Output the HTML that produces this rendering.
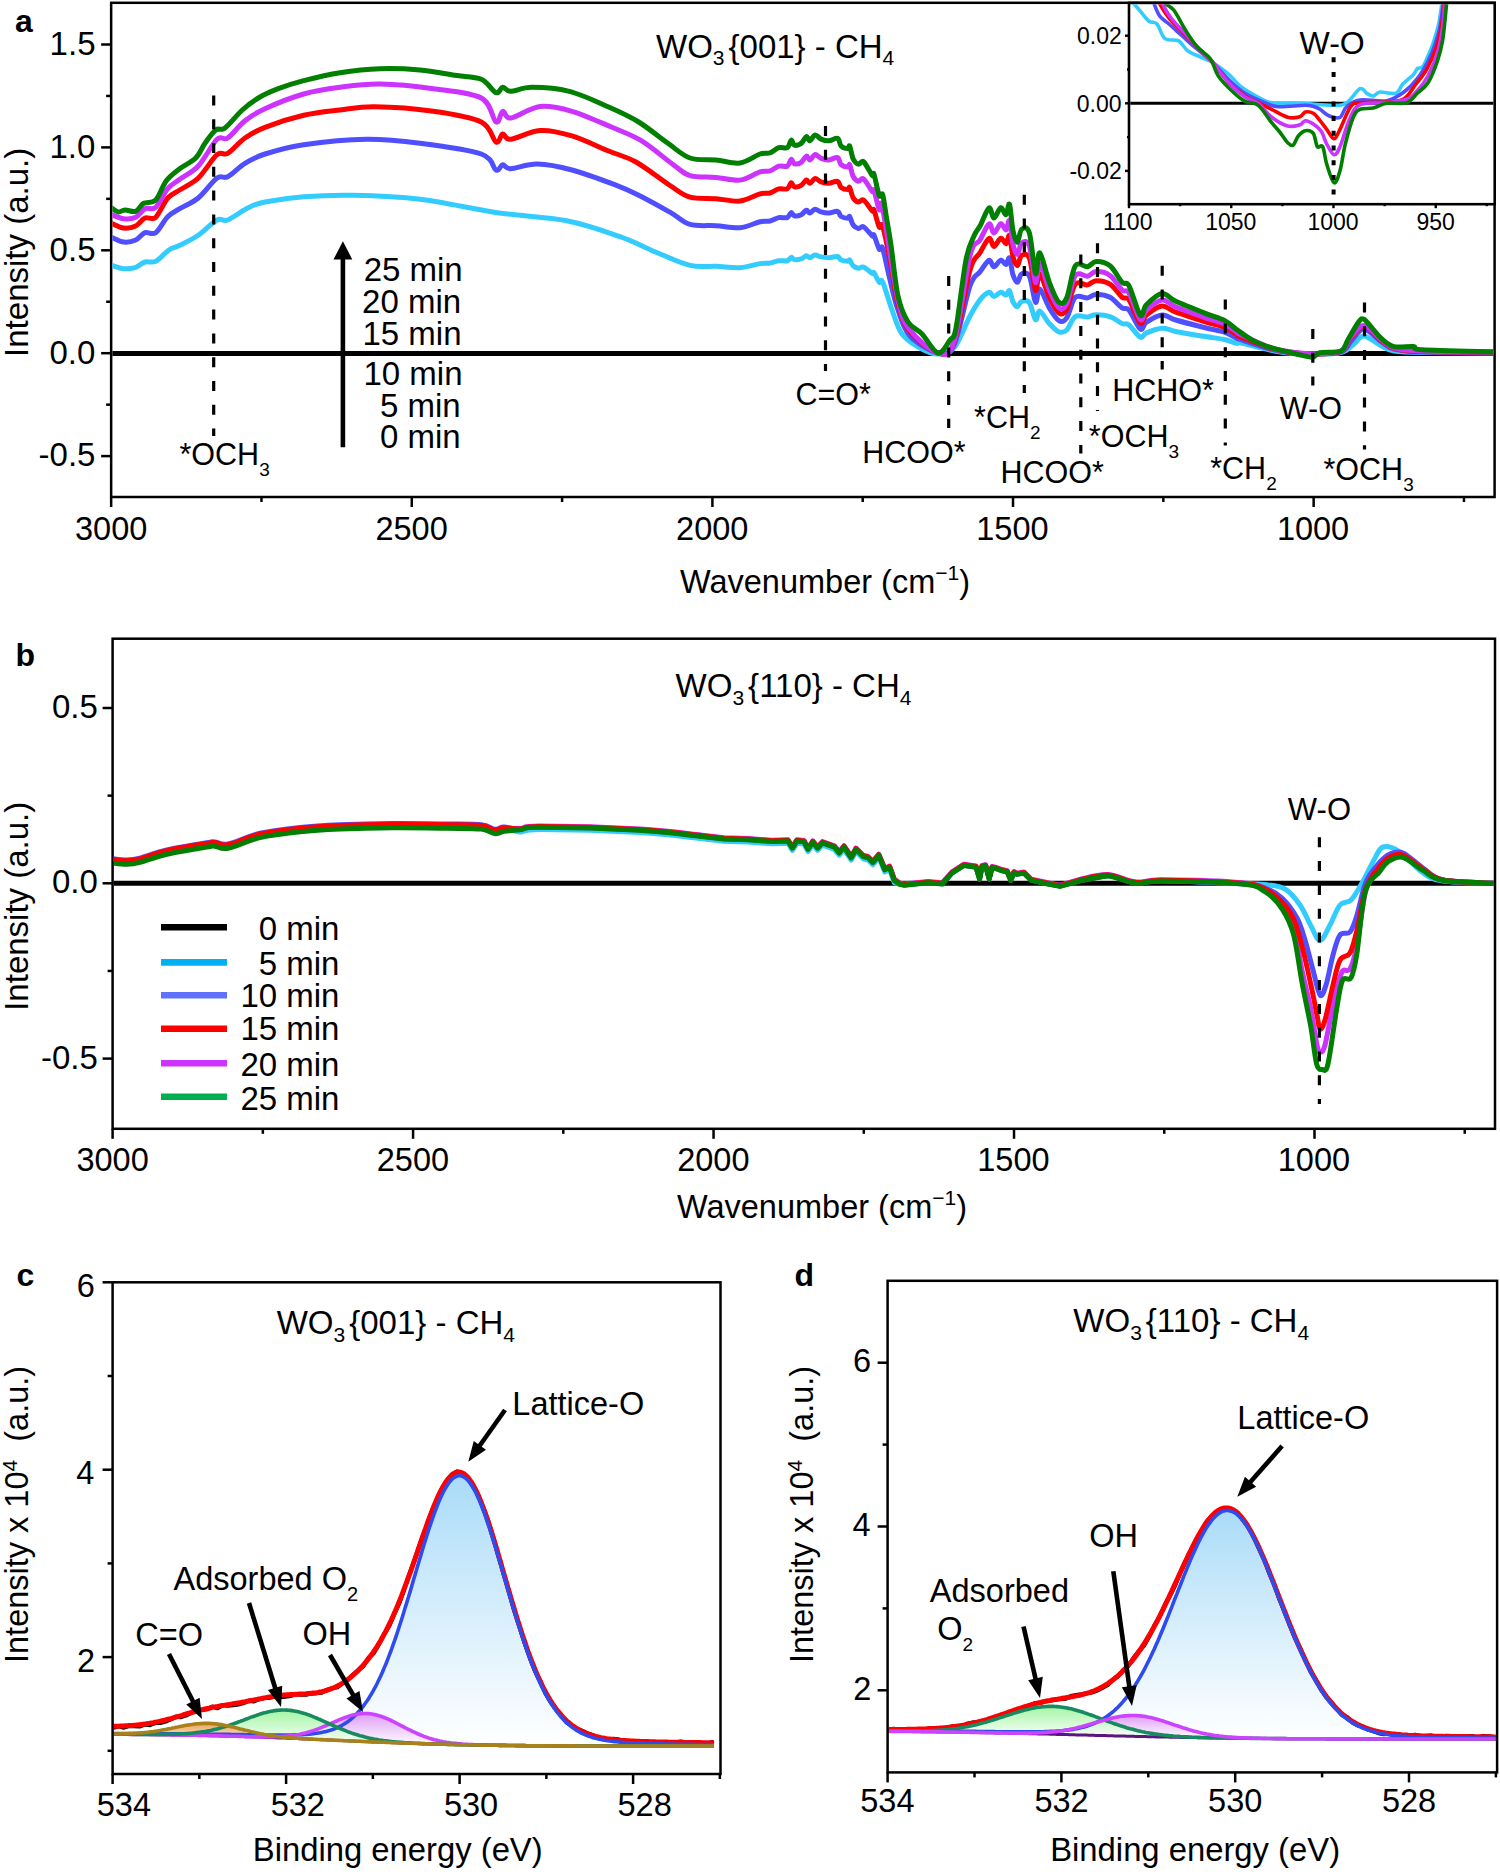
<!DOCTYPE html>
<html><head><meta charset="utf-8"><style>
html,body{margin:0;padding:0;background:#fff;}
svg{display:block;}
text{font-family:"Liberation Sans", sans-serif;fill:#000;}
</style></head><body>
<svg width="1500" height="1874" viewBox="0 0 1500 1874">
<rect x="0" y="0" width="1500" height="1874" fill="#fff"/>
<rect x="111.15" y="2.8" width="1383.45" height="494.20" fill="none" stroke="#000" stroke-width="2.5"/>
<line x1="101.15" y1="44.50" x2="111.15" y2="44.50" stroke="#000" stroke-width="2.5" />
<text x="49.61" y="54.80" font-size="33" text-anchor="start" >1.5</text>
<line x1="101.15" y1="147.40" x2="111.15" y2="147.40" stroke="#000" stroke-width="2.5" />
<text x="49.51" y="157.70" font-size="33" text-anchor="start" >1.0</text>
<line x1="101.15" y1="250.30" x2="111.15" y2="250.30" stroke="#000" stroke-width="2.5" />
<text x="49.61" y="260.60" font-size="33" text-anchor="start" >0.5</text>
<line x1="101.15" y1="353.20" x2="111.15" y2="353.20" stroke="#000" stroke-width="2.5" />
<text x="49.51" y="363.50" font-size="33" text-anchor="start" >0.0</text>
<line x1="101.15" y1="456.10" x2="111.15" y2="456.10" stroke="#000" stroke-width="2.5" />
<text x="38.62" y="466.40" font-size="33" text-anchor="start" >-0.5</text>
<line x1="106.15" y1="95.95" x2="111.15" y2="95.95" stroke="#000" stroke-width="2.5" />
<line x1="106.15" y1="198.85" x2="111.15" y2="198.85" stroke="#000" stroke-width="2.5" />
<line x1="106.15" y1="301.75" x2="111.15" y2="301.75" stroke="#000" stroke-width="2.5" />
<line x1="106.15" y1="404.65" x2="111.15" y2="404.65" stroke="#000" stroke-width="2.5" />
<line x1="111.15" y1="497.00" x2="111.15" y2="507.00" stroke="#000" stroke-width="2.5" />
<text x="75.02" y="540.00" font-size="32.5" text-anchor="start" >3000</text>
<line x1="411.77" y1="497.00" x2="411.77" y2="507.00" stroke="#000" stroke-width="2.5" />
<text x="375.44" y="540.00" font-size="32.5" text-anchor="start" >2500</text>
<line x1="712.40" y1="497.00" x2="712.40" y2="507.00" stroke="#000" stroke-width="2.5" />
<text x="676.07" y="540.00" font-size="32.5" text-anchor="start" >2000</text>
<line x1="1013.02" y1="497.00" x2="1013.02" y2="507.00" stroke="#000" stroke-width="2.5" />
<text x="976.27" y="540.00" font-size="32.5" text-anchor="start" >1500</text>
<line x1="1313.65" y1="497.00" x2="1313.65" y2="507.00" stroke="#000" stroke-width="2.5" />
<text x="1276.90" y="540.00" font-size="32.5" text-anchor="start" >1000</text>
<line x1="261.46" y1="497.00" x2="261.46" y2="502.00" stroke="#000" stroke-width="2.5" />
<line x1="562.09" y1="497.00" x2="562.09" y2="502.00" stroke="#000" stroke-width="2.5" />
<line x1="862.71" y1="497.00" x2="862.71" y2="502.00" stroke="#000" stroke-width="2.5" />
<line x1="1163.34" y1="497.00" x2="1163.34" y2="502.00" stroke="#000" stroke-width="2.5" />
<line x1="1463.96" y1="497.00" x2="1463.96" y2="502.00" stroke="#000" stroke-width="2.5" />
<text x="27.90" y="356.90" font-size="33" text-anchor="start" transform="rotate(-90 27.9 356.9)">Intensity (a.u.)</text>
<text x="680" y="592.5" font-size="32.5">Wavenumber (cm<tspan font-size="21" dy="-13">&#8722;1</tspan><tspan dy="13">)</tspan></text>
<text x="15.00" y="32.00" font-size="32" font-weight="bold" text-anchor="start" >a</text>
<defs><clipPath id="clipA"><rect x="112.4" y="4.05" width="1381" height="491.7"/></clipPath><clipPath id="clipIns"><rect x="1130.3" y="4.3" width="363" height="198.5"/></clipPath></defs>
<g clip-path="url(#clipA)">
<line x1="111.15" y1="353.50" x2="1494.60" y2="353.50" stroke="#000" stroke-width="5" />
<path d="M111.70,265.30 C113.70,265.87 119.70,268.37 123.70,268.70 C127.70,269.03 132.15,268.42 135.70,267.30 C139.25,266.18 141.67,263.00 145.00,262.00 C148.33,261.00 151.70,263.30 155.70,261.30 C159.70,259.30 165.00,252.67 169.00,250.00 C173.00,247.33 174.82,247.75 179.70,245.30 C184.58,242.85 192.08,239.52 198.30,235.30 C204.52,231.08 212.10,222.55 217.00,220.00 C221.90,217.45 222.58,222.00 227.70,220.00 C232.82,218.00 241.48,211.00 247.70,208.00 C253.92,205.00 255.67,203.88 265.00,202.00 C274.33,200.12 288.98,197.82 303.70,196.70 C318.42,195.58 333.92,194.87 353.30,195.30 C372.68,195.73 396.00,196.40 420.00,199.30 C444.00,202.20 472.85,209.13 497.30,212.70 C521.75,216.27 546.25,216.70 566.70,220.70 C587.15,224.70 604.90,231.37 620.00,236.70 C635.10,242.03 645.63,247.91 657.30,252.70 C668.97,257.49 680.22,263.15 690.00,265.42 C699.78,267.68 707.67,265.94 716.00,266.31 C724.33,266.69 732.67,268.12 740.00,267.67 C747.33,267.22 755.00,264.37 760.00,263.62 C765.00,262.86 766.88,263.59 770.00,263.12 C773.12,262.65 775.82,261.17 778.70,260.78 C781.58,260.39 785.22,261.35 787.30,260.78 C789.38,260.21 790.03,257.56 791.20,257.36 C792.37,257.17 792.63,259.36 794.30,259.61 C795.97,259.86 799.18,259.48 801.20,258.85 C803.22,258.21 804.95,255.98 806.40,255.78 C807.85,255.59 808.45,257.80 809.90,257.68 C811.35,257.55 813.23,255.15 815.10,255.02 C816.97,254.89 818.80,256.47 821.10,256.91 C823.40,257.35 826.15,257.74 828.90,257.68 C831.65,257.62 835.57,256.16 837.60,256.55 C839.63,256.94 839.37,259.24 841.10,260.01 C842.83,260.79 846.57,261.18 848.00,261.19 C849.43,261.19 848.83,259.28 849.70,260.06 C850.57,260.84 851.75,264.51 853.20,265.87 C854.65,267.22 856.67,268.00 858.40,268.20 C860.13,268.41 861.28,266.23 863.60,267.08 C865.92,267.93 870.57,272.35 872.30,273.29 C874.03,274.23 872.85,271.21 874.00,272.70 C875.15,274.20 877.75,280.71 879.20,282.25 C880.65,283.78 880.57,277.30 882.70,281.93 C884.83,286.56 888.78,301.32 892.00,310.00 C895.22,318.68 897.33,327.67 902.00,334.00 C906.67,340.33 914.00,344.67 920.00,348.00 C926.00,351.33 932.33,354.00 938.00,354.00 C943.67,354.00 948.67,354.33 954.00,348.00 C959.33,341.67 965.67,324.03 970.00,316.00 C974.33,307.97 976.83,303.79 980.00,299.83 C983.17,295.88 986.68,292.83 989.00,292.27 C991.32,291.72 991.93,296.54 993.90,296.52 C995.87,296.50 998.78,292.39 1000.80,292.15 C1002.82,291.91 1004.55,295.33 1006.00,295.09 C1007.45,294.85 1008.35,289.63 1009.50,290.72 C1010.65,291.81 1011.60,298.97 1012.90,301.64 C1014.20,304.31 1015.85,306.78 1017.30,306.72 C1018.75,306.66 1019.58,301.93 1021.60,301.26 C1023.62,300.60 1027.08,299.64 1029.40,302.73 C1031.72,305.83 1033.77,318.43 1035.50,319.83 C1037.23,321.22 1037.50,310.48 1039.80,311.09 C1042.10,311.70 1046.12,320.02 1049.30,323.48 C1052.48,326.94 1056.00,330.75 1058.90,331.84 C1061.80,332.93 1063.97,332.58 1066.70,330.03 C1069.43,327.48 1071.83,318.73 1075.30,316.55 C1078.77,314.37 1084.03,317.23 1087.50,316.93 C1090.97,316.63 1092.35,314.81 1096.10,314.74 C1099.85,314.68 1105.67,315.09 1110.00,316.55 C1114.33,318.01 1118.93,322.09 1122.10,323.48 C1125.27,324.87 1125.97,322.61 1129.00,324.91 C1132.03,327.21 1137.40,335.96 1140.30,337.30 C1143.20,338.63 1142.78,334.45 1146.40,332.93 C1150.02,331.41 1157.10,328.43 1162.00,328.18 C1166.90,327.94 1168.58,330.07 1175.80,331.46 C1183.02,332.85 1197.20,335.20 1205.30,336.54 C1213.40,337.88 1219.12,338.33 1224.40,339.48 C1229.68,340.63 1234.40,342.86 1237.00,343.43 C1239.60,344.00 1234.50,341.80 1240.00,342.90 C1245.50,344.00 1262.00,348.32 1270.00,350.00 C1278.00,351.68 1280.88,352.33 1288.00,353.00 C1295.12,353.67 1303.87,354.08 1312.70,354.00 C1321.53,353.92 1334.12,354.17 1341.00,352.50 C1347.88,350.83 1350.17,346.75 1354.00,344.00 C1357.83,341.25 1359.40,335.67 1364.00,336.00 C1368.60,336.33 1376.60,343.50 1381.60,346.00 C1386.60,348.50 1387.27,349.92 1394.00,351.00 C1400.73,352.08 1405.50,352.17 1422.00,352.50 C1438.50,352.83 1481.17,352.92 1493.00,353.00" fill="none" stroke="#33CCFF" stroke-width="5.0" stroke-linejoin="round" stroke-linecap="round" />
<path d="M111.70,237.30 C113.70,238.08 119.70,241.55 123.70,242.00 C127.70,242.45 132.15,241.55 135.70,240.00 C139.25,238.45 141.67,233.92 145.00,232.70 C148.33,231.48 151.92,235.37 155.70,232.70 C159.48,230.03 163.70,220.70 167.70,216.70 C171.70,212.70 174.60,211.82 179.70,208.70 C184.80,205.58 192.08,203.12 198.30,198.00 C204.52,192.88 212.10,181.55 217.00,178.00 C221.90,174.45 223.03,179.15 227.70,176.70 C232.37,174.25 238.78,167.08 245.00,163.30 C251.22,159.52 255.22,157.10 265.00,154.00 C274.78,150.90 286.75,147.15 303.70,144.70 C320.65,142.25 347.32,139.53 366.70,139.30 C386.08,139.07 400.90,140.85 420.00,143.30 C439.10,145.75 468.63,149.55 481.30,154.00 C493.97,158.45 492.43,168.22 496.00,170.00 C499.57,171.78 500.25,164.92 502.70,164.70 C505.15,164.48 504.93,168.80 510.70,168.70 C516.47,168.60 527.08,163.88 537.30,164.10 C547.52,164.32 559.10,166.57 572.00,170.00 C584.90,173.43 603.58,180.48 614.70,184.70 C625.82,188.92 629.37,190.63 638.70,195.30 C648.03,199.97 662.15,207.85 670.70,212.70 C679.25,217.55 682.45,222.23 690.00,224.40 C697.55,226.57 707.67,225.17 716.00,225.72 C724.33,226.27 732.67,228.36 740.00,227.70 C747.33,227.04 755.00,222.87 760.00,221.76 C765.00,220.65 766.88,221.73 770.00,221.04 C773.12,220.34 775.82,218.18 778.70,217.60 C781.58,217.03 785.22,218.44 787.30,217.60 C789.38,216.77 790.03,212.87 791.20,212.59 C792.37,212.30 792.63,215.53 794.30,215.89 C795.97,216.25 799.18,215.70 801.20,214.77 C803.22,213.83 804.95,210.56 806.40,210.28 C807.85,209.99 808.45,213.24 809.90,213.05 C811.35,212.86 813.23,209.34 815.10,209.16 C816.97,208.97 818.80,211.28 821.10,211.93 C823.40,212.58 826.15,213.14 828.90,213.05 C831.65,212.96 835.57,210.83 837.60,211.40 C839.63,211.97 839.37,215.35 841.10,216.48 C842.83,217.62 846.57,218.19 848.00,218.20 C849.43,218.21 848.83,215.40 849.70,216.55 C850.57,217.69 851.75,223.07 853.20,225.06 C854.65,227.05 856.67,228.20 858.40,228.49 C860.13,228.79 861.28,225.60 863.60,226.84 C865.92,228.09 870.57,234.58 872.30,235.95 C874.03,237.33 872.85,232.91 874.00,235.09 C875.15,237.28 877.75,246.83 879.20,249.09 C880.65,251.34 880.90,243.47 882.70,248.62 C884.50,253.78 887.45,269.77 890.00,280.00 C892.55,290.23 894.67,300.67 898.00,310.00 C901.33,319.33 903.33,328.83 910.00,336.00 C916.67,343.17 930.67,351.50 938.00,353.00 C945.33,354.50 948.67,356.17 954.00,345.00 C959.33,333.83 965.67,298.20 970.00,286.00 C974.33,273.80 976.83,276.11 980.00,271.83 C983.17,267.55 986.68,261.15 989.00,260.31 C991.32,259.47 991.93,266.80 993.90,266.77 C995.87,266.74 998.78,260.48 1000.80,260.12 C1002.82,259.75 1004.55,264.96 1006.00,264.60 C1007.45,264.23 1008.35,256.28 1009.50,257.94 C1010.65,259.60 1011.60,270.52 1012.90,274.58 C1014.20,278.64 1015.85,282.42 1017.30,282.32 C1018.75,282.23 1019.58,275.02 1021.60,274.00 C1023.62,272.99 1027.08,271.53 1029.40,276.24 C1031.72,280.96 1033.77,300.17 1035.50,302.29 C1037.23,304.41 1037.50,288.05 1039.80,288.98 C1042.10,289.91 1046.12,302.59 1049.30,307.86 C1052.48,313.13 1056.00,318.93 1058.90,320.60 C1061.80,322.26 1063.97,321.73 1066.70,317.84 C1069.43,313.96 1071.83,300.63 1075.30,297.30 C1078.77,293.97 1084.03,298.33 1087.50,297.88 C1090.97,297.42 1092.35,294.64 1096.10,294.55 C1099.85,294.45 1105.67,295.08 1110.00,297.30 C1114.33,299.52 1118.93,305.74 1122.10,307.86 C1125.27,309.98 1125.97,306.53 1129.00,310.04 C1132.03,313.55 1137.40,326.88 1140.30,328.92 C1143.20,330.95 1142.78,324.57 1146.40,322.26 C1150.02,319.95 1157.10,315.40 1162.00,315.03 C1166.90,314.65 1168.58,317.90 1175.80,320.02 C1183.02,322.14 1197.20,325.73 1205.30,327.76 C1213.40,329.80 1219.12,330.49 1224.40,332.24 C1229.68,333.99 1234.40,337.07 1237.00,338.26 C1239.60,339.45 1234.50,337.61 1240.00,339.40 C1245.50,341.19 1262.00,346.82 1270.00,349.00 C1278.00,351.18 1280.88,351.67 1288.00,352.50 C1295.12,353.33 1303.87,354.08 1312.70,354.00 C1321.53,353.92 1334.45,354.33 1341.00,352.00 C1347.55,349.67 1348.17,343.83 1352.00,340.00 C1355.83,336.17 1359.07,328.67 1364.00,329.00 C1368.93,329.33 1376.60,338.67 1381.60,342.00 C1386.60,345.33 1387.27,347.33 1394.00,349.00 C1400.73,350.67 1405.50,351.42 1422.00,352.00 C1438.50,352.58 1481.17,352.42 1493.00,352.50" fill="none" stroke="#4F4FFF" stroke-width="5.0" stroke-linejoin="round" stroke-linecap="round" />
<path d="M111.70,223.30 C113.70,224.08 119.70,227.55 123.70,228.00 C127.70,228.45 132.15,227.67 135.70,226.00 C139.25,224.33 141.67,219.45 145.00,218.00 C148.33,216.55 151.92,220.63 155.70,217.30 C159.48,213.97 163.70,202.55 167.70,198.00 C171.70,193.45 174.60,193.33 179.70,190.00 C184.80,186.67 192.08,183.88 198.30,178.00 C204.52,172.12 212.10,158.82 217.00,154.70 C221.90,150.58 223.03,156.08 227.70,153.30 C232.37,150.52 238.78,142.33 245.00,138.00 C251.22,133.67 255.22,131.08 265.00,127.30 C274.78,123.52 291.20,118.18 303.70,115.30 C316.20,112.42 328.17,111.42 340.00,110.00 C351.83,108.58 359.15,106.58 374.70,106.80 C390.25,107.02 415.53,108.77 433.30,111.30 C451.07,113.83 470.85,116.88 481.30,122.00 C491.75,127.12 492.43,140.00 496.00,142.00 C499.57,144.00 500.25,134.45 502.70,134.00 C505.15,133.55 504.48,139.88 510.70,139.30 C516.92,138.72 529.78,131.07 540.00,130.50 C550.22,129.93 560.45,132.43 572.00,135.90 C583.55,139.37 598.63,146.95 609.30,151.30 C619.97,155.65 625.77,156.22 636.00,162.00 C646.23,167.78 661.70,180.16 670.70,186.00 C679.70,191.84 682.45,194.95 690.00,197.06 C697.55,199.17 707.67,197.99 716.00,198.66 C724.33,199.33 732.67,201.86 740.00,201.06 C747.33,200.26 755.00,195.21 760.00,193.86 C765.00,192.51 766.88,193.82 770.00,192.98 C773.12,192.14 775.82,189.51 778.70,188.82 C781.58,188.13 785.22,189.83 787.30,188.82 C789.38,187.81 790.03,183.09 791.20,182.74 C792.37,182.39 792.63,186.30 794.30,186.74 C795.97,187.18 799.18,186.51 801.20,185.38 C803.22,184.25 804.95,180.29 806.40,179.94 C807.85,179.59 808.45,183.53 809.90,183.30 C811.35,183.07 813.23,178.81 815.10,178.58 C816.97,178.35 818.80,181.15 821.10,181.94 C823.40,182.73 826.15,183.41 828.90,183.30 C831.65,183.19 835.57,180.61 837.60,181.30 C839.63,181.99 839.37,186.09 841.10,187.46 C842.83,188.83 846.57,189.53 848.00,189.54 C849.43,189.55 848.83,186.15 849.70,187.54 C850.57,188.93 851.75,195.45 853.20,197.86 C854.65,200.27 856.67,201.66 858.40,202.02 C860.13,202.38 861.28,198.51 863.60,200.02 C865.92,201.53 870.57,209.39 872.30,211.06 C874.03,212.73 872.85,207.37 874.00,210.02 C875.15,212.67 877.75,224.25 879.20,226.98 C880.65,229.71 880.90,220.92 882.70,226.42 C884.50,231.92 887.45,247.07 890.00,260.00 C892.55,272.93 894.67,292.00 898.00,304.00 C901.33,316.00 903.33,323.83 910.00,332.00 C916.67,340.17 930.67,351.17 938.00,353.00 C945.33,354.83 948.67,356.83 954.00,343.00 C959.33,329.17 965.67,285.04 970.00,270.00 C974.33,254.96 976.83,257.98 980.00,252.73 C983.17,247.49 986.68,239.55 989.00,238.51 C991.32,237.47 991.93,246.53 993.90,246.49 C995.87,246.45 998.78,238.72 1000.80,238.28 C1002.82,237.83 1004.55,244.25 1006.00,243.81 C1007.45,243.36 1008.35,233.54 1009.50,235.59 C1010.65,237.64 1011.60,251.11 1012.90,256.13 C1014.20,261.15 1015.85,265.81 1017.30,265.69 C1018.75,265.57 1019.58,256.67 1021.60,255.42 C1023.62,254.17 1027.08,252.36 1029.40,258.18 C1031.72,264.00 1033.77,287.72 1035.50,290.34 C1037.23,292.96 1037.50,272.76 1039.80,273.90 C1042.10,275.05 1046.12,290.71 1049.30,297.21 C1052.48,303.71 1056.00,310.88 1058.90,312.93 C1061.80,314.98 1063.97,314.33 1066.70,309.53 C1069.43,304.74 1071.83,288.28 1075.30,284.18 C1078.77,280.07 1084.03,285.45 1087.50,284.89 C1090.97,284.32 1092.35,280.90 1096.10,280.78 C1099.85,280.66 1105.67,281.44 1110.00,284.18 C1114.33,286.91 1118.93,294.59 1122.10,297.21 C1125.27,299.83 1125.97,295.56 1129.00,299.90 C1132.03,304.23 1137.40,320.69 1140.30,323.20 C1143.20,325.72 1142.78,317.84 1146.40,314.99 C1150.02,312.13 1157.10,306.52 1162.00,306.06 C1166.90,305.60 1168.58,309.60 1175.80,312.22 C1183.02,314.84 1197.20,319.26 1205.30,321.78 C1213.40,324.29 1219.12,325.15 1224.40,327.31 C1229.68,329.47 1234.40,333.15 1237.00,334.74 C1239.60,336.32 1234.50,334.59 1240.00,336.80 C1245.50,339.01 1262.00,345.47 1270.00,348.00 C1278.00,350.53 1280.88,351.00 1288.00,352.00 C1295.12,353.00 1303.87,354.08 1312.70,354.00 C1321.53,353.92 1334.78,354.00 1341.00,351.50 C1347.22,349.00 1346.17,343.20 1350.00,339.00 C1353.83,334.80 1358.73,325.97 1364.00,326.30 C1369.27,326.63 1376.60,337.30 1381.60,341.00 C1386.60,344.70 1387.27,346.75 1394.00,348.50 C1400.73,350.25 1405.50,350.92 1422.00,351.50 C1438.50,352.08 1481.17,351.92 1493.00,352.00" fill="none" stroke="#FF0000" stroke-width="5.0" stroke-linejoin="round" stroke-linecap="round" />
<path d="M111.70,214.70 C113.70,215.37 119.70,218.27 123.70,218.70 C127.70,219.13 132.15,218.97 135.70,217.30 C139.25,215.63 141.67,210.37 145.00,208.70 C148.33,207.03 151.92,210.63 155.70,207.30 C159.48,203.97 163.70,193.37 167.70,188.70 C171.70,184.03 174.60,183.08 179.70,179.30 C184.80,175.52 192.08,172.67 198.30,166.00 C204.52,159.33 212.10,143.97 217.00,139.30 C221.90,134.63 223.03,141.10 227.70,138.00 C232.37,134.90 238.78,125.58 245.00,120.70 C251.22,115.82 255.22,113.15 265.00,108.70 C274.78,104.25 291.20,97.57 303.70,94.00 C316.20,90.43 327.28,88.95 340.00,87.30 C352.72,85.65 364.45,83.87 380.00,84.10 C395.55,84.33 416.42,86.38 433.30,88.70 C450.18,91.02 470.85,92.45 481.30,98.00 C491.75,103.55 492.43,119.78 496.00,122.00 C499.57,124.22 500.25,111.97 502.70,111.30 C505.15,110.63 504.48,118.80 510.70,118.00 C516.92,117.20 529.78,107.62 540.00,106.50 C550.22,105.38 560.00,107.83 572.00,111.30 C584.00,114.77 600.45,122.40 612.00,127.30 C623.55,132.20 631.08,134.47 641.30,140.70 C651.52,146.93 665.18,158.89 673.30,164.70 C681.42,170.51 682.88,173.46 690.00,175.58 C697.12,177.69 707.67,176.64 716.00,177.40 C724.33,178.16 732.67,181.04 740.00,180.13 C747.33,179.22 755.00,173.47 760.00,171.94 C765.00,170.41 766.88,171.89 770.00,170.94 C773.12,169.98 775.82,166.99 778.70,166.20 C781.58,165.42 785.22,167.36 787.30,166.20 C789.38,165.05 790.03,159.68 791.20,159.29 C792.37,158.89 792.63,163.34 794.30,163.84 C795.97,164.34 799.18,163.58 801.20,162.29 C803.22,161.00 804.95,156.50 806.40,156.10 C807.85,155.71 808.45,160.18 809.90,159.93 C811.35,159.67 813.23,154.81 815.10,154.56 C816.97,154.30 818.80,157.48 821.10,158.38 C823.40,159.27 826.15,160.05 828.90,159.93 C831.65,159.80 835.57,156.86 837.60,157.65 C839.63,158.44 839.37,163.09 841.10,164.66 C842.83,166.22 846.57,167.01 848.00,167.02 C849.43,167.04 848.83,163.17 849.70,164.75 C850.57,166.33 851.75,173.74 853.20,176.49 C854.65,179.23 856.67,180.81 858.40,181.22 C860.13,181.63 861.28,177.23 863.60,178.94 C865.92,180.66 870.57,189.61 872.30,191.50 C874.03,193.40 872.85,187.30 874.00,190.32 C875.15,193.34 877.75,206.50 879.20,209.61 C880.65,212.72 879.57,193.91 882.70,208.97 C885.83,224.04 893.45,279.83 898.00,300.00 C902.55,320.17 903.33,321.17 910.00,330.00 C916.67,338.83 930.67,351.00 938.00,353.00 C945.33,355.00 948.67,358.17 954.00,342.00 C959.33,325.83 965.67,273.00 970.00,256.00 C974.33,239.00 976.83,245.34 980.00,240.00 C983.17,234.67 986.68,225.15 989.00,223.98 C991.32,222.81 991.93,233.02 993.90,232.97 C995.87,232.93 998.78,224.22 1000.80,223.72 C1002.82,223.21 1004.55,230.45 1006.00,229.95 C1007.45,229.44 1008.35,218.38 1009.50,220.69 C1010.65,223.00 1011.60,238.18 1012.90,243.83 C1014.20,249.48 1015.85,254.73 1017.30,254.60 C1018.75,254.47 1019.58,244.44 1021.60,243.03 C1023.62,241.62 1027.08,239.59 1029.40,246.14 C1031.72,252.70 1033.77,279.42 1035.50,282.37 C1037.23,285.32 1037.50,262.56 1039.80,263.86 C1042.10,265.15 1046.12,282.78 1049.30,290.11 C1052.48,297.44 1056.00,305.51 1058.90,307.82 C1061.80,310.13 1063.97,309.39 1066.70,303.99 C1069.43,298.59 1071.83,280.05 1075.30,275.43 C1078.77,270.80 1084.03,276.86 1087.50,276.23 C1090.97,275.59 1092.35,271.73 1096.10,271.60 C1099.85,271.46 1105.67,272.34 1110.00,275.43 C1114.33,278.51 1118.93,287.16 1122.10,290.11 C1125.27,293.06 1125.97,288.26 1129.00,293.14 C1132.03,298.02 1137.40,316.56 1140.30,319.39 C1143.20,322.22 1142.78,313.35 1146.40,310.13 C1150.02,306.92 1157.10,300.60 1162.00,300.08 C1166.90,299.56 1168.58,304.07 1175.80,307.02 C1183.02,309.97 1197.20,314.96 1205.30,317.79 C1213.40,320.62 1219.12,321.59 1224.40,324.02 C1229.68,326.45 1234.40,330.69 1237.00,332.38 C1239.60,334.08 1234.50,331.68 1240.00,334.20 C1245.50,336.72 1262.00,344.62 1270.00,347.50 C1278.00,350.38 1280.88,350.42 1288.00,351.50 C1295.12,352.58 1303.87,354.08 1312.70,354.00 C1321.53,353.92 1334.78,353.67 1341.00,351.00 C1347.22,348.33 1346.17,342.27 1350.00,338.00 C1353.83,333.73 1358.73,325.07 1364.00,325.40 C1369.27,325.73 1376.60,336.23 1381.60,340.00 C1386.60,343.77 1387.27,346.17 1394.00,348.00 C1400.73,349.83 1405.50,350.33 1422.00,351.00 C1438.50,351.67 1481.17,351.83 1493.00,352.00" fill="none" stroke="#CC33FF" stroke-width="5.0" stroke-linejoin="round" stroke-linecap="round" />
<path d="M111.70,208.00 C112.80,208.67 116.08,211.67 118.30,212.00 C120.52,212.33 122.10,210.12 125.00,210.00 C127.90,209.88 132.58,212.42 135.70,211.30 C138.82,210.18 140.37,205.18 143.70,203.30 C147.03,201.42 151.93,203.77 155.70,200.00 C159.47,196.23 162.30,185.92 166.30,180.70 C170.30,175.48 174.80,172.48 179.70,168.70 C184.60,164.92 191.48,162.23 195.70,158.00 C199.92,153.77 201.67,147.97 205.00,143.30 C208.33,138.63 212.37,132.55 215.70,130.00 C219.03,127.45 220.57,131.33 225.00,128.00 C229.43,124.67 236.75,115.00 242.30,110.00 C247.85,105.00 252.30,101.55 258.30,98.00 C264.30,94.45 270.73,91.58 278.30,88.70 C285.87,85.82 293.42,83.37 303.70,80.70 C313.98,78.03 327.28,74.70 340.00,72.70 C352.72,70.70 366.67,69.15 380.00,68.70 C393.33,68.25 407.55,68.90 420.00,70.00 C432.45,71.10 444.48,73.75 454.70,75.30 C464.92,76.85 474.42,76.40 481.30,79.30 C488.18,82.20 492.43,91.37 496.00,92.70 C499.57,94.03 500.25,87.53 502.70,87.30 C505.15,87.07 505.82,91.30 510.70,91.30 C515.58,91.30 522.23,87.30 532.00,87.30 C541.77,87.30 556.42,87.97 569.30,91.30 C582.18,94.63 597.73,102.18 609.30,107.30 C620.87,112.42 628.92,116.00 638.70,122.00 C648.48,128.00 659.45,137.30 668.00,143.30 C676.55,149.30 682.00,155.22 690.00,158.00 C698.00,160.78 707.67,159.17 716.00,160.00 C724.33,160.83 732.67,164.00 740.00,163.00 C747.33,162.00 755.00,155.68 760.00,154.00 C765.00,152.32 766.88,153.95 770.00,152.90 C773.12,151.85 775.82,148.57 778.70,147.70 C781.58,146.83 785.22,148.97 787.30,147.70 C789.38,146.43 790.03,140.53 791.20,140.10 C792.37,139.67 792.63,144.55 794.30,145.10 C795.97,145.65 799.18,144.82 801.20,143.40 C803.22,141.98 804.95,137.03 806.40,136.60 C807.85,136.17 808.45,141.08 809.90,140.80 C811.35,140.52 813.23,135.18 815.10,134.90 C816.97,134.62 818.80,138.12 821.10,139.10 C823.40,140.08 826.15,140.93 828.90,140.80 C831.65,140.67 835.57,137.43 837.60,138.30 C839.63,139.17 839.37,144.28 841.10,146.00 C842.83,147.72 846.57,148.58 848.00,148.60 C849.43,148.62 848.83,144.37 849.70,146.10 C850.57,147.83 851.75,155.98 853.20,159.00 C854.65,162.02 856.67,163.75 858.40,164.20 C860.13,164.65 861.28,159.82 863.60,161.70 C865.92,163.58 870.57,173.42 872.30,175.50 C874.03,177.58 872.85,170.88 874.00,174.20 C875.15,177.52 877.75,191.98 879.20,195.40 C880.65,198.82 881.55,191.38 882.70,194.70 C883.85,198.02 884.72,206.92 886.10,215.30 C887.48,223.68 889.02,231.55 891.00,245.00 C892.98,258.45 895.17,283.17 898.00,296.00 C900.83,308.83 904.00,315.67 908.00,322.00 C912.00,328.33 917.00,328.83 922.00,334.00 C927.00,339.17 933.33,352.00 938.00,353.00 C942.67,354.00 947.00,344.17 950.00,340.00 C953.00,335.83 953.33,341.33 956.00,328.00 C958.67,314.67 963.00,275.33 966.00,260.00 C969.00,244.67 971.67,241.67 974.00,236.00 C976.33,230.33 977.50,230.67 980.00,226.00 C982.50,221.33 986.68,209.32 989.00,208.00 C991.32,206.68 991.93,218.15 993.90,218.10 C995.87,218.05 998.78,208.27 1000.80,207.70 C1002.82,207.13 1004.55,215.27 1006.00,214.70 C1007.45,214.13 1008.35,201.70 1009.50,204.30 C1010.65,206.90 1011.60,223.95 1012.90,230.30 C1014.20,236.65 1015.85,242.55 1017.30,242.40 C1018.75,242.25 1019.58,230.98 1021.60,229.40 C1023.62,227.82 1027.08,225.53 1029.40,232.90 C1031.72,240.27 1033.77,270.28 1035.50,273.60 C1037.23,276.92 1037.50,251.35 1039.80,252.80 C1042.10,254.25 1046.12,274.07 1049.30,282.30 C1052.48,290.53 1056.00,299.60 1058.90,302.20 C1061.80,304.80 1063.97,303.97 1066.70,297.90 C1069.43,291.83 1071.83,271.00 1075.30,265.80 C1078.77,260.60 1084.03,267.42 1087.50,266.70 C1090.97,265.98 1092.35,261.65 1096.10,261.50 C1099.85,261.35 1105.67,262.33 1110.00,265.80 C1114.33,269.27 1118.93,278.98 1122.10,282.30 C1125.27,285.62 1125.97,280.22 1129.00,285.70 C1132.03,291.18 1137.40,312.02 1140.30,315.20 C1143.20,318.38 1142.78,308.42 1146.40,304.80 C1150.02,301.18 1157.10,294.08 1162.00,293.50 C1166.90,292.92 1168.58,297.98 1175.80,301.30 C1183.02,304.62 1197.20,310.22 1205.30,313.40 C1213.40,316.58 1219.12,317.67 1224.40,320.40 C1229.68,323.13 1232.28,326.47 1237.00,329.80 C1241.72,333.13 1247.15,337.45 1252.70,340.40 C1258.25,343.35 1264.42,345.58 1270.30,347.50 C1276.18,349.42 1282.70,350.58 1288.00,351.90 C1293.30,353.22 1297.98,354.52 1302.10,355.40 C1306.22,356.28 1309.75,357.63 1312.70,357.20 C1315.65,356.77 1315.08,353.83 1319.80,352.80 C1324.52,351.77 1336.28,353.22 1341.00,351.00 C1345.72,348.78 1345.15,344.35 1348.10,339.50 C1351.05,334.65 1356.05,325.28 1358.70,321.90 C1361.35,318.52 1361.65,318.03 1364.00,319.20 C1366.35,320.37 1369.87,325.65 1372.80,328.90 C1375.73,332.15 1378.07,335.75 1381.60,338.70 C1385.13,341.65 1388.70,345.28 1394.00,346.60 C1399.30,347.92 1408.68,346.07 1413.40,346.60 C1418.12,347.13 1409.03,348.92 1422.30,349.80 C1435.57,350.68 1481.22,351.55 1493.00,351.90" fill="none" stroke="#007F00" stroke-width="5.0" stroke-linejoin="round" stroke-linecap="round" />
</g>
<line x1="213.70" y1="95.40" x2="213.70" y2="436.00" stroke="#000" stroke-width="3.2" stroke-dasharray="10 13.8"/>
<line x1="825.50" y1="126.00" x2="825.50" y2="371.00" stroke="#000" stroke-width="3.2" stroke-dasharray="10 13.8"/>
<line x1="948.70" y1="276.00" x2="948.70" y2="428.00" stroke="#000" stroke-width="3.2" stroke-dasharray="10 13.8"/>
<line x1="1024.30" y1="194.70" x2="1024.30" y2="393.00" stroke="#000" stroke-width="3.2" stroke-dasharray="10 13.8"/>
<line x1="1080.80" y1="254.50" x2="1080.80" y2="453.50" stroke="#000" stroke-width="3.2" stroke-dasharray="10 13.8"/>
<line x1="1097.50" y1="243.30" x2="1097.50" y2="411.00" stroke="#000" stroke-width="3.2" stroke-dasharray="10 13.8"/>
<line x1="1162.20" y1="265.80" x2="1162.20" y2="369.50" stroke="#000" stroke-width="3.2" stroke-dasharray="10 13.8"/>
<line x1="1225.30" y1="299.60" x2="1225.30" y2="445.50" stroke="#000" stroke-width="3.2" stroke-dasharray="10 13.8"/>
<line x1="1312.80" y1="329.00" x2="1312.80" y2="385.50" stroke="#000" stroke-width="3.2" stroke-dasharray="10 13.8"/>
<line x1="1364.50" y1="302.40" x2="1364.50" y2="449.50" stroke="#000" stroke-width="3.2" stroke-dasharray="10 13.8"/>
<line x1="342.90" y1="447.30" x2="342.90" y2="257.00" stroke="#000" stroke-width="4.6" />
<polygon points="342.9,241.3 333.5,259.5 352.3,259.5" fill="#000"/>
<text x="363.64" y="281.00" font-size="33" text-anchor="start" >25 min</text>
<text x="362.04" y="312.90" font-size="33" text-anchor="start" >20 min</text>
<text x="362.49" y="344.70" font-size="33" text-anchor="start" >15 min</text>
<text x="363.49" y="385.00" font-size="33" text-anchor="start" >10 min</text>
<text x="379.98" y="417.00" font-size="33" text-anchor="start" >5 min</text>
<text x="380.01" y="447.60" font-size="33" text-anchor="start" >0 min</text>
<text x="179.51" y="465.20" font-size="30.5">*OCH<tspan font-size="19" dy="11">3</tspan></text>
<text x="795.45" y="405.40" font-size="30.5">C=O*</text>
<text x="862.30" y="463.30" font-size="30.5">HCOO*</text>
<text x="974.11" y="427.60" font-size="30.5">*CH<tspan font-size="19" dy="11">2</tspan></text>
<text x="1000.50" y="482.60" font-size="30.5">HCOO*</text>
<text x="1088.81" y="446.70" font-size="30.5">*OCH<tspan font-size="19" dy="11">3</tspan></text>
<text x="1112.20" y="401.30" font-size="30.5">HCHO*</text>
<text x="1210.21" y="478.70" font-size="30.5">*CH<tspan font-size="19" dy="11">2</tspan></text>
<text x="1279.87" y="418.70" font-size="30.5">W-O</text>
<text x="1323.51" y="480.00" font-size="30.5">*OCH<tspan font-size="19" dy="11">3</tspan></text>
<text x="656" y="57.8" font-size="33">WO<tspan font-size="21" dy="7.5">3</tspan><tspan font-size="33" dy="-7.5" dx="4">{001} - CH</tspan><tspan font-size="21" dy="7.5">4</tspan></text>
<rect x="1129.0" y="2.9" width="365.70" height="201.30" fill="#fff" stroke="#000" stroke-width="2.6"/>
<g clip-path="url(#clipIns)">
<line x1="1129.00" y1="103.30" x2="1494.70" y2="103.30" stroke="#000" stroke-width="3" />
<path d="M1126.00,-4.00 C1127.17,-2.88 1130.50,0.03 1133.00,2.70 C1135.50,5.37 1138.33,8.90 1141.00,12.00 C1143.67,15.10 1146.33,19.30 1149.00,21.30 C1151.67,23.30 1154.33,21.10 1157.00,24.00 C1159.67,26.90 1161.45,35.92 1165.00,38.70 C1168.55,41.48 1174.52,38.70 1178.30,40.70 C1182.08,42.70 1184.13,48.03 1187.70,50.70 C1191.27,53.37 1195.93,54.93 1199.70,56.70 C1203.47,58.47 1205.63,58.53 1210.30,61.30 C1214.97,64.07 1222.58,69.07 1227.70,73.30 C1232.82,77.53 1235.90,82.70 1241.00,86.70 C1246.10,90.70 1253.18,94.63 1258.30,97.30 C1263.42,99.97 1264.75,101.70 1271.70,102.70 C1278.65,103.70 1289.73,102.87 1300.00,103.30 C1310.27,103.73 1325.52,105.40 1333.30,105.30 C1341.08,105.20 1342.25,105.47 1346.70,102.70 C1351.15,99.93 1356.67,90.27 1360.00,88.70 C1363.33,87.13 1364.48,92.08 1366.70,93.30 C1368.92,94.52 1371.08,96.22 1373.30,96.00 C1375.52,95.78 1376.22,92.45 1380.00,92.00 C1383.78,91.55 1392.22,94.63 1396.00,93.30 C1399.78,91.97 1399.82,87.10 1402.70,84.00 C1405.58,80.90 1410.87,77.25 1413.30,74.70 C1415.73,72.15 1415.73,70.03 1417.30,68.70 C1418.87,67.37 1420.92,68.82 1422.70,66.70 C1424.48,64.58 1426.23,60.00 1428.00,56.00 C1429.77,52.00 1431.52,48.03 1433.30,42.70 C1435.08,37.37 1437.25,30.67 1438.70,24.00 C1440.15,17.33 1441.28,7.37 1442.00,2.70 C1442.72,-1.97 1442.83,-2.88 1443.00,-4.00" fill="none" stroke="#33CCFF" stroke-width="3.6" stroke-linejoin="round" stroke-linecap="round" />
<path d="M1152.00,-4.00 C1152.28,-2.88 1152.42,-0.63 1153.70,2.70 C1154.98,6.03 1157.15,12.45 1159.70,16.00 C1162.25,19.55 1165.23,20.67 1169.00,24.00 C1172.77,27.33 1177.85,32.00 1182.30,36.00 C1186.75,40.00 1190.80,43.78 1195.70,48.00 C1200.60,52.22 1206.15,55.97 1211.70,61.30 C1217.25,66.63 1223.45,74.67 1229.00,80.00 C1234.55,85.33 1239.00,89.52 1245.00,93.30 C1251.00,97.08 1259.45,100.47 1265.00,102.70 C1270.55,104.93 1271.63,106.27 1278.30,106.70 C1284.97,107.13 1299.00,105.30 1305.00,105.30 C1311.00,105.30 1311.80,106.03 1314.30,106.70 C1316.80,107.37 1317.50,107.75 1320.00,109.30 C1322.50,110.85 1325.97,114.67 1329.30,116.00 C1332.63,117.33 1337.10,118.85 1340.00,117.30 C1342.90,115.75 1343.37,109.58 1346.70,106.70 C1350.03,103.82 1353.33,101.00 1360.00,100.00 C1366.67,99.00 1379.37,102.03 1386.70,100.70 C1394.03,99.37 1398.90,95.67 1404.00,92.00 C1409.10,88.33 1413.30,83.82 1417.30,78.70 C1421.30,73.58 1425.10,66.87 1428.00,61.30 C1430.90,55.73 1432.70,51.07 1434.70,45.30 C1436.70,39.53 1438.57,33.80 1440.00,26.70 C1441.43,19.60 1442.63,7.82 1443.30,2.70 C1443.97,-2.42 1443.88,-2.88 1444.00,-4.00" fill="none" stroke="#4F4FFF" stroke-width="3.6" stroke-linejoin="round" stroke-linecap="round" />
<path d="M1157.00,-4.00 C1157.33,-2.88 1157.00,-0.97 1159.00,2.70 C1161.00,6.37 1164.88,12.90 1169.00,18.00 C1173.12,23.10 1179.03,28.52 1183.70,33.30 C1188.37,38.08 1192.33,42.03 1197.00,46.70 C1201.67,51.37 1206.37,55.30 1211.70,61.30 C1217.03,67.30 1223.45,76.92 1229.00,82.70 C1234.55,88.48 1240.12,92.67 1245.00,96.00 C1249.88,99.33 1253.85,100.48 1258.30,102.70 C1262.75,104.92 1266.80,106.87 1271.70,109.30 C1276.60,111.73 1282.98,116.07 1287.70,117.30 C1292.42,118.53 1297.07,117.58 1300.00,116.70 C1302.93,115.82 1303.08,112.57 1305.30,112.00 C1307.52,111.43 1310.85,111.85 1313.30,113.30 C1315.75,114.75 1317.77,118.03 1320.00,120.70 C1322.23,123.37 1324.37,126.30 1326.70,129.30 C1329.03,132.30 1331.78,138.70 1334.00,138.70 C1336.22,138.70 1337.22,134.63 1340.00,129.30 C1342.78,123.97 1347.37,111.13 1350.70,106.70 C1354.03,102.27 1354.00,103.48 1360.00,102.70 C1366.00,101.92 1379.37,102.67 1386.70,102.00 C1394.03,101.33 1399.12,101.70 1404.00,98.70 C1408.88,95.70 1412.22,88.90 1416.00,84.00 C1419.78,79.10 1423.37,75.30 1426.70,69.30 C1430.03,63.30 1433.57,55.10 1436.00,48.00 C1438.43,40.90 1439.97,34.25 1441.30,26.70 C1442.63,19.15 1443.38,7.82 1444.00,2.70 C1444.62,-2.42 1444.83,-2.88 1445.00,-4.00" fill="none" stroke="#FF0000" stroke-width="3.6" stroke-linejoin="round" stroke-linecap="round" />
<path d="M1160.00,-4.00 C1160.33,-2.88 1160.17,-0.97 1162.00,2.70 C1163.83,6.37 1167.17,12.90 1171.00,18.00 C1174.83,23.10 1180.67,28.52 1185.00,33.30 C1189.33,38.08 1192.55,42.03 1197.00,46.70 C1201.45,51.37 1206.37,55.25 1211.70,61.30 C1217.03,67.35 1223.45,77.05 1229.00,83.00 C1234.55,88.95 1240.12,93.58 1245.00,97.00 C1249.88,100.42 1253.85,100.12 1258.30,103.50 C1262.75,106.88 1266.80,113.55 1271.70,117.30 C1276.60,121.05 1282.98,124.77 1287.70,126.00 C1292.42,127.23 1297.07,125.58 1300.00,124.70 C1302.93,123.82 1303.08,120.82 1305.30,120.70 C1307.52,120.58 1310.63,122.23 1313.30,124.00 C1315.97,125.77 1319.07,127.97 1321.30,131.30 C1323.53,134.63 1324.58,140.10 1326.70,144.00 C1328.82,147.90 1331.78,154.25 1334.00,154.70 C1336.22,155.15 1337.45,152.48 1340.00,146.70 C1342.55,140.92 1345.97,127.00 1349.30,120.00 C1352.63,113.00 1353.77,107.58 1360.00,104.70 C1366.23,101.82 1378.92,103.60 1386.70,102.70 C1394.48,101.80 1401.60,101.30 1406.70,99.30 C1411.80,97.30 1413.75,94.58 1417.30,90.70 C1420.85,86.82 1424.67,82.23 1428.00,76.00 C1431.33,69.77 1434.85,61.52 1437.30,53.30 C1439.75,45.08 1441.47,35.13 1442.70,26.70 C1443.93,18.27 1444.23,7.82 1444.70,2.70 C1445.17,-2.42 1445.37,-2.88 1445.50,-4.00" fill="none" stroke="#CC33FF" stroke-width="3.6" stroke-linejoin="round" stroke-linecap="round" />
<path d="M1161.00,-4.00 C1161.88,-2.67 1164.08,1.55 1166.30,4.00 C1168.52,6.45 1171.18,6.48 1174.30,10.70 C1177.42,14.92 1181.22,23.30 1185.00,29.30 C1188.78,35.30 1192.78,41.80 1197.00,46.70 C1201.22,51.60 1206.75,53.82 1210.30,58.70 C1213.85,63.58 1214.73,70.67 1218.30,76.00 C1221.87,81.33 1227.25,86.48 1231.70,90.70 C1236.15,94.92 1240.57,98.87 1245.00,101.30 C1249.43,103.73 1253.85,101.73 1258.30,105.30 C1262.75,108.87 1268.13,118.25 1271.70,122.70 C1275.27,127.15 1277.03,128.67 1279.70,132.00 C1282.37,135.33 1285.48,140.48 1287.70,142.70 C1289.92,144.92 1291.23,146.42 1293.00,145.30 C1294.77,144.18 1296.25,138.43 1298.30,136.00 C1300.35,133.57 1302.80,131.15 1305.30,130.70 C1307.80,130.25 1311.30,130.63 1313.30,133.30 C1315.30,135.97 1315.73,144.47 1317.30,146.70 C1318.87,148.93 1321.13,143.82 1322.70,146.70 C1324.27,149.58 1324.82,158.00 1326.70,164.00 C1328.58,170.00 1331.78,181.58 1334.00,182.70 C1336.22,183.82 1338.12,177.15 1340.00,170.70 C1341.88,164.25 1343.08,152.90 1345.30,144.00 C1347.52,135.10 1350.85,123.08 1353.30,117.30 C1355.75,111.52 1356.67,110.85 1360.00,109.30 C1363.33,107.75 1368.85,109.00 1373.30,108.00 C1377.75,107.00 1381.13,104.18 1386.70,103.30 C1392.27,102.42 1401.60,104.37 1406.70,102.70 C1411.80,101.03 1413.75,96.63 1417.30,93.30 C1420.85,89.97 1424.67,88.03 1428.00,82.70 C1431.33,77.37 1434.85,68.42 1437.30,61.30 C1439.75,54.18 1441.13,49.77 1442.70,40.00 C1444.27,30.23 1445.90,10.03 1446.70,2.70 C1447.50,-4.63 1447.37,-2.88 1447.50,-4.00" fill="none" stroke="#007F00" stroke-width="3.6" stroke-linejoin="round" stroke-linecap="round" />
</g>
<line x1="1125.00" y1="35.70" x2="1129.00" y2="35.70" stroke="#000" stroke-width="2.4" />
<text x="1077.09" y="43.90" font-size="23" text-anchor="start" >0.02</text>
<line x1="1125.00" y1="103.30" x2="1129.00" y2="103.30" stroke="#000" stroke-width="2.4" />
<text x="1076.83" y="111.50" font-size="23" text-anchor="start" >0.00</text>
<line x1="1125.00" y1="170.90" x2="1129.00" y2="170.90" stroke="#000" stroke-width="2.4" />
<text x="1069.43" y="179.10" font-size="23" text-anchor="start" >-0.02</text>
<line x1="1127.00" y1="69.50" x2="1129.00" y2="69.50" stroke="#000" stroke-width="2.4" />
<line x1="1127.00" y1="137.10" x2="1129.00" y2="137.10" stroke="#000" stroke-width="2.4" />
<line x1="1129.00" y1="204.20" x2="1129.00" y2="208.20" stroke="#000" stroke-width="2.4" />
<text x="1102.99" y="230.30" font-size="23" text-anchor="start" >1100</text>
<line x1="1231.25" y1="204.20" x2="1231.25" y2="208.20" stroke="#000" stroke-width="2.4" />
<text x="1205.24" y="230.30" font-size="23" text-anchor="start" >1050</text>
<line x1="1333.50" y1="204.20" x2="1333.50" y2="208.20" stroke="#000" stroke-width="2.4" />
<text x="1307.49" y="230.30" font-size="23" text-anchor="start" >1000</text>
<line x1="1435.75" y1="204.20" x2="1435.75" y2="208.20" stroke="#000" stroke-width="2.4" />
<text x="1416.47" y="230.30" font-size="23" text-anchor="start" >950</text>
<line x1="1180.12" y1="204.20" x2="1180.12" y2="206.20" stroke="#000" stroke-width="2.4" />
<line x1="1282.38" y1="204.20" x2="1282.38" y2="206.20" stroke="#000" stroke-width="2.4" />
<line x1="1384.62" y1="204.20" x2="1384.62" y2="206.20" stroke="#000" stroke-width="2.4" />
<line x1="1486.88" y1="204.20" x2="1486.88" y2="206.20" stroke="#000" stroke-width="2.4" />
<line x1="1333.60" y1="57.30" x2="1333.60" y2="204.00" stroke="#000" stroke-width="4" stroke-dasharray="5 9.7"/>
<text x="1299.56" y="54.00" font-size="32">W-O</text>
<rect x="112.6" y="638.7" width="1382.40" height="490.10" fill="none" stroke="#000" stroke-width="2.5"/>
<line x1="102.60" y1="708.00" x2="112.60" y2="708.00" stroke="#000" stroke-width="2.5" />
<text x="52.01" y="718.10" font-size="33" text-anchor="start" >0.5</text>
<line x1="102.60" y1="883.30" x2="112.60" y2="883.30" stroke="#000" stroke-width="2.5" />
<text x="51.91" y="893.40" font-size="33" text-anchor="start" >0.0</text>
<line x1="102.60" y1="1058.60" x2="112.60" y2="1058.60" stroke="#000" stroke-width="2.5" />
<text x="41.02" y="1068.70" font-size="33" text-anchor="start" >-0.5</text>
<line x1="107.60" y1="795.65" x2="112.60" y2="795.65" stroke="#000" stroke-width="2.5" />
<line x1="107.60" y1="970.95" x2="112.60" y2="970.95" stroke="#000" stroke-width="2.5" />
<line x1="112.60" y1="1128.80" x2="112.60" y2="1138.80" stroke="#000" stroke-width="2.5" />
<text x="76.47" y="1171.00" font-size="32.5" text-anchor="start" >3000</text>
<line x1="413.07" y1="1128.80" x2="413.07" y2="1138.80" stroke="#000" stroke-width="2.5" />
<text x="376.74" y="1171.00" font-size="32.5" text-anchor="start" >2500</text>
<line x1="713.55" y1="1128.80" x2="713.55" y2="1138.80" stroke="#000" stroke-width="2.5" />
<text x="677.22" y="1171.00" font-size="32.5" text-anchor="start" >2000</text>
<line x1="1014.02" y1="1128.80" x2="1014.02" y2="1138.80" stroke="#000" stroke-width="2.5" />
<text x="977.27" y="1171.00" font-size="32.5" text-anchor="start" >1500</text>
<line x1="1314.50" y1="1128.80" x2="1314.50" y2="1138.80" stroke="#000" stroke-width="2.5" />
<text x="1277.75" y="1171.00" font-size="32.5" text-anchor="start" >1000</text>
<line x1="262.84" y1="1128.80" x2="262.84" y2="1133.80" stroke="#000" stroke-width="2.5" />
<line x1="563.31" y1="1128.80" x2="563.31" y2="1133.80" stroke="#000" stroke-width="2.5" />
<line x1="863.79" y1="1128.80" x2="863.79" y2="1133.80" stroke="#000" stroke-width="2.5" />
<line x1="1164.26" y1="1128.80" x2="1164.26" y2="1133.80" stroke="#000" stroke-width="2.5" />
<line x1="1464.74" y1="1128.80" x2="1464.74" y2="1133.80" stroke="#000" stroke-width="2.5" />
<text x="27.90" y="1010.80" font-size="33" text-anchor="start" transform="rotate(-90 27.9 1010.8)">Intensity (a.u.)</text>
<text x="677" y="1218.2" font-size="32.5">Wavenumber (cm<tspan font-size="21" dy="-13">&#8722;1</tspan><tspan dy="13">)</tspan></text>
<text x="15.60" y="666.40" font-size="32" font-weight="bold" text-anchor="start" >b</text>
<text x="675.6" y="697" font-size="33">WO<tspan font-size="21" dy="7.5">3</tspan><tspan font-size="33" dy="-7.5" dx="4">{110} - CH</tspan><tspan font-size="21" dy="7.5">4</tspan></text>
<clipPath id="clipB"><rect x="113.9" y="640" width="1379.8" height="487.5"/></clipPath>
<g clip-path="url(#clipB)">
<line x1="112.60" y1="883.30" x2="1495.00" y2="883.30" stroke="#000" stroke-width="5" />
<path d="M112.00,859.70 C114.45,859.92 122.03,861.10 126.70,861.00 C131.37,860.90 133.33,860.78 140.00,859.10 C146.67,857.42 155.58,853.47 166.70,850.90 C177.82,848.33 198.70,845.03 206.70,843.70 C214.70,842.37 211.15,842.68 214.70,842.90 C218.25,843.12 220.45,846.43 228.00,845.00 C235.55,843.57 248.00,837.05 260.00,834.30 C272.00,831.55 286.67,829.92 300.00,828.50 C313.33,827.08 324.45,826.47 340.00,825.80 C355.55,825.13 375.52,824.63 393.30,824.50 C411.08,824.37 432.03,824.78 446.70,825.00 C461.37,825.22 473.30,824.92 481.30,825.80 C489.30,826.68 490.92,829.93 494.70,830.30 C498.48,830.67 499.78,827.72 504.00,828.00 C508.22,828.28 514.00,831.75 520.00,832.00 C526.00,832.25 520.00,829.42 540.00,829.50 C560.00,829.58 613.33,831.00 640.00,832.50 C666.67,834.00 690.00,837.50 700.00,838.50" fill="none" stroke="#33CCFF" stroke-width="5.0" stroke-linejoin="round" stroke-linecap="round" />
<path d="M700.00,838.50 L724.00,841.30 L748.00,842.00 L772.00,843.70 L788.00,843.20 L792.40,850.40 L797.00,843.20 L804.00,844.00 L808.00,851.60 L812.80,844.40 L817.60,850.40 L822.40,845.10 L834.40,849.40 L839.20,855.20 L844.00,849.20 L851.20,860.00 L856.00,851.60 L863.20,858.80 L868.00,860.00 L872.80,864.80 L878.80,857.60 L884.80,872.00 L889.60,869.60 L894.40,882.80 L900.00,884.10 L904.00,884.90 L928.00,882.50 L942.40,883.70 L952.00,872.90 L964.00,865.20 L976.00,866.90 L979.60,878.90 L982.00,866.50 L985.60,865.70 L989.20,878.90 L992.00,867.50 L995.20,868.10 L1002.00,870.50 L1007.20,871.70 L1010.80,880.10 L1014.00,872.50 L1016.80,874.10 L1024.00,872.90 L1031.20,880.10 L1048.00,883.70 L1060.00,886.10 L1080.00,880.50 L1107.30,875.60" fill="none" stroke="#33CCFF" stroke-width="5.0" stroke-linejoin="round" stroke-linecap="round" />
<path d="M1080.00,880.50 C1084.55,879.68 1097.97,875.18 1107.30,875.60 C1116.63,876.02 1126.93,882.13 1136.00,883.00 C1145.07,883.87 1144.03,880.67 1161.70,880.80 C1179.37,880.93 1224.78,883.18 1242.00,883.80 C1259.22,884.42 1257.83,883.63 1265.00,884.50 C1272.17,885.37 1279.17,885.58 1285.00,889.00 C1290.83,892.42 1295.67,898.83 1300.00,905.00 C1304.33,911.17 1307.67,920.08 1311.00,926.00 C1314.33,931.92 1316.83,940.67 1320.00,940.50 C1323.17,940.33 1326.67,930.92 1330.00,925.00 C1333.33,919.08 1336.50,909.17 1340.00,905.00 C1343.50,900.83 1347.33,903.67 1351.00,900.00 C1354.67,896.33 1358.17,889.67 1362.00,883.00 C1365.83,876.33 1370.50,866.00 1374.00,860.00 C1377.50,854.00 1378.67,848.33 1383.00,847.00 C1387.33,845.67 1393.33,847.67 1400.00,852.00 C1406.67,856.33 1415.83,868.17 1423.00,873.00 C1430.17,877.83 1431.17,879.28 1443.00,881.00 C1454.83,882.72 1484.50,882.92 1494.00,883.30 C1503.50,883.68 1499.00,883.30 1500.00,883.30" fill="none" stroke="#33CCFF" stroke-width="5.0" stroke-linejoin="round" stroke-linecap="round" />
<path d="M112.00,858.70 C114.45,858.92 122.03,860.10 126.70,860.00 C131.37,859.90 133.33,859.78 140.00,858.10 C146.67,856.42 155.58,852.47 166.70,849.90 C177.82,847.33 198.70,844.03 206.70,842.70 C214.70,841.37 211.15,841.68 214.70,841.90 C218.25,842.12 220.45,845.43 228.00,844.00 C235.55,842.57 248.00,836.05 260.00,833.30 C272.00,830.55 286.67,828.92 300.00,827.50 C313.33,826.08 324.45,825.47 340.00,824.80 C355.55,824.13 375.52,823.63 393.30,823.50 C411.08,823.37 432.03,823.78 446.70,824.00 C461.37,824.22 473.30,823.92 481.30,824.80 C489.30,825.68 490.92,828.93 494.70,829.30 C498.48,829.67 499.78,826.97 504.00,827.00 C508.22,827.03 514.00,829.50 520.00,829.50 C526.00,829.50 520.00,826.92 540.00,827.00 C560.00,827.08 613.33,828.50 640.00,830.00 C666.67,831.50 690.00,835.00 700.00,836.00" fill="none" stroke="#4F4FFF" stroke-width="5.0" stroke-linejoin="round" stroke-linecap="round" />
<path d="M700.00,836.00 L724.00,838.80 L748.00,839.50 L772.00,841.20 L788.00,840.70 L792.40,847.90 L797.00,840.70 L804.00,841.50 L808.00,849.10 L812.80,841.90 L817.60,847.90 L822.40,842.60 L834.40,846.90 L839.20,852.70 L844.00,846.70 L851.20,857.50 L856.00,849.10 L863.20,856.30 L868.00,857.50 L872.80,862.30 L878.80,855.10 L884.80,869.50 L889.60,867.10 L894.40,880.30 L900.00,884.10 L904.00,884.90 L928.00,882.50 L942.40,883.70 L952.00,872.90 L964.00,865.20 L976.00,866.90 L979.60,878.90 L982.00,866.50 L985.60,865.70 L989.20,878.90 L992.00,867.50 L995.20,868.10 L1002.00,870.50 L1007.20,871.70 L1010.80,880.10 L1014.00,872.50 L1016.80,874.10 L1024.00,872.90 L1031.20,880.10 L1048.00,883.70 L1060.00,886.10 L1080.00,880.50 L1107.30,875.60" fill="none" stroke="#4F4FFF" stroke-width="5.0" stroke-linejoin="round" stroke-linecap="round" />
<path d="M1080.00,880.50 C1084.55,879.68 1097.97,875.18 1107.30,875.60 C1116.63,876.02 1126.93,882.13 1136.00,883.00 C1145.07,883.87 1144.03,880.67 1161.70,880.80 C1179.37,880.93 1224.78,882.60 1242.00,883.80 C1259.22,885.00 1258.33,885.63 1265.00,888.00 C1271.67,890.37 1276.67,893.00 1282.00,898.00 C1287.33,903.00 1293.17,911.00 1297.00,918.00 C1300.83,925.00 1302.33,931.33 1305.00,940.00 C1307.67,948.67 1310.50,960.83 1313.00,970.00 C1315.50,979.17 1317.83,992.50 1320.00,995.00 C1322.17,997.50 1323.83,991.67 1326.00,985.00 C1328.17,978.33 1330.67,963.33 1333.00,955.00 C1335.33,946.67 1337.17,938.83 1340.00,935.00 C1342.83,931.17 1347.17,935.33 1350.00,932.00 C1352.83,928.67 1354.33,923.33 1357.00,915.00 C1359.67,906.67 1362.17,890.83 1366.00,882.00 C1369.83,873.17 1376.00,866.67 1380.00,862.00 C1384.00,857.33 1386.17,855.50 1390.00,854.00 C1393.83,852.50 1397.50,850.67 1403.00,853.00 C1408.50,855.33 1416.33,863.50 1423.00,868.00 C1429.67,872.50 1431.17,877.45 1443.00,880.00 C1454.83,882.55 1484.50,882.75 1494.00,883.30 C1503.50,883.85 1499.00,883.30 1500.00,883.30" fill="none" stroke="#4F4FFF" stroke-width="5.0" stroke-linejoin="round" stroke-linecap="round" />
<path d="M112.00,860.20 C114.45,860.42 122.03,861.60 126.70,861.50 C131.37,861.40 133.33,861.28 140.00,859.60 C146.67,857.92 155.58,853.97 166.70,851.40 C177.82,848.83 198.70,845.53 206.70,844.20 C214.70,842.87 211.15,843.18 214.70,843.40 C218.25,843.62 220.45,846.93 228.00,845.50 C235.55,844.07 248.00,837.55 260.00,834.80 C272.00,832.05 286.67,830.42 300.00,829.00 C313.33,827.58 324.45,826.97 340.00,826.30 C355.55,825.63 375.52,825.13 393.30,825.00 C411.08,824.87 432.03,825.28 446.70,825.50 C461.37,825.72 473.30,825.42 481.30,826.30 C489.30,827.18 490.92,830.43 494.70,830.80 C498.48,831.17 499.78,828.88 504.00,828.50 C508.22,828.12 514.00,828.92 520.00,828.50 C526.00,828.08 520.00,825.92 540.00,826.00 C560.00,826.08 613.33,827.50 640.00,829.00 C666.67,830.50 690.00,834.00 700.00,835.00" fill="none" stroke="#CC33FF" stroke-width="5.0" stroke-linejoin="round" stroke-linecap="round" />
<path d="M700.00,835.00 L724.00,837.80 L748.00,838.50 L772.00,840.20 L788.00,839.70 L792.40,846.90 L797.00,839.70 L804.00,840.50 L808.00,848.10 L812.80,840.90 L817.60,846.90 L822.40,841.60 L834.40,845.90 L839.20,851.70 L844.00,845.70 L851.20,856.50 L856.00,848.10 L863.20,855.30 L868.00,856.50 L872.80,861.30 L878.80,854.10 L884.80,868.50 L889.60,866.10 L894.40,879.30 L900.00,883.10 L904.00,883.90 L928.00,881.50 L942.40,882.70 L952.00,871.90 L964.00,864.20 L976.00,865.90 L979.60,877.90 L982.00,865.50 L985.60,864.70 L989.20,877.90 L992.00,866.50 L995.20,867.10 L1002.00,869.50 L1007.20,870.70 L1010.80,879.10 L1014.00,871.50 L1016.80,873.10 L1024.00,871.90 L1031.20,879.10 L1048.00,882.70 L1060.00,885.10 L1080.00,879.50 L1107.30,874.60" fill="none" stroke="#CC33FF" stroke-width="5.0" stroke-linejoin="round" stroke-linecap="round" />
<path d="M1080.00,879.50 C1084.55,878.68 1097.97,874.18 1107.30,874.60 C1116.63,875.02 1126.93,881.13 1136.00,882.00 C1145.07,882.87 1144.03,879.67 1161.70,879.80 C1179.37,879.93 1224.78,881.10 1242.00,882.80 C1259.22,884.50 1258.33,886.30 1265.00,890.00 C1271.67,893.70 1277.17,898.67 1282.00,905.00 C1286.83,911.33 1290.67,917.17 1294.00,928.00 C1297.33,938.83 1299.17,956.33 1302.00,970.00 C1304.83,983.67 1308.50,997.50 1311.00,1010.00 C1313.50,1022.50 1315.50,1038.00 1317.00,1045.00 C1318.50,1052.00 1318.67,1052.00 1320.00,1052.00 C1321.33,1052.00 1322.67,1053.67 1325.00,1045.00 C1327.33,1036.33 1331.17,1012.17 1334.00,1000.00 C1336.83,987.83 1339.33,977.17 1342.00,972.00 C1344.67,966.83 1347.50,973.50 1350.00,969.00 C1352.50,964.50 1354.33,958.17 1357.00,945.00 C1359.67,931.83 1362.17,902.83 1366.00,890.00 C1369.83,877.17 1376.00,873.33 1380.00,868.00 C1384.00,862.67 1386.17,860.17 1390.00,858.00 C1393.83,855.83 1397.50,853.17 1403.00,855.00 C1408.50,856.83 1416.33,864.83 1423.00,869.00 C1429.67,873.17 1431.17,877.62 1443.00,880.00 C1454.83,882.38 1484.50,882.75 1494.00,883.30 C1503.50,883.85 1499.00,883.30 1500.00,883.30" fill="none" stroke="#CC33FF" stroke-width="5.0" stroke-linejoin="round" stroke-linecap="round" />
<path d="M112.00,859.40 C114.45,859.62 122.03,860.80 126.70,860.70 C131.37,860.60 133.33,860.48 140.00,858.80 C146.67,857.12 155.58,853.17 166.70,850.60 C177.82,848.03 198.70,844.73 206.70,843.40 C214.70,842.07 211.15,842.38 214.70,842.60 C218.25,842.82 220.45,846.13 228.00,844.70 C235.55,843.27 248.00,836.75 260.00,834.00 C272.00,831.25 286.67,829.62 300.00,828.20 C313.33,826.78 324.45,826.17 340.00,825.50 C355.55,824.83 375.52,824.33 393.30,824.20 C411.08,824.07 432.03,824.48 446.70,824.70 C461.37,824.92 473.30,824.62 481.30,825.50 C489.30,826.38 490.92,829.63 494.70,830.00 C498.48,830.37 499.78,827.87 504.00,827.70 C508.22,827.53 514.00,829.20 520.00,829.00 C526.00,828.80 520.00,826.42 540.00,826.50 C560.00,826.58 613.33,828.00 640.00,829.50 C666.67,831.00 690.00,834.50 700.00,835.50" fill="none" stroke="#FF0000" stroke-width="5.0" stroke-linejoin="round" stroke-linecap="round" />
<path d="M700.00,835.50 L724.00,838.30 L748.00,839.00 L772.00,840.70 L788.00,840.20 L792.40,847.40 L797.00,840.20 L804.00,841.00 L808.00,848.60 L812.80,841.40 L817.60,847.40 L822.40,842.10 L834.40,846.40 L839.20,852.20 L844.00,846.20 L851.20,857.00 L856.00,848.60 L863.20,855.80 L868.00,857.00 L872.80,861.80 L878.80,854.60 L884.80,869.00 L889.60,866.60 L894.40,879.80 L900.00,883.60 L904.00,884.40 L928.00,882.00 L942.40,883.20 L952.00,872.40 L964.00,864.70 L976.00,866.40 L979.60,878.40 L982.00,866.00 L985.60,865.20 L989.20,878.40 L992.00,867.00 L995.20,867.60 L1002.00,870.00 L1007.20,871.20 L1010.80,879.60 L1014.00,872.00 L1016.80,873.60 L1024.00,872.40 L1031.20,879.60 L1048.00,883.20 L1060.00,885.60 L1080.00,880.00 L1107.30,875.10" fill="none" stroke="#FF0000" stroke-width="5.0" stroke-linejoin="round" stroke-linecap="round" />
<path d="M1080.00,880.00 C1084.55,879.18 1097.97,874.68 1107.30,875.10 C1116.63,875.52 1126.93,881.63 1136.00,882.50 C1145.07,883.37 1144.03,880.17 1161.70,880.30 C1179.37,880.43 1224.78,881.85 1242.00,883.30 C1259.22,884.75 1258.33,885.88 1265.00,889.00 C1271.67,892.12 1277.17,896.83 1282.00,902.00 C1286.83,907.17 1290.50,912.00 1294.00,920.00 C1297.50,928.00 1300.00,938.33 1303.00,950.00 C1306.00,961.67 1309.67,979.17 1312.00,990.00 C1314.33,1000.83 1315.67,1008.50 1317.00,1015.00 C1318.33,1021.50 1318.67,1028.17 1320.00,1029.00 C1321.33,1029.83 1322.83,1027.33 1325.00,1020.00 C1327.17,1012.67 1330.50,995.00 1333.00,985.00 C1335.50,975.00 1337.17,965.33 1340.00,960.00 C1342.83,954.67 1347.17,958.00 1350.00,953.00 C1352.83,948.00 1354.33,940.83 1357.00,930.00 C1359.67,919.17 1362.17,898.67 1366.00,888.00 C1369.83,877.33 1376.00,871.17 1380.00,866.00 C1384.00,860.83 1386.17,858.83 1390.00,857.00 C1393.83,855.17 1397.50,853.00 1403.00,855.00 C1408.50,857.00 1416.33,864.83 1423.00,869.00 C1429.67,873.17 1431.17,877.62 1443.00,880.00 C1454.83,882.38 1484.50,882.75 1494.00,883.30 C1503.50,883.85 1499.00,883.30 1500.00,883.30" fill="none" stroke="#FF0000" stroke-width="5.0" stroke-linejoin="round" stroke-linecap="round" />
<path d="M112.00,863.00 C114.45,863.22 122.03,864.40 126.70,864.30 C131.37,864.20 133.33,864.08 140.00,862.40 C146.67,860.72 155.58,856.77 166.70,854.20 C177.82,851.63 198.70,848.33 206.70,847.00 C214.70,845.67 211.15,845.98 214.70,846.20 C218.25,846.42 220.45,849.73 228.00,848.30 C235.55,846.87 248.00,840.35 260.00,837.60 C272.00,834.85 286.67,833.22 300.00,831.80 C313.33,830.38 324.45,829.77 340.00,829.10 C355.55,828.43 375.52,827.93 393.30,827.80 C411.08,827.67 432.03,828.08 446.70,828.30 C461.37,828.52 473.30,828.22 481.30,829.10 C489.30,829.98 490.92,833.23 494.70,833.60 C498.48,833.97 499.78,831.93 504.00,831.30 C508.22,830.67 514.00,830.47 520.00,829.80 C526.00,829.13 520.00,827.22 540.00,827.30 C560.00,827.38 613.33,828.80 640.00,830.30 C666.67,831.80 690.00,835.30 700.00,836.30" fill="none" stroke="#007F00" stroke-width="5.0" stroke-linejoin="round" stroke-linecap="round" />
<path d="M700.00,836.30 L724.00,839.10 L748.00,839.80 L772.00,841.50 L788.00,841.00 L792.40,848.20 L797.00,841.00 L804.00,841.80 L808.00,849.40 L812.80,842.20 L817.60,848.20 L822.40,842.90 L834.40,847.20 L839.20,853.00 L844.00,847.00 L851.20,857.80 L856.00,849.40 L863.20,856.60 L868.00,857.80 L872.80,862.60 L878.80,855.40 L884.80,869.80 L889.60,867.40 L894.40,880.60 L900.00,884.40 L904.00,885.20 L928.00,882.80 L942.40,884.00 L952.00,873.20 L964.00,865.50 L976.00,867.20 L979.60,879.20 L982.00,866.80 L985.60,866.00 L989.20,879.20 L992.00,867.80 L995.20,868.40 L1002.00,870.80 L1007.20,872.00 L1010.80,880.40 L1014.00,872.80 L1016.80,874.40 L1024.00,873.20 L1031.20,880.40 L1048.00,884.00 L1060.00,886.40 L1080.00,880.80 L1107.30,875.90" fill="none" stroke="#007F00" stroke-width="5.0" stroke-linejoin="round" stroke-linecap="round" />
<path d="M1080.00,880.80 C1084.55,879.98 1097.97,875.48 1107.30,875.90 C1116.63,876.32 1126.93,882.43 1136.00,883.30 C1145.07,884.17 1144.03,880.97 1161.70,881.10 C1179.37,881.23 1224.78,882.33 1242.00,884.10 C1259.22,885.87 1258.30,887.55 1265.00,891.70 C1271.70,895.85 1277.43,901.83 1282.20,909.00 C1286.97,916.17 1290.27,922.28 1293.60,934.70 C1296.93,947.12 1299.33,968.20 1302.20,983.50 C1305.07,998.80 1308.40,1013.12 1310.80,1026.50 C1313.20,1039.88 1314.68,1056.63 1316.60,1063.80 C1318.52,1070.97 1320.40,1069.50 1322.30,1069.50 C1324.20,1069.50 1325.62,1073.83 1328.00,1063.80 C1330.38,1053.77 1334.20,1023.17 1336.60,1009.30 C1339.00,995.43 1340.00,985.85 1342.40,980.60 C1344.80,975.35 1348.62,982.10 1351.00,977.80 C1353.38,973.50 1354.32,969.15 1356.70,954.80 C1359.08,940.45 1361.48,905.55 1365.30,891.70 C1369.12,877.85 1375.78,876.72 1379.60,871.70 C1383.42,866.68 1384.37,864.00 1388.20,861.60 C1392.03,859.20 1396.87,855.87 1402.60,857.30 C1408.33,858.73 1415.92,866.37 1422.60,870.20 C1429.28,874.03 1430.75,878.12 1442.70,880.30 C1454.65,882.48 1484.75,882.80 1494.30,883.30 C1503.85,883.80 1499.05,883.30 1500.00,883.30" fill="none" stroke="#007F00" stroke-width="5.0" stroke-linejoin="round" stroke-linecap="round" />
</g>
<line x1="1319.40" y1="837.30" x2="1319.40" y2="1104.00" stroke="#000" stroke-width="3.2" stroke-dasharray="10 13.8"/>
<text x="1287.86" y="820.00" font-size="31">W-O</text>
<line x1="161.00" y1="927.30" x2="227.00" y2="927.30" stroke="#000000" stroke-width="6.6" />
<text x="258.75" y="939.70" font-size="33" text-anchor="start" >0 min</text>
<line x1="161.00" y1="962.40" x2="227.00" y2="962.40" stroke="#00B0F0" stroke-width="6.6" />
<text x="258.75" y="974.70" font-size="33" text-anchor="start" >5 min</text>
<line x1="161.00" y1="995.30" x2="227.00" y2="995.30" stroke="#6070FF" stroke-width="6.6" />
<text x="240.39" y="1006.90" font-size="33" text-anchor="start" >10 min</text>
<line x1="161.00" y1="1028.70" x2="227.00" y2="1028.70" stroke="#FF0000" stroke-width="6.6" />
<text x="240.39" y="1040.00" font-size="33" text-anchor="start" >15 min</text>
<line x1="161.00" y1="1063.30" x2="227.00" y2="1063.30" stroke="#CC33FF" stroke-width="6.6" />
<text x="240.39" y="1076.00" font-size="33" text-anchor="start" >20 min</text>
<line x1="161.00" y1="1096.70" x2="227.00" y2="1096.70" stroke="#00B050" stroke-width="6.6" />
<text x="240.39" y="1110.00" font-size="33" text-anchor="start" >25 min</text>
<clipPath id="clipC"><rect x="113.85" y="1283.55" width="605.4" height="489.20000000000005"/></clipPath>
<g clip-path="url(#clipC)">
<linearGradient id="gC0" x1="0" y1="0" x2="0" y2="1"><stop offset="0" stop-color="#A9DBF8"/><stop offset="1" stop-color="#ffffff" stop-opacity="0.9"/></linearGradient>
<polygon points="108.3,1733.4 110.0,1733.4 111.7,1733.5 113.5,1733.5 115.2,1733.5 116.9,1733.5 118.7,1733.5 120.4,1733.5 122.1,1733.5 123.9,1733.5 125.6,1733.5 127.3,1733.5 129.1,1733.5 130.8,1733.5 132.6,1733.5 134.3,1733.5 136.0,1733.5 137.8,1733.5 139.5,1733.5 141.2,1733.5 143.0,1733.6 144.7,1733.6 146.4,1733.6 148.2,1733.6 149.9,1733.6 151.6,1733.6 153.4,1733.6 155.1,1733.6 156.8,1733.6 158.6,1733.6 160.3,1733.7 162.0,1733.7 163.8,1733.7 165.5,1733.7 167.3,1733.7 169.0,1733.7 170.7,1733.7 172.5,1733.7 174.2,1733.8 175.9,1733.8 177.7,1733.8 179.4,1733.8 181.1,1733.8 182.9,1733.8 184.6,1733.9 186.3,1733.9 188.1,1733.9 189.8,1733.9 191.5,1733.9 193.3,1734.0 195.0,1734.0 196.7,1734.0 198.5,1734.0 200.2,1734.0 202.0,1734.1 203.7,1734.1 205.4,1734.1 207.2,1734.1 208.9,1734.1 210.6,1734.2 212.4,1734.2 214.1,1734.2 215.8,1734.2 217.6,1734.3 219.3,1734.3 221.0,1734.3 222.8,1734.3 224.5,1734.4 226.2,1734.4 228.0,1734.4 229.7,1734.4 231.4,1734.5 233.2,1734.5 234.9,1734.5 236.7,1734.5 238.4,1734.6 240.1,1734.6 241.9,1734.6 243.6,1734.6 245.3,1734.7 247.1,1734.7 248.8,1734.7 250.5,1734.8 252.3,1734.8 254.0,1734.8 255.7,1734.8 257.5,1734.8 259.2,1734.9 260.9,1734.9 262.7,1734.9 264.4,1734.9 266.1,1735.0 267.9,1735.0 269.6,1735.0 271.4,1735.0 273.1,1735.0 274.8,1735.0 276.6,1735.0 278.3,1735.0 280.0,1735.1 281.8,1735.0 283.5,1735.0 285.2,1735.0 287.0,1735.0 288.7,1735.0 290.4,1735.0 292.2,1735.0 293.9,1734.9 295.6,1734.9 297.4,1734.8 299.1,1734.8 300.8,1734.7 302.6,1734.6 304.3,1734.5 306.1,1734.4 307.8,1734.2 309.5,1734.1 311.3,1733.9 313.0,1733.8 314.7,1733.5 316.5,1733.3 318.2,1733.0 319.9,1732.8 321.7,1732.4 323.4,1732.1 325.1,1731.7 326.9,1731.3 328.6,1730.8 330.3,1730.3 332.1,1729.7 333.8,1729.1 335.5,1728.4 337.3,1727.6 339.0,1726.8 340.8,1726.0 342.5,1725.0 344.2,1724.0 346.0,1722.9 347.7,1721.7 349.4,1720.4 351.2,1719.0 352.9,1717.5 354.6,1715.9 356.4,1714.2 358.1,1712.3 359.8,1710.4 361.6,1708.3 363.3,1706.1 365.0,1703.8 366.8,1701.3 368.5,1698.7 370.2,1695.9 372.0,1693.0 373.7,1689.9 375.5,1686.7 377.2,1683.3 378.9,1679.7 380.7,1676.0 382.4,1672.2 384.1,1668.1 385.9,1664.0 387.6,1659.6 389.3,1655.1 391.1,1650.5 392.8,1645.7 394.5,1640.8 396.3,1635.7 398.0,1630.5 399.7,1625.2 401.5,1619.8 403.2,1614.3 404.9,1608.6 406.7,1602.9 408.4,1597.2 410.2,1591.4 411.9,1585.5 413.6,1579.6 415.4,1573.7 417.1,1567.8 418.8,1561.9 420.6,1556.1 422.3,1550.3 424.0,1544.6 425.8,1539.0 427.5,1533.5 429.2,1528.2 431.0,1522.9 432.7,1517.9 434.4,1513.1 436.2,1508.5 437.9,1504.1 439.6,1499.9 441.4,1496.1 443.1,1492.5 444.9,1489.2 446.6,1486.3 448.3,1483.7 450.1,1481.4 451.8,1479.5 453.5,1478.0 455.3,1476.9 457.0,1476.1 458.7,1475.8 460.5,1475.8 462.2,1476.2 463.9,1477.1 465.7,1478.3 467.4,1479.9 469.1,1481.8 470.9,1484.2 472.6,1486.9 474.3,1489.9 476.1,1493.2 477.8,1496.9 479.6,1500.8 481.3,1505.0 483.0,1509.5 484.8,1514.2 486.5,1519.1 488.2,1524.2 490.0,1529.5 491.7,1534.9 493.4,1540.5 495.2,1546.2 496.9,1552.0 498.6,1557.8 500.4,1563.7 502.1,1569.7 503.8,1575.7 505.6,1581.6 507.3,1587.6 509.0,1593.6 510.8,1599.5 512.5,1605.3 514.3,1611.1 516.0,1616.8 517.7,1622.4 519.5,1627.9 521.2,1633.3 522.9,1638.5 524.7,1643.7 526.4,1648.7 528.1,1653.6 529.9,1658.3 531.6,1662.9 533.3,1667.3 535.1,1671.5 536.8,1675.6 538.5,1679.6 540.3,1683.4 542.0,1687.0 543.7,1690.5 545.5,1693.8 547.2,1696.9 549.0,1699.9 550.7,1702.8 552.4,1705.5 554.2,1708.1 555.9,1710.5 557.6,1712.8 559.4,1714.9 561.1,1717.0 562.8,1718.9 564.6,1720.7 566.3,1722.4 568.0,1723.9 569.8,1725.4 571.5,1726.8 573.2,1728.1 575.0,1729.3 576.7,1730.4 578.4,1731.4 580.2,1732.4 581.9,1733.3 583.7,1734.1 585.4,1734.8 587.1,1735.6 588.9,1736.2 590.6,1736.8 592.3,1737.4 594.1,1737.9 595.8,1738.3 597.5,1738.8 599.3,1739.2 601.0,1739.6 602.7,1739.9 604.5,1740.2 606.2,1740.5 607.9,1740.8 609.7,1741.0 611.4,1741.2 613.1,1741.4 614.9,1741.6 616.6,1741.8 618.4,1742.0 620.1,1742.1 621.8,1742.2 623.6,1742.4 625.3,1742.5 627.0,1742.6 628.8,1742.7 630.5,1742.8 632.2,1742.9 634.0,1743.0 635.7,1743.1 637.4,1743.1 639.2,1743.2 640.9,1743.3 642.6,1743.3 644.4,1743.4 646.1,1743.5 647.8,1743.5 649.6,1743.6 651.3,1743.6 653.1,1743.7 654.8,1743.7 656.5,1743.8 658.3,1743.8 660.0,1743.8 661.7,1743.9 663.5,1743.9 665.2,1744.0 666.9,1744.0 668.7,1744.0 670.4,1744.1 672.1,1744.1 673.9,1744.1 675.6,1744.2 677.3,1744.2 679.1,1744.2 680.8,1744.2 682.5,1744.3 684.3,1744.3 686.0,1744.3 687.8,1744.4 689.5,1744.4 691.2,1744.4 693.0,1744.4 694.7,1744.5 696.4,1744.5 698.2,1744.5 699.9,1744.5 701.6,1744.5 703.4,1744.6 705.1,1744.6 706.8,1744.6 708.6,1744.6 710.3,1744.6 712.0,1744.7 713.8,1744.7 713.8,1746.1 712.0,1746.1 710.3,1746.1 708.6,1746.1 706.8,1746.1 705.1,1746.1 703.4,1746.1 701.6,1746.1 699.9,1746.1 698.2,1746.1 696.4,1746.1 694.7,1746.1 693.0,1746.1 691.2,1746.1 689.5,1746.1 687.8,1746.1 686.0,1746.1 684.3,1746.1 682.5,1746.1 680.8,1746.1 679.1,1746.1 677.3,1746.1 675.6,1746.1 673.9,1746.1 672.1,1746.1 670.4,1746.1 668.7,1746.1 666.9,1746.1 665.2,1746.1 663.5,1746.1 661.7,1746.1 660.0,1746.1 658.3,1746.1 656.5,1746.1 654.8,1746.1 653.1,1746.1 651.3,1746.1 649.6,1746.1 647.8,1746.1 646.1,1746.1 644.4,1746.1 642.6,1746.1 640.9,1746.1 639.2,1746.1 637.4,1746.1 635.7,1746.1 634.0,1746.1 632.2,1746.1 630.5,1746.1 628.8,1746.1 627.0,1746.1 625.3,1746.1 623.6,1746.1 621.8,1746.1 620.1,1746.1 618.4,1746.1 616.6,1746.1 614.9,1746.1 613.1,1746.1 611.4,1746.1 609.7,1746.0 607.9,1746.0 606.2,1746.0 604.5,1746.0 602.7,1746.0 601.0,1746.0 599.3,1746.0 597.5,1746.0 595.8,1746.0 594.1,1746.0 592.3,1746.0 590.6,1746.0 588.9,1746.0 587.1,1746.0 585.4,1746.0 583.7,1746.0 581.9,1746.0 580.2,1746.0 578.4,1746.0 576.7,1746.0 575.0,1746.0 573.2,1745.9 571.5,1745.9 569.8,1745.9 568.0,1745.9 566.3,1745.9 564.6,1745.9 562.8,1745.9 561.1,1745.9 559.4,1745.9 557.6,1745.9 555.9,1745.9 554.2,1745.9 552.4,1745.9 550.7,1745.8 549.0,1745.8 547.2,1745.8 545.5,1745.8 543.7,1745.8 542.0,1745.8 540.3,1745.8 538.5,1745.8 536.8,1745.7 535.1,1745.7 533.3,1745.7 531.6,1745.7 529.9,1745.7 528.1,1745.7 526.4,1745.7 524.7,1745.6 522.9,1745.6 521.2,1745.6 519.5,1745.6 517.7,1745.6 516.0,1745.6 514.3,1745.5 512.5,1745.5 510.8,1745.5 509.0,1745.5 507.3,1745.5 505.6,1745.4 503.8,1745.4 502.1,1745.4 500.4,1745.4 498.6,1745.4 496.9,1745.3 495.2,1745.3 493.4,1745.3 491.7,1745.3 490.0,1745.2 488.2,1745.2 486.5,1745.2 484.8,1745.1 483.0,1745.1 481.3,1745.1 479.6,1745.1 477.8,1745.0 476.1,1745.0 474.3,1745.0 472.6,1744.9 470.9,1744.9 469.1,1744.9 467.4,1744.8 465.7,1744.8 463.9,1744.8 462.2,1744.7 460.5,1744.7 458.7,1744.6 457.0,1744.6 455.3,1744.6 453.5,1744.5 451.8,1744.5 450.1,1744.4 448.3,1744.4 446.6,1744.4 444.9,1744.3 443.1,1744.3 441.4,1744.2 439.6,1744.2 437.9,1744.1 436.2,1744.1 434.4,1744.0 432.7,1744.0 431.0,1743.9 429.2,1743.9 427.5,1743.8 425.8,1743.8 424.0,1743.7 422.3,1743.7 420.6,1743.6 418.8,1743.6 417.1,1743.5 415.4,1743.5 413.6,1743.4 411.9,1743.3 410.2,1743.3 408.4,1743.2 406.7,1743.2 404.9,1743.1 403.2,1743.0 401.5,1743.0 399.7,1742.9 398.0,1742.9 396.3,1742.8 394.5,1742.7 392.8,1742.7 391.1,1742.6 389.3,1742.5 387.6,1742.5 385.9,1742.4 384.1,1742.3 382.4,1742.3 380.7,1742.2 378.9,1742.1 377.2,1742.1 375.5,1742.0 373.7,1741.9 372.0,1741.9 370.2,1741.8 368.5,1741.7 366.8,1741.6 365.0,1741.6 363.3,1741.5 361.6,1741.4 359.8,1741.3 358.1,1741.3 356.4,1741.2 354.6,1741.1 352.9,1741.0 351.2,1741.0 349.4,1740.9 347.7,1740.8 346.0,1740.7 344.2,1740.7 342.5,1740.6 340.8,1740.5 339.0,1740.4 337.3,1740.4 335.5,1740.3 333.8,1740.2 332.1,1740.1 330.3,1740.1 328.6,1740.0 326.9,1739.9 325.1,1739.8 323.4,1739.8 321.7,1739.7 319.9,1739.6 318.2,1739.5 316.5,1739.5 314.7,1739.4 313.0,1739.3 311.3,1739.2 309.5,1739.2 307.8,1739.1 306.1,1739.0 304.3,1738.9 302.6,1738.9 300.8,1738.8 299.1,1738.7 297.4,1738.6 295.6,1738.6 293.9,1738.5 292.2,1738.4 290.4,1738.3 288.7,1738.3 287.0,1738.2 285.2,1738.1 283.5,1738.1 281.8,1738.0 280.0,1737.9 278.3,1737.9 276.6,1737.8 274.8,1737.7 273.1,1737.6 271.4,1737.6 269.6,1737.5 267.9,1737.4 266.1,1737.4 264.4,1737.3 262.7,1737.3 260.9,1737.2 259.2,1737.1 257.5,1737.1 255.7,1737.0 254.0,1736.9 252.3,1736.9 250.5,1736.8 248.8,1736.8 247.1,1736.7 245.3,1736.7 243.6,1736.6 241.9,1736.5 240.1,1736.5 238.4,1736.4 236.7,1736.4 234.9,1736.3 233.2,1736.3 231.4,1736.2 229.7,1736.2 228.0,1736.1 226.2,1736.1 224.5,1736.0 222.8,1736.0 221.0,1735.9 219.3,1735.9 217.6,1735.8 215.8,1735.8 214.1,1735.7 212.4,1735.7 210.6,1735.7 208.9,1735.6 207.2,1735.6 205.4,1735.5 203.7,1735.5 202.0,1735.4 200.2,1735.4 198.5,1735.4 196.7,1735.3 195.0,1735.3 193.3,1735.3 191.5,1735.2 189.8,1735.2 188.1,1735.2 186.3,1735.1 184.6,1735.1 182.9,1735.1 181.1,1735.0 179.4,1735.0 177.7,1735.0 175.9,1734.9 174.2,1734.9 172.5,1734.9 170.7,1734.9 169.0,1734.8 167.3,1734.8 165.5,1734.8 163.8,1734.7 162.0,1734.7 160.3,1734.7 158.6,1734.7 156.8,1734.7 155.1,1734.6 153.4,1734.6 151.6,1734.6 149.9,1734.6 148.2,1734.5 146.4,1734.5 144.7,1734.5 143.0,1734.5 141.2,1734.5 139.5,1734.5 137.8,1734.4 136.0,1734.4 134.3,1734.4 132.6,1734.4 130.8,1734.4 129.1,1734.4 127.3,1734.3 125.6,1734.3 123.9,1734.3 122.1,1734.3 120.4,1734.3 118.7,1734.3 116.9,1734.3 115.2,1734.3 113.5,1734.2 111.7,1734.2 110.0,1734.2 108.3,1734.2" fill="url(#gC0)"/>
<linearGradient id="gC1" x1="0" y1="0" x2="0" y2="1"><stop offset="0" stop-color="#DE9CF6"/><stop offset="1" stop-color="#ffffff" stop-opacity="0.9"/></linearGradient>
<polygon points="108.3,1734.2 110.0,1734.2 111.7,1734.2 113.5,1734.2 115.2,1734.3 116.9,1734.3 118.7,1734.3 120.4,1734.3 122.1,1734.3 123.9,1734.3 125.6,1734.3 127.3,1734.3 129.1,1734.4 130.8,1734.4 132.6,1734.4 134.3,1734.4 136.0,1734.4 137.8,1734.4 139.5,1734.5 141.2,1734.5 143.0,1734.5 144.7,1734.5 146.4,1734.5 148.2,1734.5 149.9,1734.6 151.6,1734.6 153.4,1734.6 155.1,1734.6 156.8,1734.7 158.6,1734.7 160.3,1734.7 162.0,1734.7 163.8,1734.7 165.5,1734.8 167.3,1734.8 169.0,1734.8 170.7,1734.9 172.5,1734.9 174.2,1734.9 175.9,1734.9 177.7,1735.0 179.4,1735.0 181.1,1735.0 182.9,1735.1 184.6,1735.1 186.3,1735.1 188.1,1735.2 189.8,1735.2 191.5,1735.2 193.3,1735.3 195.0,1735.3 196.7,1735.3 198.5,1735.4 200.2,1735.4 202.0,1735.4 203.7,1735.5 205.4,1735.5 207.2,1735.6 208.9,1735.6 210.6,1735.6 212.4,1735.7 214.1,1735.7 215.8,1735.8 217.6,1735.8 219.3,1735.9 221.0,1735.9 222.8,1736.0 224.5,1736.0 226.2,1736.1 228.0,1736.1 229.7,1736.2 231.4,1736.2 233.2,1736.2 234.9,1736.3 236.7,1736.3 238.4,1736.4 240.1,1736.4 241.9,1736.5 243.6,1736.5 245.3,1736.6 247.1,1736.6 248.8,1736.7 250.5,1736.7 252.3,1736.8 254.0,1736.8 255.7,1736.8 257.5,1736.9 259.2,1736.9 260.9,1736.9 262.7,1736.9 264.4,1736.9 266.1,1736.9 267.9,1736.9 269.6,1736.9 271.4,1736.9 273.1,1736.9 274.8,1736.8 276.6,1736.8 278.3,1736.7 280.0,1736.6 281.8,1736.5 283.5,1736.4 285.2,1736.3 287.0,1736.1 288.7,1735.9 290.4,1735.7 292.2,1735.5 293.9,1735.3 295.6,1735.0 297.4,1734.7 299.1,1734.4 300.8,1734.0 302.6,1733.6 304.3,1733.2 306.1,1732.8 307.8,1732.3 309.5,1731.8 311.3,1731.2 313.0,1730.7 314.7,1730.1 316.5,1729.5 318.2,1728.8 319.9,1728.1 321.7,1727.4 323.4,1726.7 325.1,1726.0 326.9,1725.2 328.6,1724.5 330.3,1723.7 332.1,1722.9 333.8,1722.2 335.5,1721.4 337.3,1720.7 339.0,1719.9 340.8,1719.2 342.5,1718.5 344.2,1717.8 346.0,1717.2 347.7,1716.6 349.4,1716.0 351.2,1715.5 352.9,1715.1 354.6,1714.7 356.4,1714.3 358.1,1714.0 359.8,1713.8 361.6,1713.6 363.3,1713.5 365.0,1713.5 366.8,1713.5 368.5,1713.6 370.2,1713.8 372.0,1714.0 373.7,1714.4 375.5,1714.7 377.2,1715.2 378.9,1715.7 380.7,1716.2 382.4,1716.8 384.1,1717.5 385.9,1718.2 387.6,1718.9 389.3,1719.7 391.1,1720.5 392.8,1721.3 394.5,1722.2 396.3,1723.1 398.0,1724.0 399.7,1724.9 401.5,1725.8 403.2,1726.7 404.9,1727.6 406.7,1728.5 408.4,1729.4 410.2,1730.2 411.9,1731.1 413.6,1731.9 415.4,1732.7 417.1,1733.5 418.8,1734.3 420.6,1735.0 422.3,1735.7 424.0,1736.4 425.8,1737.0 427.5,1737.6 429.2,1738.2 431.0,1738.7 432.7,1739.2 434.4,1739.7 436.2,1740.1 437.9,1740.6 439.6,1741.0 441.4,1741.3 443.1,1741.7 444.9,1742.0 446.6,1742.3 448.3,1742.5 450.1,1742.8 451.8,1743.0 453.5,1743.2 455.3,1743.4 457.0,1743.6 458.7,1743.8 460.5,1743.9 462.2,1744.0 463.9,1744.2 465.7,1744.3 467.4,1744.4 469.1,1744.5 470.9,1744.6 472.6,1744.6 474.3,1744.7 476.1,1744.8 477.8,1744.8 479.6,1744.9 481.3,1745.0 483.0,1745.0 484.8,1745.0 486.5,1745.1 488.2,1745.1 490.0,1745.2 491.7,1745.2 493.4,1745.2 495.2,1745.3 496.9,1745.3 498.6,1745.3 500.4,1745.4 502.1,1745.4 503.8,1745.4 505.6,1745.4 507.3,1745.5 509.0,1745.5 510.8,1745.5 512.5,1745.5 514.3,1745.5 516.0,1745.6 517.7,1745.6 519.5,1745.6 521.2,1745.6 522.9,1745.6 524.7,1745.6 526.4,1745.7 528.1,1745.7 529.9,1745.7 531.6,1745.7 533.3,1745.7 535.1,1745.7 536.8,1745.7 538.5,1745.8 540.3,1745.8 542.0,1745.8 543.7,1745.8 545.5,1745.8 547.2,1745.8 549.0,1745.8 550.7,1745.8 552.4,1745.9 554.2,1745.9 555.9,1745.9 557.6,1745.9 559.4,1745.9 561.1,1745.9 562.8,1745.9 564.6,1745.9 566.3,1745.9 568.0,1745.9 569.8,1745.9 571.5,1745.9 573.2,1745.9 575.0,1746.0 576.7,1746.0 578.4,1746.0 580.2,1746.0 581.9,1746.0 583.7,1746.0 585.4,1746.0 587.1,1746.0 588.9,1746.0 590.6,1746.0 592.3,1746.0 594.1,1746.0 595.8,1746.0 597.5,1746.0 599.3,1746.0 601.0,1746.0 602.7,1746.0 604.5,1746.0 606.2,1746.0 607.9,1746.0 609.7,1746.0 611.4,1746.1 613.1,1746.1 614.9,1746.1 616.6,1746.1 618.4,1746.1 620.1,1746.1 621.8,1746.1 623.6,1746.1 625.3,1746.1 627.0,1746.1 628.8,1746.1 630.5,1746.1 632.2,1746.1 634.0,1746.1 635.7,1746.1 637.4,1746.1 639.2,1746.1 640.9,1746.1 642.6,1746.1 644.4,1746.1 646.1,1746.1 647.8,1746.1 649.6,1746.1 651.3,1746.1 653.1,1746.1 654.8,1746.1 656.5,1746.1 658.3,1746.1 660.0,1746.1 661.7,1746.1 663.5,1746.1 665.2,1746.1 666.9,1746.1 668.7,1746.1 670.4,1746.1 672.1,1746.1 673.9,1746.1 675.6,1746.1 677.3,1746.1 679.1,1746.1 680.8,1746.1 682.5,1746.1 684.3,1746.1 686.0,1746.1 687.8,1746.1 689.5,1746.1 691.2,1746.1 693.0,1746.1 694.7,1746.1 696.4,1746.1 698.2,1746.1 699.9,1746.1 701.6,1746.1 703.4,1746.1 705.1,1746.1 706.8,1746.1 708.6,1746.1 710.3,1746.1 712.0,1746.1 713.8,1746.1 713.8,1746.1 712.0,1746.1 710.3,1746.1 708.6,1746.1 706.8,1746.1 705.1,1746.1 703.4,1746.1 701.6,1746.1 699.9,1746.1 698.2,1746.1 696.4,1746.1 694.7,1746.1 693.0,1746.1 691.2,1746.1 689.5,1746.1 687.8,1746.1 686.0,1746.1 684.3,1746.1 682.5,1746.1 680.8,1746.1 679.1,1746.1 677.3,1746.1 675.6,1746.1 673.9,1746.1 672.1,1746.1 670.4,1746.1 668.7,1746.1 666.9,1746.1 665.2,1746.1 663.5,1746.1 661.7,1746.1 660.0,1746.1 658.3,1746.1 656.5,1746.1 654.8,1746.1 653.1,1746.1 651.3,1746.1 649.6,1746.1 647.8,1746.1 646.1,1746.1 644.4,1746.1 642.6,1746.1 640.9,1746.1 639.2,1746.1 637.4,1746.1 635.7,1746.1 634.0,1746.1 632.2,1746.1 630.5,1746.1 628.8,1746.1 627.0,1746.1 625.3,1746.1 623.6,1746.1 621.8,1746.1 620.1,1746.1 618.4,1746.1 616.6,1746.1 614.9,1746.1 613.1,1746.1 611.4,1746.1 609.7,1746.0 607.9,1746.0 606.2,1746.0 604.5,1746.0 602.7,1746.0 601.0,1746.0 599.3,1746.0 597.5,1746.0 595.8,1746.0 594.1,1746.0 592.3,1746.0 590.6,1746.0 588.9,1746.0 587.1,1746.0 585.4,1746.0 583.7,1746.0 581.9,1746.0 580.2,1746.0 578.4,1746.0 576.7,1746.0 575.0,1746.0 573.2,1745.9 571.5,1745.9 569.8,1745.9 568.0,1745.9 566.3,1745.9 564.6,1745.9 562.8,1745.9 561.1,1745.9 559.4,1745.9 557.6,1745.9 555.9,1745.9 554.2,1745.9 552.4,1745.9 550.7,1745.8 549.0,1745.8 547.2,1745.8 545.5,1745.8 543.7,1745.8 542.0,1745.8 540.3,1745.8 538.5,1745.8 536.8,1745.7 535.1,1745.7 533.3,1745.7 531.6,1745.7 529.9,1745.7 528.1,1745.7 526.4,1745.7 524.7,1745.6 522.9,1745.6 521.2,1745.6 519.5,1745.6 517.7,1745.6 516.0,1745.6 514.3,1745.5 512.5,1745.5 510.8,1745.5 509.0,1745.5 507.3,1745.5 505.6,1745.4 503.8,1745.4 502.1,1745.4 500.4,1745.4 498.6,1745.4 496.9,1745.3 495.2,1745.3 493.4,1745.3 491.7,1745.3 490.0,1745.2 488.2,1745.2 486.5,1745.2 484.8,1745.1 483.0,1745.1 481.3,1745.1 479.6,1745.1 477.8,1745.0 476.1,1745.0 474.3,1745.0 472.6,1744.9 470.9,1744.9 469.1,1744.9 467.4,1744.8 465.7,1744.8 463.9,1744.8 462.2,1744.7 460.5,1744.7 458.7,1744.6 457.0,1744.6 455.3,1744.6 453.5,1744.5 451.8,1744.5 450.1,1744.4 448.3,1744.4 446.6,1744.4 444.9,1744.3 443.1,1744.3 441.4,1744.2 439.6,1744.2 437.9,1744.1 436.2,1744.1 434.4,1744.0 432.7,1744.0 431.0,1743.9 429.2,1743.9 427.5,1743.8 425.8,1743.8 424.0,1743.7 422.3,1743.7 420.6,1743.6 418.8,1743.6 417.1,1743.5 415.4,1743.5 413.6,1743.4 411.9,1743.3 410.2,1743.3 408.4,1743.2 406.7,1743.2 404.9,1743.1 403.2,1743.0 401.5,1743.0 399.7,1742.9 398.0,1742.9 396.3,1742.8 394.5,1742.7 392.8,1742.7 391.1,1742.6 389.3,1742.5 387.6,1742.5 385.9,1742.4 384.1,1742.3 382.4,1742.3 380.7,1742.2 378.9,1742.1 377.2,1742.1 375.5,1742.0 373.7,1741.9 372.0,1741.9 370.2,1741.8 368.5,1741.7 366.8,1741.6 365.0,1741.6 363.3,1741.5 361.6,1741.4 359.8,1741.3 358.1,1741.3 356.4,1741.2 354.6,1741.1 352.9,1741.0 351.2,1741.0 349.4,1740.9 347.7,1740.8 346.0,1740.7 344.2,1740.7 342.5,1740.6 340.8,1740.5 339.0,1740.4 337.3,1740.4 335.5,1740.3 333.8,1740.2 332.1,1740.1 330.3,1740.1 328.6,1740.0 326.9,1739.9 325.1,1739.8 323.4,1739.8 321.7,1739.7 319.9,1739.6 318.2,1739.5 316.5,1739.5 314.7,1739.4 313.0,1739.3 311.3,1739.2 309.5,1739.2 307.8,1739.1 306.1,1739.0 304.3,1738.9 302.6,1738.9 300.8,1738.8 299.1,1738.7 297.4,1738.6 295.6,1738.6 293.9,1738.5 292.2,1738.4 290.4,1738.3 288.7,1738.3 287.0,1738.2 285.2,1738.1 283.5,1738.1 281.8,1738.0 280.0,1737.9 278.3,1737.9 276.6,1737.8 274.8,1737.7 273.1,1737.6 271.4,1737.6 269.6,1737.5 267.9,1737.4 266.1,1737.4 264.4,1737.3 262.7,1737.3 260.9,1737.2 259.2,1737.1 257.5,1737.1 255.7,1737.0 254.0,1736.9 252.3,1736.9 250.5,1736.8 248.8,1736.8 247.1,1736.7 245.3,1736.7 243.6,1736.6 241.9,1736.5 240.1,1736.5 238.4,1736.4 236.7,1736.4 234.9,1736.3 233.2,1736.3 231.4,1736.2 229.7,1736.2 228.0,1736.1 226.2,1736.1 224.5,1736.0 222.8,1736.0 221.0,1735.9 219.3,1735.9 217.6,1735.8 215.8,1735.8 214.1,1735.7 212.4,1735.7 210.6,1735.7 208.9,1735.6 207.2,1735.6 205.4,1735.5 203.7,1735.5 202.0,1735.4 200.2,1735.4 198.5,1735.4 196.7,1735.3 195.0,1735.3 193.3,1735.3 191.5,1735.2 189.8,1735.2 188.1,1735.2 186.3,1735.1 184.6,1735.1 182.9,1735.1 181.1,1735.0 179.4,1735.0 177.7,1735.0 175.9,1734.9 174.2,1734.9 172.5,1734.9 170.7,1734.9 169.0,1734.8 167.3,1734.8 165.5,1734.8 163.8,1734.7 162.0,1734.7 160.3,1734.7 158.6,1734.7 156.8,1734.7 155.1,1734.6 153.4,1734.6 151.6,1734.6 149.9,1734.6 148.2,1734.5 146.4,1734.5 144.7,1734.5 143.0,1734.5 141.2,1734.5 139.5,1734.5 137.8,1734.4 136.0,1734.4 134.3,1734.4 132.6,1734.4 130.8,1734.4 129.1,1734.4 127.3,1734.3 125.6,1734.3 123.9,1734.3 122.1,1734.3 120.4,1734.3 118.7,1734.3 116.9,1734.3 115.2,1734.3 113.5,1734.2 111.7,1734.2 110.0,1734.2 108.3,1734.2" fill="url(#gC1)"/>
<linearGradient id="gC2" x1="0" y1="0" x2="0" y2="1"><stop offset="0" stop-color="#A2F5A2"/><stop offset="1" stop-color="#ffffff" stop-opacity="0.9"/></linearGradient>
<polygon points="108.3,1734.2 110.0,1734.2 111.7,1734.2 113.5,1734.2 115.2,1734.2 116.9,1734.3 118.7,1734.3 120.4,1734.3 122.1,1734.3 123.9,1734.3 125.6,1734.3 127.3,1734.3 129.1,1734.3 130.8,1734.3 132.6,1734.4 134.3,1734.4 136.0,1734.4 137.8,1734.4 139.5,1734.4 141.2,1734.4 143.0,1734.4 144.7,1734.4 146.4,1734.4 148.2,1734.4 149.9,1734.4 151.6,1734.4 153.4,1734.4 155.1,1734.4 156.8,1734.4 158.6,1734.4 160.3,1734.4 162.0,1734.4 163.8,1734.4 165.5,1734.4 167.3,1734.4 169.0,1734.3 170.7,1734.3 172.5,1734.2 174.2,1734.2 175.9,1734.1 177.7,1734.1 179.4,1734.0 181.1,1733.9 182.9,1733.8 184.6,1733.7 186.3,1733.6 188.1,1733.5 189.8,1733.3 191.5,1733.2 193.3,1733.0 195.0,1732.8 196.7,1732.6 198.5,1732.4 200.2,1732.2 202.0,1731.9 203.7,1731.7 205.4,1731.4 207.2,1731.1 208.9,1730.7 210.6,1730.4 212.4,1730.0 214.1,1729.6 215.8,1729.2 217.6,1728.8 219.3,1728.3 221.0,1727.8 222.8,1727.3 224.5,1726.8 226.2,1726.3 228.0,1725.7 229.7,1725.1 231.4,1724.5 233.2,1723.9 234.9,1723.3 236.7,1722.7 238.4,1722.0 240.1,1721.4 241.9,1720.7 243.6,1720.1 245.3,1719.4 247.1,1718.7 248.8,1718.1 250.5,1717.4 252.3,1716.8 254.0,1716.2 255.7,1715.6 257.5,1715.0 259.2,1714.4 260.9,1713.8 262.7,1713.3 264.4,1712.8 266.1,1712.4 267.9,1711.9 269.6,1711.6 271.4,1711.2 273.1,1710.9 274.8,1710.6 276.6,1710.4 278.3,1710.2 280.0,1710.1 281.8,1710.0 283.5,1710.0 285.2,1710.0 287.0,1710.1 288.7,1710.2 290.4,1710.4 292.2,1710.6 293.9,1710.9 295.6,1711.2 297.4,1711.6 299.1,1712.0 300.8,1712.4 302.6,1712.9 304.3,1713.4 306.1,1714.0 307.8,1714.6 309.5,1715.2 311.3,1715.9 313.0,1716.6 314.7,1717.3 316.5,1718.0 318.2,1718.8 319.9,1719.5 321.7,1720.3 323.4,1721.1 325.1,1721.9 326.9,1722.7 328.6,1723.5 330.3,1724.2 332.1,1725.0 333.8,1725.8 335.5,1726.6 337.3,1727.3 339.0,1728.1 340.8,1728.8 342.5,1729.5 344.2,1730.2 346.0,1730.9 347.7,1731.6 349.4,1732.2 351.2,1732.9 352.9,1733.5 354.6,1734.0 356.4,1734.6 358.1,1735.1 359.8,1735.7 361.6,1736.1 363.3,1736.6 365.0,1737.1 366.8,1737.5 368.5,1737.9 370.2,1738.3 372.0,1738.6 373.7,1739.0 375.5,1739.3 377.2,1739.6 378.9,1739.9 380.7,1740.2 382.4,1740.4 384.1,1740.7 385.9,1740.9 387.6,1741.1 389.3,1741.3 391.1,1741.5 392.8,1741.7 394.5,1741.8 396.3,1742.0 398.0,1742.1 399.7,1742.3 401.5,1742.4 403.2,1742.5 404.9,1742.7 406.7,1742.8 408.4,1742.9 410.2,1743.0 411.9,1743.1 413.6,1743.2 415.4,1743.2 417.1,1743.3 418.8,1743.4 420.6,1743.5 422.3,1743.6 424.0,1743.6 425.8,1743.7 427.5,1743.8 429.2,1743.8 431.0,1743.9 432.7,1743.9 434.4,1744.0 436.2,1744.0 437.9,1744.1 439.6,1744.1 441.4,1744.2 443.1,1744.2 444.9,1744.3 446.6,1744.3 448.3,1744.4 450.1,1744.4 451.8,1744.5 453.5,1744.5 455.3,1744.6 457.0,1744.6 458.7,1744.6 460.5,1744.7 462.2,1744.7 463.9,1744.8 465.7,1744.8 467.4,1744.8 469.1,1744.9 470.9,1744.9 472.6,1744.9 474.3,1745.0 476.1,1745.0 477.8,1745.0 479.6,1745.1 481.3,1745.1 483.0,1745.1 484.8,1745.1 486.5,1745.2 488.2,1745.2 490.0,1745.2 491.7,1745.3 493.4,1745.3 495.2,1745.3 496.9,1745.3 498.6,1745.4 500.4,1745.4 502.1,1745.4 503.8,1745.4 505.6,1745.4 507.3,1745.5 509.0,1745.5 510.8,1745.5 512.5,1745.5 514.3,1745.5 516.0,1745.6 517.7,1745.6 519.5,1745.6 521.2,1745.6 522.9,1745.6 524.7,1745.6 526.4,1745.7 528.1,1745.7 529.9,1745.7 531.6,1745.7 533.3,1745.7 535.1,1745.7 536.8,1745.7 538.5,1745.8 540.3,1745.8 542.0,1745.8 543.7,1745.8 545.5,1745.8 547.2,1745.8 549.0,1745.8 550.7,1745.8 552.4,1745.9 554.2,1745.9 555.9,1745.9 557.6,1745.9 559.4,1745.9 561.1,1745.9 562.8,1745.9 564.6,1745.9 566.3,1745.9 568.0,1745.9 569.8,1745.9 571.5,1745.9 573.2,1745.9 575.0,1746.0 576.7,1746.0 578.4,1746.0 580.2,1746.0 581.9,1746.0 583.7,1746.0 585.4,1746.0 587.1,1746.0 588.9,1746.0 590.6,1746.0 592.3,1746.0 594.1,1746.0 595.8,1746.0 597.5,1746.0 599.3,1746.0 601.0,1746.0 602.7,1746.0 604.5,1746.0 606.2,1746.0 607.9,1746.0 609.7,1746.0 611.4,1746.1 613.1,1746.1 614.9,1746.1 616.6,1746.1 618.4,1746.1 620.1,1746.1 621.8,1746.1 623.6,1746.1 625.3,1746.1 627.0,1746.1 628.8,1746.1 630.5,1746.1 632.2,1746.1 634.0,1746.1 635.7,1746.1 637.4,1746.1 639.2,1746.1 640.9,1746.1 642.6,1746.1 644.4,1746.1 646.1,1746.1 647.8,1746.1 649.6,1746.1 651.3,1746.1 653.1,1746.1 654.8,1746.1 656.5,1746.1 658.3,1746.1 660.0,1746.1 661.7,1746.1 663.5,1746.1 665.2,1746.1 666.9,1746.1 668.7,1746.1 670.4,1746.1 672.1,1746.1 673.9,1746.1 675.6,1746.1 677.3,1746.1 679.1,1746.1 680.8,1746.1 682.5,1746.1 684.3,1746.1 686.0,1746.1 687.8,1746.1 689.5,1746.1 691.2,1746.1 693.0,1746.1 694.7,1746.1 696.4,1746.1 698.2,1746.1 699.9,1746.1 701.6,1746.1 703.4,1746.1 705.1,1746.1 706.8,1746.1 708.6,1746.1 710.3,1746.1 712.0,1746.1 713.8,1746.1 713.8,1746.1 712.0,1746.1 710.3,1746.1 708.6,1746.1 706.8,1746.1 705.1,1746.1 703.4,1746.1 701.6,1746.1 699.9,1746.1 698.2,1746.1 696.4,1746.1 694.7,1746.1 693.0,1746.1 691.2,1746.1 689.5,1746.1 687.8,1746.1 686.0,1746.1 684.3,1746.1 682.5,1746.1 680.8,1746.1 679.1,1746.1 677.3,1746.1 675.6,1746.1 673.9,1746.1 672.1,1746.1 670.4,1746.1 668.7,1746.1 666.9,1746.1 665.2,1746.1 663.5,1746.1 661.7,1746.1 660.0,1746.1 658.3,1746.1 656.5,1746.1 654.8,1746.1 653.1,1746.1 651.3,1746.1 649.6,1746.1 647.8,1746.1 646.1,1746.1 644.4,1746.1 642.6,1746.1 640.9,1746.1 639.2,1746.1 637.4,1746.1 635.7,1746.1 634.0,1746.1 632.2,1746.1 630.5,1746.1 628.8,1746.1 627.0,1746.1 625.3,1746.1 623.6,1746.1 621.8,1746.1 620.1,1746.1 618.4,1746.1 616.6,1746.1 614.9,1746.1 613.1,1746.1 611.4,1746.1 609.7,1746.0 607.9,1746.0 606.2,1746.0 604.5,1746.0 602.7,1746.0 601.0,1746.0 599.3,1746.0 597.5,1746.0 595.8,1746.0 594.1,1746.0 592.3,1746.0 590.6,1746.0 588.9,1746.0 587.1,1746.0 585.4,1746.0 583.7,1746.0 581.9,1746.0 580.2,1746.0 578.4,1746.0 576.7,1746.0 575.0,1746.0 573.2,1745.9 571.5,1745.9 569.8,1745.9 568.0,1745.9 566.3,1745.9 564.6,1745.9 562.8,1745.9 561.1,1745.9 559.4,1745.9 557.6,1745.9 555.9,1745.9 554.2,1745.9 552.4,1745.9 550.7,1745.8 549.0,1745.8 547.2,1745.8 545.5,1745.8 543.7,1745.8 542.0,1745.8 540.3,1745.8 538.5,1745.8 536.8,1745.7 535.1,1745.7 533.3,1745.7 531.6,1745.7 529.9,1745.7 528.1,1745.7 526.4,1745.7 524.7,1745.6 522.9,1745.6 521.2,1745.6 519.5,1745.6 517.7,1745.6 516.0,1745.6 514.3,1745.5 512.5,1745.5 510.8,1745.5 509.0,1745.5 507.3,1745.5 505.6,1745.4 503.8,1745.4 502.1,1745.4 500.4,1745.4 498.6,1745.4 496.9,1745.3 495.2,1745.3 493.4,1745.3 491.7,1745.3 490.0,1745.2 488.2,1745.2 486.5,1745.2 484.8,1745.1 483.0,1745.1 481.3,1745.1 479.6,1745.1 477.8,1745.0 476.1,1745.0 474.3,1745.0 472.6,1744.9 470.9,1744.9 469.1,1744.9 467.4,1744.8 465.7,1744.8 463.9,1744.8 462.2,1744.7 460.5,1744.7 458.7,1744.6 457.0,1744.6 455.3,1744.6 453.5,1744.5 451.8,1744.5 450.1,1744.4 448.3,1744.4 446.6,1744.4 444.9,1744.3 443.1,1744.3 441.4,1744.2 439.6,1744.2 437.9,1744.1 436.2,1744.1 434.4,1744.0 432.7,1744.0 431.0,1743.9 429.2,1743.9 427.5,1743.8 425.8,1743.8 424.0,1743.7 422.3,1743.7 420.6,1743.6 418.8,1743.6 417.1,1743.5 415.4,1743.5 413.6,1743.4 411.9,1743.3 410.2,1743.3 408.4,1743.2 406.7,1743.2 404.9,1743.1 403.2,1743.0 401.5,1743.0 399.7,1742.9 398.0,1742.9 396.3,1742.8 394.5,1742.7 392.8,1742.7 391.1,1742.6 389.3,1742.5 387.6,1742.5 385.9,1742.4 384.1,1742.3 382.4,1742.3 380.7,1742.2 378.9,1742.1 377.2,1742.1 375.5,1742.0 373.7,1741.9 372.0,1741.9 370.2,1741.8 368.5,1741.7 366.8,1741.6 365.0,1741.6 363.3,1741.5 361.6,1741.4 359.8,1741.3 358.1,1741.3 356.4,1741.2 354.6,1741.1 352.9,1741.0 351.2,1741.0 349.4,1740.9 347.7,1740.8 346.0,1740.7 344.2,1740.7 342.5,1740.6 340.8,1740.5 339.0,1740.4 337.3,1740.4 335.5,1740.3 333.8,1740.2 332.1,1740.1 330.3,1740.1 328.6,1740.0 326.9,1739.9 325.1,1739.8 323.4,1739.8 321.7,1739.7 319.9,1739.6 318.2,1739.5 316.5,1739.5 314.7,1739.4 313.0,1739.3 311.3,1739.2 309.5,1739.2 307.8,1739.1 306.1,1739.0 304.3,1738.9 302.6,1738.9 300.8,1738.8 299.1,1738.7 297.4,1738.6 295.6,1738.6 293.9,1738.5 292.2,1738.4 290.4,1738.3 288.7,1738.3 287.0,1738.2 285.2,1738.1 283.5,1738.1 281.8,1738.0 280.0,1737.9 278.3,1737.9 276.6,1737.8 274.8,1737.7 273.1,1737.6 271.4,1737.6 269.6,1737.5 267.9,1737.4 266.1,1737.4 264.4,1737.3 262.7,1737.3 260.9,1737.2 259.2,1737.1 257.5,1737.1 255.7,1737.0 254.0,1736.9 252.3,1736.9 250.5,1736.8 248.8,1736.8 247.1,1736.7 245.3,1736.7 243.6,1736.6 241.9,1736.5 240.1,1736.5 238.4,1736.4 236.7,1736.4 234.9,1736.3 233.2,1736.3 231.4,1736.2 229.7,1736.2 228.0,1736.1 226.2,1736.1 224.5,1736.0 222.8,1736.0 221.0,1735.9 219.3,1735.9 217.6,1735.8 215.8,1735.8 214.1,1735.7 212.4,1735.7 210.6,1735.7 208.9,1735.6 207.2,1735.6 205.4,1735.5 203.7,1735.5 202.0,1735.4 200.2,1735.4 198.5,1735.4 196.7,1735.3 195.0,1735.3 193.3,1735.3 191.5,1735.2 189.8,1735.2 188.1,1735.2 186.3,1735.1 184.6,1735.1 182.9,1735.1 181.1,1735.0 179.4,1735.0 177.7,1735.0 175.9,1734.9 174.2,1734.9 172.5,1734.9 170.7,1734.9 169.0,1734.8 167.3,1734.8 165.5,1734.8 163.8,1734.7 162.0,1734.7 160.3,1734.7 158.6,1734.7 156.8,1734.7 155.1,1734.6 153.4,1734.6 151.6,1734.6 149.9,1734.6 148.2,1734.5 146.4,1734.5 144.7,1734.5 143.0,1734.5 141.2,1734.5 139.5,1734.5 137.8,1734.4 136.0,1734.4 134.3,1734.4 132.6,1734.4 130.8,1734.4 129.1,1734.4 127.3,1734.3 125.6,1734.3 123.9,1734.3 122.1,1734.3 120.4,1734.3 118.7,1734.3 116.9,1734.3 115.2,1734.3 113.5,1734.2 111.7,1734.2 110.0,1734.2 108.3,1734.2" fill="url(#gC2)"/>
<linearGradient id="gC3" x1="0" y1="0" x2="0" y2="1"><stop offset="0" stop-color="#F0A45A"/><stop offset="1" stop-color="#ffffff" stop-opacity="0.9"/></linearGradient>
<polygon points="108.3,1734.1 110.0,1734.1 111.7,1734.1 113.5,1734.0 115.2,1734.0 116.9,1734.0 118.7,1734.0 120.4,1733.9 122.1,1733.9 123.9,1733.8 125.6,1733.8 127.3,1733.7 129.1,1733.6 130.8,1733.6 132.6,1733.5 134.3,1733.4 136.0,1733.3 137.8,1733.1 139.5,1733.0 141.2,1732.9 143.0,1732.7 144.7,1732.5 146.4,1732.4 148.2,1732.2 149.9,1731.9 151.6,1731.7 153.4,1731.5 155.1,1731.2 156.8,1731.0 158.6,1730.7 160.3,1730.4 162.0,1730.1 163.8,1729.7 165.5,1729.4 167.3,1729.1 169.0,1728.7 170.7,1728.4 172.5,1728.0 174.2,1727.7 175.9,1727.3 177.7,1727.0 179.4,1726.6 181.1,1726.3 182.9,1725.9 184.6,1725.6 186.3,1725.3 188.1,1725.0 189.8,1724.7 191.5,1724.5 193.3,1724.2 195.0,1724.0 196.7,1723.8 198.5,1723.7 200.2,1723.6 202.0,1723.5 203.7,1723.4 205.4,1723.4 207.2,1723.4 208.9,1723.4 210.6,1723.5 212.4,1723.6 214.1,1723.8 215.8,1723.9 217.6,1724.1 219.3,1724.4 221.0,1724.6 222.8,1724.9 224.5,1725.3 226.2,1725.6 228.0,1726.0 229.7,1726.3 231.4,1726.7 233.2,1727.1 234.9,1727.6 236.7,1728.0 238.4,1728.4 240.1,1728.9 241.9,1729.3 243.6,1729.7 245.3,1730.2 247.1,1730.6 248.8,1731.0 250.5,1731.5 252.3,1731.9 254.0,1732.3 255.7,1732.7 257.5,1733.1 259.2,1733.4 260.9,1733.8 262.7,1734.1 264.4,1734.5 266.1,1734.8 267.9,1735.1 269.6,1735.3 271.4,1735.6 273.1,1735.9 274.8,1736.1 276.6,1736.3 278.3,1736.6 280.0,1736.8 281.8,1737.0 283.5,1737.1 285.2,1737.3 287.0,1737.5 288.7,1737.6 290.4,1737.8 292.2,1737.9 293.9,1738.1 295.6,1738.2 297.4,1738.3 299.1,1738.4 300.8,1738.5 302.6,1738.6 304.3,1738.7 306.1,1738.8 307.8,1738.9 309.5,1739.0 311.3,1739.1 313.0,1739.2 314.7,1739.3 316.5,1739.4 318.2,1739.5 319.9,1739.6 321.7,1739.6 323.4,1739.7 325.1,1739.8 326.9,1739.9 328.6,1740.0 330.3,1740.0 332.1,1740.1 333.8,1740.2 335.5,1740.3 337.3,1740.4 339.0,1740.4 340.8,1740.5 342.5,1740.6 344.2,1740.7 346.0,1740.7 347.7,1740.8 349.4,1740.9 351.2,1741.0 352.9,1741.0 354.6,1741.1 356.4,1741.2 358.1,1741.3 359.8,1741.3 361.6,1741.4 363.3,1741.5 365.0,1741.6 366.8,1741.6 368.5,1741.7 370.2,1741.8 372.0,1741.9 373.7,1741.9 375.5,1742.0 377.2,1742.1 378.9,1742.1 380.7,1742.2 382.4,1742.3 384.1,1742.3 385.9,1742.4 387.6,1742.5 389.3,1742.5 391.1,1742.6 392.8,1742.7 394.5,1742.7 396.3,1742.8 398.0,1742.9 399.7,1742.9 401.5,1743.0 403.2,1743.0 404.9,1743.1 406.7,1743.2 408.4,1743.2 410.2,1743.3 411.9,1743.3 413.6,1743.4 415.4,1743.5 417.1,1743.5 418.8,1743.6 420.6,1743.6 422.3,1743.7 424.0,1743.7 425.8,1743.8 427.5,1743.8 429.2,1743.9 431.0,1743.9 432.7,1744.0 434.4,1744.0 436.2,1744.1 437.9,1744.1 439.6,1744.2 441.4,1744.2 443.1,1744.3 444.9,1744.3 446.6,1744.4 448.3,1744.4 450.1,1744.4 451.8,1744.5 453.5,1744.5 455.3,1744.6 457.0,1744.6 458.7,1744.6 460.5,1744.7 462.2,1744.7 463.9,1744.8 465.7,1744.8 467.4,1744.8 469.1,1744.9 470.9,1744.9 472.6,1744.9 474.3,1745.0 476.1,1745.0 477.8,1745.0 479.6,1745.1 481.3,1745.1 483.0,1745.1 484.8,1745.1 486.5,1745.2 488.2,1745.2 490.0,1745.2 491.7,1745.3 493.4,1745.3 495.2,1745.3 496.9,1745.3 498.6,1745.4 500.4,1745.4 502.1,1745.4 503.8,1745.4 505.6,1745.4 507.3,1745.5 509.0,1745.5 510.8,1745.5 512.5,1745.5 514.3,1745.5 516.0,1745.6 517.7,1745.6 519.5,1745.6 521.2,1745.6 522.9,1745.6 524.7,1745.6 526.4,1745.7 528.1,1745.7 529.9,1745.7 531.6,1745.7 533.3,1745.7 535.1,1745.7 536.8,1745.7 538.5,1745.8 540.3,1745.8 542.0,1745.8 543.7,1745.8 545.5,1745.8 547.2,1745.8 549.0,1745.8 550.7,1745.8 552.4,1745.9 554.2,1745.9 555.9,1745.9 557.6,1745.9 559.4,1745.9 561.1,1745.9 562.8,1745.9 564.6,1745.9 566.3,1745.9 568.0,1745.9 569.8,1745.9 571.5,1745.9 573.2,1745.9 575.0,1746.0 576.7,1746.0 578.4,1746.0 580.2,1746.0 581.9,1746.0 583.7,1746.0 585.4,1746.0 587.1,1746.0 588.9,1746.0 590.6,1746.0 592.3,1746.0 594.1,1746.0 595.8,1746.0 597.5,1746.0 599.3,1746.0 601.0,1746.0 602.7,1746.0 604.5,1746.0 606.2,1746.0 607.9,1746.0 609.7,1746.0 611.4,1746.1 613.1,1746.1 614.9,1746.1 616.6,1746.1 618.4,1746.1 620.1,1746.1 621.8,1746.1 623.6,1746.1 625.3,1746.1 627.0,1746.1 628.8,1746.1 630.5,1746.1 632.2,1746.1 634.0,1746.1 635.7,1746.1 637.4,1746.1 639.2,1746.1 640.9,1746.1 642.6,1746.1 644.4,1746.1 646.1,1746.1 647.8,1746.1 649.6,1746.1 651.3,1746.1 653.1,1746.1 654.8,1746.1 656.5,1746.1 658.3,1746.1 660.0,1746.1 661.7,1746.1 663.5,1746.1 665.2,1746.1 666.9,1746.1 668.7,1746.1 670.4,1746.1 672.1,1746.1 673.9,1746.1 675.6,1746.1 677.3,1746.1 679.1,1746.1 680.8,1746.1 682.5,1746.1 684.3,1746.1 686.0,1746.1 687.8,1746.1 689.5,1746.1 691.2,1746.1 693.0,1746.1 694.7,1746.1 696.4,1746.1 698.2,1746.1 699.9,1746.1 701.6,1746.1 703.4,1746.1 705.1,1746.1 706.8,1746.1 708.6,1746.1 710.3,1746.1 712.0,1746.1 713.8,1746.1 713.8,1746.1 712.0,1746.1 710.3,1746.1 708.6,1746.1 706.8,1746.1 705.1,1746.1 703.4,1746.1 701.6,1746.1 699.9,1746.1 698.2,1746.1 696.4,1746.1 694.7,1746.1 693.0,1746.1 691.2,1746.1 689.5,1746.1 687.8,1746.1 686.0,1746.1 684.3,1746.1 682.5,1746.1 680.8,1746.1 679.1,1746.1 677.3,1746.1 675.6,1746.1 673.9,1746.1 672.1,1746.1 670.4,1746.1 668.7,1746.1 666.9,1746.1 665.2,1746.1 663.5,1746.1 661.7,1746.1 660.0,1746.1 658.3,1746.1 656.5,1746.1 654.8,1746.1 653.1,1746.1 651.3,1746.1 649.6,1746.1 647.8,1746.1 646.1,1746.1 644.4,1746.1 642.6,1746.1 640.9,1746.1 639.2,1746.1 637.4,1746.1 635.7,1746.1 634.0,1746.1 632.2,1746.1 630.5,1746.1 628.8,1746.1 627.0,1746.1 625.3,1746.1 623.6,1746.1 621.8,1746.1 620.1,1746.1 618.4,1746.1 616.6,1746.1 614.9,1746.1 613.1,1746.1 611.4,1746.1 609.7,1746.0 607.9,1746.0 606.2,1746.0 604.5,1746.0 602.7,1746.0 601.0,1746.0 599.3,1746.0 597.5,1746.0 595.8,1746.0 594.1,1746.0 592.3,1746.0 590.6,1746.0 588.9,1746.0 587.1,1746.0 585.4,1746.0 583.7,1746.0 581.9,1746.0 580.2,1746.0 578.4,1746.0 576.7,1746.0 575.0,1746.0 573.2,1745.9 571.5,1745.9 569.8,1745.9 568.0,1745.9 566.3,1745.9 564.6,1745.9 562.8,1745.9 561.1,1745.9 559.4,1745.9 557.6,1745.9 555.9,1745.9 554.2,1745.9 552.4,1745.9 550.7,1745.8 549.0,1745.8 547.2,1745.8 545.5,1745.8 543.7,1745.8 542.0,1745.8 540.3,1745.8 538.5,1745.8 536.8,1745.7 535.1,1745.7 533.3,1745.7 531.6,1745.7 529.9,1745.7 528.1,1745.7 526.4,1745.7 524.7,1745.6 522.9,1745.6 521.2,1745.6 519.5,1745.6 517.7,1745.6 516.0,1745.6 514.3,1745.5 512.5,1745.5 510.8,1745.5 509.0,1745.5 507.3,1745.5 505.6,1745.4 503.8,1745.4 502.1,1745.4 500.4,1745.4 498.6,1745.4 496.9,1745.3 495.2,1745.3 493.4,1745.3 491.7,1745.3 490.0,1745.2 488.2,1745.2 486.5,1745.2 484.8,1745.1 483.0,1745.1 481.3,1745.1 479.6,1745.1 477.8,1745.0 476.1,1745.0 474.3,1745.0 472.6,1744.9 470.9,1744.9 469.1,1744.9 467.4,1744.8 465.7,1744.8 463.9,1744.8 462.2,1744.7 460.5,1744.7 458.7,1744.6 457.0,1744.6 455.3,1744.6 453.5,1744.5 451.8,1744.5 450.1,1744.4 448.3,1744.4 446.6,1744.4 444.9,1744.3 443.1,1744.3 441.4,1744.2 439.6,1744.2 437.9,1744.1 436.2,1744.1 434.4,1744.0 432.7,1744.0 431.0,1743.9 429.2,1743.9 427.5,1743.8 425.8,1743.8 424.0,1743.7 422.3,1743.7 420.6,1743.6 418.8,1743.6 417.1,1743.5 415.4,1743.5 413.6,1743.4 411.9,1743.3 410.2,1743.3 408.4,1743.2 406.7,1743.2 404.9,1743.1 403.2,1743.0 401.5,1743.0 399.7,1742.9 398.0,1742.9 396.3,1742.8 394.5,1742.7 392.8,1742.7 391.1,1742.6 389.3,1742.5 387.6,1742.5 385.9,1742.4 384.1,1742.3 382.4,1742.3 380.7,1742.2 378.9,1742.1 377.2,1742.1 375.5,1742.0 373.7,1741.9 372.0,1741.9 370.2,1741.8 368.5,1741.7 366.8,1741.6 365.0,1741.6 363.3,1741.5 361.6,1741.4 359.8,1741.3 358.1,1741.3 356.4,1741.2 354.6,1741.1 352.9,1741.0 351.2,1741.0 349.4,1740.9 347.7,1740.8 346.0,1740.7 344.2,1740.7 342.5,1740.6 340.8,1740.5 339.0,1740.4 337.3,1740.4 335.5,1740.3 333.8,1740.2 332.1,1740.1 330.3,1740.1 328.6,1740.0 326.9,1739.9 325.1,1739.8 323.4,1739.8 321.7,1739.7 319.9,1739.6 318.2,1739.5 316.5,1739.5 314.7,1739.4 313.0,1739.3 311.3,1739.2 309.5,1739.2 307.8,1739.1 306.1,1739.0 304.3,1738.9 302.6,1738.9 300.8,1738.8 299.1,1738.7 297.4,1738.6 295.6,1738.6 293.9,1738.5 292.2,1738.4 290.4,1738.3 288.7,1738.3 287.0,1738.2 285.2,1738.1 283.5,1738.1 281.8,1738.0 280.0,1737.9 278.3,1737.9 276.6,1737.8 274.8,1737.7 273.1,1737.6 271.4,1737.6 269.6,1737.5 267.9,1737.4 266.1,1737.4 264.4,1737.3 262.7,1737.3 260.9,1737.2 259.2,1737.1 257.5,1737.1 255.7,1737.0 254.0,1736.9 252.3,1736.9 250.5,1736.8 248.8,1736.8 247.1,1736.7 245.3,1736.7 243.6,1736.6 241.9,1736.5 240.1,1736.5 238.4,1736.4 236.7,1736.4 234.9,1736.3 233.2,1736.3 231.4,1736.2 229.7,1736.2 228.0,1736.1 226.2,1736.1 224.5,1736.0 222.8,1736.0 221.0,1735.9 219.3,1735.9 217.6,1735.8 215.8,1735.8 214.1,1735.7 212.4,1735.7 210.6,1735.7 208.9,1735.6 207.2,1735.6 205.4,1735.5 203.7,1735.5 202.0,1735.4 200.2,1735.4 198.5,1735.4 196.7,1735.3 195.0,1735.3 193.3,1735.3 191.5,1735.2 189.8,1735.2 188.1,1735.2 186.3,1735.1 184.6,1735.1 182.9,1735.1 181.1,1735.0 179.4,1735.0 177.7,1735.0 175.9,1734.9 174.2,1734.9 172.5,1734.9 170.7,1734.9 169.0,1734.8 167.3,1734.8 165.5,1734.8 163.8,1734.7 162.0,1734.7 160.3,1734.7 158.6,1734.7 156.8,1734.7 155.1,1734.6 153.4,1734.6 151.6,1734.6 149.9,1734.6 148.2,1734.5 146.4,1734.5 144.7,1734.5 143.0,1734.5 141.2,1734.5 139.5,1734.5 137.8,1734.4 136.0,1734.4 134.3,1734.4 132.6,1734.4 130.8,1734.4 129.1,1734.4 127.3,1734.3 125.6,1734.3 123.9,1734.3 122.1,1734.3 120.4,1734.3 118.7,1734.3 116.9,1734.3 115.2,1734.3 113.5,1734.2 111.7,1734.2 110.0,1734.2 108.3,1734.2" fill="url(#gC3)"/>
<path d="M108.26,1727.43 L113.47,1727.79 L118.67,1726.21 L123.88,1727.61 L129.08,1726.00 L134.29,1726.08 L139.49,1726.43 L144.70,1724.52 L149.90,1725.04 L155.11,1722.98 L160.31,1722.89 L165.52,1721.58 L170.72,1719.26 L175.93,1716.65 L181.13,1717.09 L186.34,1715.26 L191.54,1712.62 L196.75,1710.28 L201.95,1709.99 L207.16,1709.29 L212.36,1706.57 L217.57,1708.20 L222.77,1705.01 L227.98,1705.74 L233.18,1705.28 L238.39,1704.46 L243.59,1702.98 L248.80,1700.56 L254.00,1701.32 L259.21,1699.16 L264.41,1697.99 L269.62,1697.82 L274.82,1696.51 L280.03,1697.20 L285.23,1696.69 L290.44,1695.90 L295.64,1694.28 L300.85,1694.74 L306.05,1694.76 L311.26,1693.56 L316.46,1693.27 L321.67,1692.71 L326.87,1689.92 L332.08,1688.32 L337.28,1687.21 L342.49,1683.33 L347.69,1679.93 L352.90,1674.79 L358.10,1670.39 L363.31,1666.11 L368.51,1657.88 L373.72,1653.16 L378.92,1644.22 L384.13,1634.15 L389.33,1625.62 L394.54,1613.32 L399.74,1602.12 L404.95,1586.88 L410.15,1572.30 L415.36,1557.97 L420.56,1542.04 L425.77,1528.76 L430.97,1513.54 L436.18,1500.94 L441.38,1489.91 L446.59,1481.53 L451.79,1474.54 L457.00,1471.48 L462.20,1473.41 L467.41,1476.87 L472.61,1485.83 L477.82,1494.25 L483.02,1507.17 L488.23,1521.03 L493.43,1537.89 L498.64,1556.78 L503.84,1574.39 L509.05,1591.52 L514.25,1610.89 L519.46,1626.48 L524.66,1643.13 L529.87,1657.88 L535.07,1671.31 L540.28,1681.16 L545.48,1693.37 L550.69,1702.06 L555.89,1709.37 L561.10,1714.50 L566.30,1722.12 L571.51,1725.51 L576.71,1728.82 L581.92,1730.77 L587.12,1733.24 L592.33,1734.93 L597.53,1737.99 L602.74,1738.72 L607.94,1739.74 L613.15,1738.94 L618.35,1739.26 L623.56,1741.95 L628.76,1742.22 L633.97,1742.34 L639.17,1742.56 L644.38,1742.04 L649.58,1741.91 L654.79,1742.98 L659.99,1743.83 L665.20,1742.78 L670.40,1743.02 L675.61,1742.57 L680.81,1741.57 L686.02,1742.39 L691.22,1742.96 L696.43,1742.74 L701.63,1742.64 L706.84,1744.46 L712.04,1742.14" fill="none" stroke="#000" stroke-width="4.2" stroke-linejoin="round" stroke-linecap="round" />
<polyline points="108.3,1726.5 110.0,1726.4 111.7,1726.4 113.5,1726.3 115.2,1726.3 116.9,1726.2 118.7,1726.2 120.4,1726.1 122.1,1726.0 123.9,1725.9 125.6,1725.8 127.3,1725.7 129.1,1725.6 130.8,1725.5 132.6,1725.4 134.3,1725.2 136.0,1725.1 137.8,1724.9 139.5,1724.7 141.2,1724.5 143.0,1724.3 144.7,1724.1 146.4,1723.8 148.2,1723.6 149.9,1723.3 151.6,1723.0 153.4,1722.7 155.1,1722.3 156.8,1722.0 158.6,1721.6 160.3,1721.2 162.0,1720.8 163.8,1720.4 165.5,1720.0 167.3,1719.5 169.0,1719.0 170.7,1718.6 172.5,1718.1 174.2,1717.6 175.9,1717.1 177.7,1716.6 179.4,1716.1 181.1,1715.6 182.9,1715.0 184.6,1714.5 186.3,1714.0 188.1,1713.5 189.8,1713.0 191.5,1712.5 193.3,1712.0 195.0,1711.5 196.7,1711.1 198.5,1710.6 200.2,1710.2 202.0,1709.7 203.7,1709.3 205.4,1708.9 207.2,1708.5 208.9,1708.2 210.6,1707.8 212.4,1707.4 214.1,1707.1 215.8,1706.8 217.6,1706.5 219.3,1706.1 221.0,1705.8 222.8,1705.5 224.5,1705.3 226.2,1705.0 228.0,1704.7 229.7,1704.4 231.4,1704.1 233.2,1703.8 234.9,1703.5 236.7,1703.2 238.4,1702.9 240.1,1702.6 241.9,1702.3 243.6,1702.0 245.3,1701.7 247.1,1701.3 248.8,1701.0 250.5,1700.6 252.3,1700.3 254.0,1700.0 255.7,1699.6 257.5,1699.3 259.2,1698.9 260.9,1698.6 262.7,1698.2 264.4,1697.9 266.1,1697.6 267.9,1697.3 269.6,1697.0 271.4,1696.7 273.1,1696.4 274.8,1696.2 276.6,1695.9 278.3,1695.7 280.0,1695.5 281.8,1695.3 283.5,1695.1 285.2,1695.0 287.0,1694.8 288.7,1694.7 290.4,1694.6 292.2,1694.5 293.9,1694.4 295.6,1694.3 297.4,1694.2 299.1,1694.1 300.8,1694.1 302.6,1694.0 304.3,1693.9 306.1,1693.8 307.8,1693.6 309.5,1693.5 311.3,1693.3 313.0,1693.1 314.7,1692.9 316.5,1692.7 318.2,1692.4 319.9,1692.0 321.7,1691.7 323.4,1691.3 325.1,1690.8 326.9,1690.3 328.6,1689.7 330.3,1689.1 332.1,1688.4 333.8,1687.7 335.5,1686.9 337.3,1686.0 339.0,1685.1 340.8,1684.1 342.5,1683.1 344.2,1682.0 346.0,1680.8 347.7,1679.5 349.4,1678.2 351.2,1676.8 352.9,1675.4 354.6,1673.8 356.4,1672.2 358.1,1670.6 359.8,1668.8 361.6,1667.0 363.3,1665.0 365.0,1663.0 366.8,1660.9 368.5,1658.8 370.2,1656.5 372.0,1654.1 373.7,1651.6 375.5,1649.0 377.2,1646.3 378.9,1643.5 380.7,1640.6 382.4,1637.6 384.1,1634.4 385.9,1631.1 387.6,1627.7 389.3,1624.2 391.1,1620.5 392.8,1616.7 394.5,1612.8 396.3,1608.8 398.0,1604.6 399.7,1600.4 401.5,1596.0 403.2,1591.5 404.9,1586.9 406.7,1582.2 408.4,1577.4 410.2,1572.6 411.9,1567.7 413.6,1562.7 415.4,1557.7 417.1,1552.7 418.8,1547.7 420.6,1542.6 422.3,1537.6 424.0,1532.7 425.8,1527.8 427.5,1522.9 429.2,1518.2 431.0,1513.6 432.7,1509.2 434.4,1504.9 436.2,1500.7 437.9,1496.8 439.6,1493.1 441.4,1489.7 443.1,1486.5 444.9,1483.6 446.6,1480.9 448.3,1478.6 450.1,1476.7 451.8,1475.0 453.5,1473.7 455.3,1472.8 457.0,1472.3 458.7,1472.1 460.5,1472.3 462.2,1472.9 463.9,1473.8 465.7,1475.2 467.4,1476.9 469.1,1478.9 470.9,1481.4 472.6,1484.1 474.3,1487.2 476.1,1490.6 477.8,1494.3 479.6,1498.3 481.3,1502.6 483.0,1507.1 484.8,1511.9 486.5,1516.8 488.2,1521.9 490.0,1527.3 491.7,1532.7 493.4,1538.3 495.2,1544.0 496.9,1549.8 498.6,1555.7 500.4,1561.6 502.1,1567.6 503.8,1573.6 505.6,1579.6 507.3,1585.6 509.0,1591.5 510.8,1597.4 512.5,1603.3 514.3,1609.1 516.0,1614.8 517.7,1620.4 519.5,1625.9 521.2,1631.3 522.9,1636.6 524.7,1641.7 526.4,1646.7 528.1,1651.6 529.9,1656.3 531.6,1660.9 533.3,1665.3 535.1,1669.6 536.8,1673.7 538.5,1677.7 540.3,1681.4 542.0,1685.1 543.7,1688.5 545.5,1691.9 547.2,1695.0 549.0,1698.0 550.7,1700.9 552.4,1703.6 554.2,1706.2 555.9,1708.6 557.6,1710.9 559.4,1713.0 561.1,1715.1 562.8,1717.0 564.6,1718.8 566.3,1720.5 568.0,1722.0 569.8,1723.5 571.5,1724.9 573.2,1726.2 575.0,1727.4 576.7,1728.5 578.4,1729.5 580.2,1730.5 581.9,1731.4 583.7,1732.2 585.4,1733.0 587.1,1733.7 588.9,1734.3 590.6,1734.9 592.3,1735.5 594.1,1736.0 595.8,1736.5 597.5,1736.9 599.3,1737.3 601.0,1737.7 602.7,1738.0 604.5,1738.3 606.2,1738.6 607.9,1738.9 609.7,1739.1 611.4,1739.3 613.1,1739.6 614.9,1739.7 616.6,1739.9 618.4,1740.1 620.1,1740.2 621.8,1740.4 623.6,1740.5 625.3,1740.6 627.0,1740.7 628.8,1740.8 630.5,1740.9 632.2,1741.0 634.0,1741.1 635.7,1741.2 637.4,1741.3 639.2,1741.3 640.9,1741.4 642.6,1741.5 644.4,1741.5 646.1,1741.6 647.8,1741.6 649.6,1741.7 651.3,1741.7 653.1,1741.8 654.8,1741.8 656.5,1741.9 658.3,1741.9 660.0,1742.0 661.7,1742.0 663.5,1742.0 665.2,1742.1 666.9,1742.1 668.7,1742.2 670.4,1742.2 672.1,1742.2 673.9,1742.3 675.6,1742.3 677.3,1742.3 679.1,1742.3 680.8,1742.4 682.5,1742.4 684.3,1742.4 686.0,1742.5 687.8,1742.5 689.5,1742.5 691.2,1742.5 693.0,1742.6 694.7,1742.6 696.4,1742.6 698.2,1742.6 699.9,1742.6 701.6,1742.7 703.4,1742.7 705.1,1742.7 706.8,1742.7 708.6,1742.8 710.3,1742.8 712.0,1742.8 713.8,1742.8" fill="none" stroke="#FF0000" stroke-width="5" stroke-linejoin="round"/>
<polyline points="108.3,1734.2 110.0,1734.2 111.7,1734.2 113.5,1734.2 115.2,1734.3 116.9,1734.3 118.7,1734.3 120.4,1734.3 122.1,1734.3 123.9,1734.3 125.6,1734.3 127.3,1734.3 129.1,1734.4 130.8,1734.4 132.6,1734.4 134.3,1734.4 136.0,1734.4 137.8,1734.4 139.5,1734.5 141.2,1734.5 143.0,1734.5 144.7,1734.5 146.4,1734.5 148.2,1734.5 149.9,1734.6 151.6,1734.6 153.4,1734.6 155.1,1734.6 156.8,1734.7 158.6,1734.7 160.3,1734.7 162.0,1734.7 163.8,1734.7 165.5,1734.8 167.3,1734.8 169.0,1734.8 170.7,1734.9 172.5,1734.9 174.2,1734.9 175.9,1734.9 177.7,1735.0 179.4,1735.0 181.1,1735.0 182.9,1735.1 184.6,1735.1 186.3,1735.1 188.1,1735.2 189.8,1735.2 191.5,1735.2 193.3,1735.3 195.0,1735.3 196.7,1735.3 198.5,1735.4 200.2,1735.4 202.0,1735.4 203.7,1735.5 205.4,1735.5 207.2,1735.6 208.9,1735.6 210.6,1735.7 212.4,1735.7 214.1,1735.7 215.8,1735.8 217.6,1735.8 219.3,1735.9 221.0,1735.9 222.8,1736.0 224.5,1736.0 226.2,1736.1 228.0,1736.1 229.7,1736.2 231.4,1736.2 233.2,1736.3 234.9,1736.3 236.7,1736.4 238.4,1736.4 240.1,1736.5 241.9,1736.5 243.6,1736.6 245.3,1736.7 247.1,1736.7 248.8,1736.8 250.5,1736.8 252.3,1736.9 254.0,1736.9 255.7,1737.0 257.5,1737.1 259.2,1737.1 260.9,1737.2 262.7,1737.3 264.4,1737.3 266.1,1737.4 267.9,1737.4 269.6,1737.5 271.4,1737.6 273.1,1737.6 274.8,1737.7 276.6,1737.8 278.3,1737.9 280.0,1737.9 281.8,1738.0 283.5,1738.1 285.2,1738.1 287.0,1738.2 288.7,1738.3 290.4,1738.3 292.2,1738.4 293.9,1738.5 295.6,1738.6 297.4,1738.6 299.1,1738.7 300.8,1738.8 302.6,1738.9 304.3,1738.9 306.1,1739.0 307.8,1739.1 309.5,1739.2 311.3,1739.2 313.0,1739.3 314.7,1739.4 316.5,1739.5 318.2,1739.5 319.9,1739.6 321.7,1739.7 323.4,1739.8 325.1,1739.8 326.9,1739.9 328.6,1740.0 330.3,1740.1 332.1,1740.1 333.8,1740.2 335.5,1740.3 337.3,1740.4 339.0,1740.4 340.8,1740.5 342.5,1740.6 344.2,1740.7 346.0,1740.7 347.7,1740.8 349.4,1740.9 351.2,1741.0 352.9,1741.0 354.6,1741.1 356.4,1741.2 358.1,1741.3 359.8,1741.3 361.6,1741.4 363.3,1741.5 365.0,1741.6 366.8,1741.6 368.5,1741.7 370.2,1741.8 372.0,1741.9 373.7,1741.9 375.5,1742.0 377.2,1742.1 378.9,1742.1 380.7,1742.2 382.4,1742.3 384.1,1742.3 385.9,1742.4 387.6,1742.5 389.3,1742.5 391.1,1742.6 392.8,1742.7 394.5,1742.7 396.3,1742.8 398.0,1742.9 399.7,1742.9 401.5,1743.0 403.2,1743.0 404.9,1743.1 406.7,1743.2 408.4,1743.2 410.2,1743.3 411.9,1743.3 413.6,1743.4 415.4,1743.5 417.1,1743.5 418.8,1743.6 420.6,1743.6 422.3,1743.7 424.0,1743.7 425.8,1743.8 427.5,1743.8 429.2,1743.9 431.0,1743.9 432.7,1744.0 434.4,1744.0 436.2,1744.1 437.9,1744.1 439.6,1744.2 441.4,1744.2 443.1,1744.3 444.9,1744.3 446.6,1744.4 448.3,1744.4 450.1,1744.4 451.8,1744.5 453.5,1744.5 455.3,1744.6 457.0,1744.6 458.7,1744.6 460.5,1744.7 462.2,1744.7 463.9,1744.8 465.7,1744.8 467.4,1744.8 469.1,1744.9 470.9,1744.9 472.6,1744.9 474.3,1745.0 476.1,1745.0 477.8,1745.0 479.6,1745.1 481.3,1745.1 483.0,1745.1 484.8,1745.1 486.5,1745.2 488.2,1745.2 490.0,1745.2 491.7,1745.3 493.4,1745.3 495.2,1745.3 496.9,1745.3 498.6,1745.4 500.4,1745.4 502.1,1745.4 503.8,1745.4 505.6,1745.4 507.3,1745.5 509.0,1745.5 510.8,1745.5 512.5,1745.5 514.3,1745.5 516.0,1745.6 517.7,1745.6 519.5,1745.6 521.2,1745.6 522.9,1745.6 524.7,1745.6 526.4,1745.7 528.1,1745.7 529.9,1745.7 531.6,1745.7 533.3,1745.7 535.1,1745.7 536.8,1745.7 538.5,1745.8 540.3,1745.8 542.0,1745.8 543.7,1745.8 545.5,1745.8 547.2,1745.8 549.0,1745.8 550.7,1745.8 552.4,1745.9 554.2,1745.9 555.9,1745.9 557.6,1745.9 559.4,1745.9 561.1,1745.9 562.8,1745.9 564.6,1745.9 566.3,1745.9 568.0,1745.9 569.8,1745.9 571.5,1745.9 573.2,1745.9 575.0,1746.0 576.7,1746.0 578.4,1746.0 580.2,1746.0 581.9,1746.0 583.7,1746.0 585.4,1746.0 587.1,1746.0 588.9,1746.0 590.6,1746.0 592.3,1746.0 594.1,1746.0 595.8,1746.0 597.5,1746.0 599.3,1746.0 601.0,1746.0 602.7,1746.0 604.5,1746.0 606.2,1746.0 607.9,1746.0 609.7,1746.0 611.4,1746.1 613.1,1746.1 614.9,1746.1 616.6,1746.1 618.4,1746.1 620.1,1746.1 621.8,1746.1 623.6,1746.1 625.3,1746.1 627.0,1746.1 628.8,1746.1 630.5,1746.1 632.2,1746.1 634.0,1746.1 635.7,1746.1 637.4,1746.1 639.2,1746.1 640.9,1746.1 642.6,1746.1 644.4,1746.1 646.1,1746.1 647.8,1746.1 649.6,1746.1 651.3,1746.1 653.1,1746.1 654.8,1746.1 656.5,1746.1 658.3,1746.1 660.0,1746.1 661.7,1746.1 663.5,1746.1 665.2,1746.1 666.9,1746.1 668.7,1746.1 670.4,1746.1 672.1,1746.1 673.9,1746.1 675.6,1746.1 677.3,1746.1 679.1,1746.1 680.8,1746.1 682.5,1746.1 684.3,1746.1 686.0,1746.1 687.8,1746.1 689.5,1746.1 691.2,1746.1 693.0,1746.1 694.7,1746.1 696.4,1746.1 698.2,1746.1 699.9,1746.1 701.6,1746.1 703.4,1746.1 705.1,1746.1 706.8,1746.1 708.6,1746.1 710.3,1746.1 712.0,1746.1 713.8,1746.1" fill="none" stroke="#5A1580" stroke-width="3"/>
<polyline points="108.3,1733.4 110.0,1733.4 111.7,1733.5 113.5,1733.5 115.2,1733.5 116.9,1733.5 118.7,1733.5 120.4,1733.5 122.1,1733.5 123.9,1733.5 125.6,1733.5 127.3,1733.5 129.1,1733.5 130.8,1733.5 132.6,1733.5 134.3,1733.5 136.0,1733.5 137.8,1733.5 139.5,1733.5 141.2,1733.5 143.0,1733.6 144.7,1733.6 146.4,1733.6 148.2,1733.6 149.9,1733.6 151.6,1733.6 153.4,1733.6 155.1,1733.6 156.8,1733.6 158.6,1733.6 160.3,1733.7 162.0,1733.7 163.8,1733.7 165.5,1733.7 167.3,1733.7 169.0,1733.7 170.7,1733.7 172.5,1733.7 174.2,1733.8 175.9,1733.8 177.7,1733.8 179.4,1733.8 181.1,1733.8 182.9,1733.8 184.6,1733.9 186.3,1733.9 188.1,1733.9 189.8,1733.9 191.5,1733.9 193.3,1734.0 195.0,1734.0 196.7,1734.0 198.5,1734.0 200.2,1734.0 202.0,1734.1 203.7,1734.1 205.4,1734.1 207.2,1734.1 208.9,1734.1 210.6,1734.2 212.4,1734.2 214.1,1734.2 215.8,1734.2 217.6,1734.3 219.3,1734.3 221.0,1734.3 222.8,1734.3 224.5,1734.4 226.2,1734.4 228.0,1734.4 229.7,1734.4 231.4,1734.5 233.2,1734.5 234.9,1734.5 236.7,1734.5 238.4,1734.6 240.1,1734.6 241.9,1734.6 243.6,1734.6 245.3,1734.7 247.1,1734.7 248.8,1734.7 250.5,1734.8 252.3,1734.8 254.0,1734.8 255.7,1734.8 257.5,1734.8 259.2,1734.9 260.9,1734.9 262.7,1734.9 264.4,1734.9 266.1,1735.0 267.9,1735.0 269.6,1735.0 271.4,1735.0 273.1,1735.0 274.8,1735.0 276.6,1735.0 278.3,1735.0 280.0,1735.1 281.8,1735.0 283.5,1735.0 285.2,1735.0 287.0,1735.0 288.7,1735.0 290.4,1735.0 292.2,1735.0 293.9,1734.9 295.6,1734.9 297.4,1734.8 299.1,1734.8 300.8,1734.7 302.6,1734.6 304.3,1734.5 306.1,1734.4 307.8,1734.2 309.5,1734.1 311.3,1733.9 313.0,1733.8 314.7,1733.5 316.5,1733.3 318.2,1733.0 319.9,1732.8 321.7,1732.4 323.4,1732.1 325.1,1731.7 326.9,1731.3 328.6,1730.8 330.3,1730.3 332.1,1729.7 333.8,1729.1 335.5,1728.4 337.3,1727.6 339.0,1726.8 340.8,1726.0 342.5,1725.0 344.2,1724.0 346.0,1722.9 347.7,1721.7 349.4,1720.4 351.2,1719.0 352.9,1717.5 354.6,1715.9 356.4,1714.2 358.1,1712.3 359.8,1710.4 361.6,1708.3 363.3,1706.1 365.0,1703.8 366.8,1701.3 368.5,1698.7 370.2,1695.9 372.0,1693.0 373.7,1689.9 375.5,1686.7 377.2,1683.3 378.9,1679.7 380.7,1676.0 382.4,1672.2 384.1,1668.1 385.9,1664.0 387.6,1659.6 389.3,1655.1 391.1,1650.5 392.8,1645.7 394.5,1640.8 396.3,1635.7 398.0,1630.5 399.7,1625.2 401.5,1619.8 403.2,1614.3 404.9,1608.6 406.7,1602.9 408.4,1597.2 410.2,1591.4 411.9,1585.5 413.6,1579.6 415.4,1573.7 417.1,1567.8 418.8,1561.9 420.6,1556.1 422.3,1550.3 424.0,1544.6 425.8,1539.0 427.5,1533.5 429.2,1528.2 431.0,1522.9 432.7,1517.9 434.4,1513.1 436.2,1508.5 437.9,1504.1 439.6,1499.9 441.4,1496.1 443.1,1492.5 444.9,1489.2 446.6,1486.3 448.3,1483.7 450.1,1481.4 451.8,1479.5 453.5,1478.0 455.3,1476.9 457.0,1476.1 458.7,1475.8 460.5,1475.8 462.2,1476.2 463.9,1477.1 465.7,1478.3 467.4,1479.9 469.1,1481.8 470.9,1484.2 472.6,1486.9 474.3,1489.9 476.1,1493.2 477.8,1496.9 479.6,1500.8 481.3,1505.0 483.0,1509.5 484.8,1514.2 486.5,1519.1 488.2,1524.2 490.0,1529.5 491.7,1534.9 493.4,1540.5 495.2,1546.2 496.9,1552.0 498.6,1557.8 500.4,1563.7 502.1,1569.7 503.8,1575.7 505.6,1581.6 507.3,1587.6 509.0,1593.6 510.8,1599.5 512.5,1605.3 514.3,1611.1 516.0,1616.8 517.7,1622.4 519.5,1627.9 521.2,1633.3 522.9,1638.5 524.7,1643.7 526.4,1648.7 528.1,1653.6 529.9,1658.3 531.6,1662.9 533.3,1667.3 535.1,1671.5 536.8,1675.6 538.5,1679.6 540.3,1683.4 542.0,1687.0 543.7,1690.5 545.5,1693.8 547.2,1696.9 549.0,1699.9 550.7,1702.8 552.4,1705.5 554.2,1708.1 555.9,1710.5 557.6,1712.8 559.4,1714.9 561.1,1717.0 562.8,1718.9 564.6,1720.7 566.3,1722.4 568.0,1723.9 569.8,1725.4 571.5,1726.8 573.2,1728.1 575.0,1729.3 576.7,1730.4 578.4,1731.4 580.2,1732.4 581.9,1733.3 583.7,1734.1 585.4,1734.8 587.1,1735.6 588.9,1736.2 590.6,1736.8 592.3,1737.4 594.1,1737.9 595.8,1738.3 597.5,1738.8 599.3,1739.2 601.0,1739.6 602.7,1739.9 604.5,1740.2 606.2,1740.5 607.9,1740.8 609.7,1741.0 611.4,1741.2 613.1,1741.4 614.9,1741.6 616.6,1741.8 618.4,1742.0 620.1,1742.1 621.8,1742.2 623.6,1742.4 625.3,1742.5 627.0,1742.6 628.8,1742.7 630.5,1742.8 632.2,1742.9 634.0,1743.0 635.7,1743.1 637.4,1743.1 639.2,1743.2 640.9,1743.3 642.6,1743.3 644.4,1743.4 646.1,1743.5 647.8,1743.5 649.6,1743.6 651.3,1743.6 653.1,1743.7 654.8,1743.7 656.5,1743.8 658.3,1743.8 660.0,1743.8 661.7,1743.9 663.5,1743.9 665.2,1744.0 666.9,1744.0 668.7,1744.0 670.4,1744.1 672.1,1744.1 673.9,1744.1 675.6,1744.2 677.3,1744.2 679.1,1744.2 680.8,1744.2 682.5,1744.3 684.3,1744.3 686.0,1744.3 687.8,1744.4 689.5,1744.4 691.2,1744.4 693.0,1744.4 694.7,1744.5 696.4,1744.5 698.2,1744.5 699.9,1744.5 701.6,1744.5 703.4,1744.6 705.1,1744.6 706.8,1744.6 708.6,1744.6 710.3,1744.6 712.0,1744.7 713.8,1744.7" fill="none" stroke="#2E4BF0" stroke-width="3.6" stroke-linejoin="round"/>
<polyline points="108.3,1734.2 110.0,1734.2 111.7,1734.2 113.5,1734.2 115.2,1734.3 116.9,1734.3 118.7,1734.3 120.4,1734.3 122.1,1734.3 123.9,1734.3 125.6,1734.3 127.3,1734.3 129.1,1734.4 130.8,1734.4 132.6,1734.4 134.3,1734.4 136.0,1734.4 137.8,1734.4 139.5,1734.5 141.2,1734.5 143.0,1734.5 144.7,1734.5 146.4,1734.5 148.2,1734.5 149.9,1734.6 151.6,1734.6 153.4,1734.6 155.1,1734.6 156.8,1734.7 158.6,1734.7 160.3,1734.7 162.0,1734.7 163.8,1734.7 165.5,1734.8 167.3,1734.8 169.0,1734.8 170.7,1734.9 172.5,1734.9 174.2,1734.9 175.9,1734.9 177.7,1735.0 179.4,1735.0 181.1,1735.0 182.9,1735.1 184.6,1735.1 186.3,1735.1 188.1,1735.2 189.8,1735.2 191.5,1735.2 193.3,1735.3 195.0,1735.3 196.7,1735.3 198.5,1735.4 200.2,1735.4 202.0,1735.4 203.7,1735.5 205.4,1735.5 207.2,1735.6 208.9,1735.6 210.6,1735.6 212.4,1735.7 214.1,1735.7 215.8,1735.8 217.6,1735.8 219.3,1735.9 221.0,1735.9 222.8,1736.0 224.5,1736.0 226.2,1736.1 228.0,1736.1 229.7,1736.2 231.4,1736.2 233.2,1736.2 234.9,1736.3 236.7,1736.3 238.4,1736.4 240.1,1736.4 241.9,1736.5 243.6,1736.5 245.3,1736.6 247.1,1736.6 248.8,1736.7 250.5,1736.7 252.3,1736.8 254.0,1736.8 255.7,1736.8 257.5,1736.9 259.2,1736.9 260.9,1736.9 262.7,1736.9 264.4,1736.9 266.1,1736.9 267.9,1736.9 269.6,1736.9 271.4,1736.9 273.1,1736.9 274.8,1736.8 276.6,1736.8 278.3,1736.7 280.0,1736.6 281.8,1736.5 283.5,1736.4 285.2,1736.3 287.0,1736.1 288.7,1735.9 290.4,1735.7 292.2,1735.5 293.9,1735.3 295.6,1735.0 297.4,1734.7 299.1,1734.4 300.8,1734.0 302.6,1733.6 304.3,1733.2 306.1,1732.8 307.8,1732.3 309.5,1731.8 311.3,1731.2 313.0,1730.7 314.7,1730.1 316.5,1729.5 318.2,1728.8 319.9,1728.1 321.7,1727.4 323.4,1726.7 325.1,1726.0 326.9,1725.2 328.6,1724.5 330.3,1723.7 332.1,1722.9 333.8,1722.2 335.5,1721.4 337.3,1720.7 339.0,1719.9 340.8,1719.2 342.5,1718.5 344.2,1717.8 346.0,1717.2 347.7,1716.6 349.4,1716.0 351.2,1715.5 352.9,1715.1 354.6,1714.7 356.4,1714.3 358.1,1714.0 359.8,1713.8 361.6,1713.6 363.3,1713.5 365.0,1713.5 366.8,1713.5 368.5,1713.6 370.2,1713.8 372.0,1714.0 373.7,1714.4 375.5,1714.7 377.2,1715.2 378.9,1715.7 380.7,1716.2 382.4,1716.8 384.1,1717.5 385.9,1718.2 387.6,1718.9 389.3,1719.7 391.1,1720.5 392.8,1721.3 394.5,1722.2 396.3,1723.1 398.0,1724.0 399.7,1724.9 401.5,1725.8 403.2,1726.7 404.9,1727.6 406.7,1728.5 408.4,1729.4 410.2,1730.2 411.9,1731.1 413.6,1731.9 415.4,1732.7 417.1,1733.5 418.8,1734.3 420.6,1735.0 422.3,1735.7 424.0,1736.4 425.8,1737.0 427.5,1737.6 429.2,1738.2 431.0,1738.7 432.7,1739.2 434.4,1739.7 436.2,1740.1 437.9,1740.6 439.6,1741.0 441.4,1741.3 443.1,1741.7 444.9,1742.0 446.6,1742.3 448.3,1742.5 450.1,1742.8 451.8,1743.0 453.5,1743.2 455.3,1743.4 457.0,1743.6 458.7,1743.8 460.5,1743.9 462.2,1744.0 463.9,1744.2 465.7,1744.3 467.4,1744.4 469.1,1744.5 470.9,1744.6 472.6,1744.6 474.3,1744.7 476.1,1744.8 477.8,1744.8 479.6,1744.9 481.3,1745.0 483.0,1745.0 484.8,1745.0 486.5,1745.1 488.2,1745.1 490.0,1745.2 491.7,1745.2 493.4,1745.2 495.2,1745.3 496.9,1745.3 498.6,1745.3 500.4,1745.4 502.1,1745.4 503.8,1745.4 505.6,1745.4 507.3,1745.5 509.0,1745.5 510.8,1745.5 512.5,1745.5 514.3,1745.5 516.0,1745.6 517.7,1745.6 519.5,1745.6 521.2,1745.6 522.9,1745.6 524.7,1745.6 526.4,1745.7 528.1,1745.7 529.9,1745.7 531.6,1745.7 533.3,1745.7 535.1,1745.7 536.8,1745.7 538.5,1745.8 540.3,1745.8 542.0,1745.8 543.7,1745.8 545.5,1745.8 547.2,1745.8 549.0,1745.8 550.7,1745.8 552.4,1745.9 554.2,1745.9 555.9,1745.9 557.6,1745.9 559.4,1745.9 561.1,1745.9 562.8,1745.9 564.6,1745.9 566.3,1745.9 568.0,1745.9 569.8,1745.9 571.5,1745.9 573.2,1745.9 575.0,1746.0 576.7,1746.0 578.4,1746.0 580.2,1746.0 581.9,1746.0 583.7,1746.0 585.4,1746.0 587.1,1746.0 588.9,1746.0 590.6,1746.0 592.3,1746.0 594.1,1746.0 595.8,1746.0 597.5,1746.0 599.3,1746.0 601.0,1746.0 602.7,1746.0 604.5,1746.0 606.2,1746.0 607.9,1746.0 609.7,1746.0 611.4,1746.1 613.1,1746.1 614.9,1746.1 616.6,1746.1 618.4,1746.1 620.1,1746.1 621.8,1746.1 623.6,1746.1 625.3,1746.1 627.0,1746.1 628.8,1746.1 630.5,1746.1 632.2,1746.1 634.0,1746.1 635.7,1746.1 637.4,1746.1 639.2,1746.1 640.9,1746.1 642.6,1746.1 644.4,1746.1 646.1,1746.1 647.8,1746.1 649.6,1746.1 651.3,1746.1 653.1,1746.1 654.8,1746.1 656.5,1746.1 658.3,1746.1 660.0,1746.1 661.7,1746.1 663.5,1746.1 665.2,1746.1 666.9,1746.1 668.7,1746.1 670.4,1746.1 672.1,1746.1 673.9,1746.1 675.6,1746.1 677.3,1746.1 679.1,1746.1 680.8,1746.1 682.5,1746.1 684.3,1746.1 686.0,1746.1 687.8,1746.1 689.5,1746.1 691.2,1746.1 693.0,1746.1 694.7,1746.1 696.4,1746.1 698.2,1746.1 699.9,1746.1 701.6,1746.1 703.4,1746.1 705.1,1746.1 706.8,1746.1 708.6,1746.1 710.3,1746.1 712.0,1746.1 713.8,1746.1" fill="none" stroke="#CC44FF" stroke-width="3.6" stroke-linejoin="round"/>
<polyline points="108.3,1734.2 110.0,1734.2 111.7,1734.2 113.5,1734.2 115.2,1734.2 116.9,1734.3 118.7,1734.3 120.4,1734.3 122.1,1734.3 123.9,1734.3 125.6,1734.3 127.3,1734.3 129.1,1734.3 130.8,1734.3 132.6,1734.4 134.3,1734.4 136.0,1734.4 137.8,1734.4 139.5,1734.4 141.2,1734.4 143.0,1734.4 144.7,1734.4 146.4,1734.4 148.2,1734.4 149.9,1734.4 151.6,1734.4 153.4,1734.4 155.1,1734.4 156.8,1734.4 158.6,1734.4 160.3,1734.4 162.0,1734.4 163.8,1734.4 165.5,1734.4 167.3,1734.4 169.0,1734.3 170.7,1734.3 172.5,1734.2 174.2,1734.2 175.9,1734.1 177.7,1734.1 179.4,1734.0 181.1,1733.9 182.9,1733.8 184.6,1733.7 186.3,1733.6 188.1,1733.5 189.8,1733.3 191.5,1733.2 193.3,1733.0 195.0,1732.8 196.7,1732.6 198.5,1732.4 200.2,1732.2 202.0,1731.9 203.7,1731.7 205.4,1731.4 207.2,1731.1 208.9,1730.7 210.6,1730.4 212.4,1730.0 214.1,1729.6 215.8,1729.2 217.6,1728.8 219.3,1728.3 221.0,1727.8 222.8,1727.3 224.5,1726.8 226.2,1726.3 228.0,1725.7 229.7,1725.1 231.4,1724.5 233.2,1723.9 234.9,1723.3 236.7,1722.7 238.4,1722.0 240.1,1721.4 241.9,1720.7 243.6,1720.1 245.3,1719.4 247.1,1718.7 248.8,1718.1 250.5,1717.4 252.3,1716.8 254.0,1716.2 255.7,1715.6 257.5,1715.0 259.2,1714.4 260.9,1713.8 262.7,1713.3 264.4,1712.8 266.1,1712.4 267.9,1711.9 269.6,1711.6 271.4,1711.2 273.1,1710.9 274.8,1710.6 276.6,1710.4 278.3,1710.2 280.0,1710.1 281.8,1710.0 283.5,1710.0 285.2,1710.0 287.0,1710.1 288.7,1710.2 290.4,1710.4 292.2,1710.6 293.9,1710.9 295.6,1711.2 297.4,1711.6 299.1,1712.0 300.8,1712.4 302.6,1712.9 304.3,1713.4 306.1,1714.0 307.8,1714.6 309.5,1715.2 311.3,1715.9 313.0,1716.6 314.7,1717.3 316.5,1718.0 318.2,1718.8 319.9,1719.5 321.7,1720.3 323.4,1721.1 325.1,1721.9 326.9,1722.7 328.6,1723.5 330.3,1724.2 332.1,1725.0 333.8,1725.8 335.5,1726.6 337.3,1727.3 339.0,1728.1 340.8,1728.8 342.5,1729.5 344.2,1730.2 346.0,1730.9 347.7,1731.6 349.4,1732.2 351.2,1732.9 352.9,1733.5 354.6,1734.0 356.4,1734.6 358.1,1735.1 359.8,1735.7 361.6,1736.1 363.3,1736.6 365.0,1737.1 366.8,1737.5 368.5,1737.9 370.2,1738.3 372.0,1738.6 373.7,1739.0 375.5,1739.3 377.2,1739.6 378.9,1739.9 380.7,1740.2 382.4,1740.4 384.1,1740.7 385.9,1740.9 387.6,1741.1 389.3,1741.3 391.1,1741.5 392.8,1741.7 394.5,1741.8 396.3,1742.0 398.0,1742.1 399.7,1742.3 401.5,1742.4 403.2,1742.5 404.9,1742.7 406.7,1742.8 408.4,1742.9 410.2,1743.0 411.9,1743.1 413.6,1743.2 415.4,1743.2 417.1,1743.3 418.8,1743.4 420.6,1743.5 422.3,1743.6 424.0,1743.6 425.8,1743.7 427.5,1743.8 429.2,1743.8 431.0,1743.9 432.7,1743.9 434.4,1744.0 436.2,1744.0 437.9,1744.1 439.6,1744.1 441.4,1744.2 443.1,1744.2 444.9,1744.3 446.6,1744.3 448.3,1744.4 450.1,1744.4 451.8,1744.5 453.5,1744.5 455.3,1744.6 457.0,1744.6 458.7,1744.6 460.5,1744.7 462.2,1744.7 463.9,1744.8 465.7,1744.8 467.4,1744.8 469.1,1744.9 470.9,1744.9 472.6,1744.9 474.3,1745.0 476.1,1745.0 477.8,1745.0 479.6,1745.1 481.3,1745.1 483.0,1745.1 484.8,1745.1 486.5,1745.2 488.2,1745.2 490.0,1745.2 491.7,1745.3 493.4,1745.3 495.2,1745.3 496.9,1745.3 498.6,1745.4 500.4,1745.4 502.1,1745.4 503.8,1745.4 505.6,1745.4 507.3,1745.5 509.0,1745.5 510.8,1745.5 512.5,1745.5 514.3,1745.5 516.0,1745.6 517.7,1745.6 519.5,1745.6 521.2,1745.6 522.9,1745.6 524.7,1745.6 526.4,1745.7 528.1,1745.7 529.9,1745.7 531.6,1745.7 533.3,1745.7 535.1,1745.7 536.8,1745.7 538.5,1745.8 540.3,1745.8 542.0,1745.8 543.7,1745.8 545.5,1745.8 547.2,1745.8 549.0,1745.8 550.7,1745.8 552.4,1745.9 554.2,1745.9 555.9,1745.9 557.6,1745.9 559.4,1745.9 561.1,1745.9 562.8,1745.9 564.6,1745.9 566.3,1745.9 568.0,1745.9 569.8,1745.9 571.5,1745.9 573.2,1745.9 575.0,1746.0 576.7,1746.0 578.4,1746.0 580.2,1746.0 581.9,1746.0 583.7,1746.0 585.4,1746.0 587.1,1746.0 588.9,1746.0 590.6,1746.0 592.3,1746.0 594.1,1746.0 595.8,1746.0 597.5,1746.0 599.3,1746.0 601.0,1746.0 602.7,1746.0 604.5,1746.0 606.2,1746.0 607.9,1746.0 609.7,1746.0 611.4,1746.1 613.1,1746.1 614.9,1746.1 616.6,1746.1 618.4,1746.1 620.1,1746.1 621.8,1746.1 623.6,1746.1 625.3,1746.1 627.0,1746.1 628.8,1746.1 630.5,1746.1 632.2,1746.1 634.0,1746.1 635.7,1746.1 637.4,1746.1 639.2,1746.1 640.9,1746.1 642.6,1746.1 644.4,1746.1 646.1,1746.1 647.8,1746.1 649.6,1746.1 651.3,1746.1 653.1,1746.1 654.8,1746.1 656.5,1746.1 658.3,1746.1 660.0,1746.1 661.7,1746.1 663.5,1746.1 665.2,1746.1 666.9,1746.1 668.7,1746.1 670.4,1746.1 672.1,1746.1 673.9,1746.1 675.6,1746.1 677.3,1746.1 679.1,1746.1 680.8,1746.1 682.5,1746.1 684.3,1746.1 686.0,1746.1 687.8,1746.1 689.5,1746.1 691.2,1746.1 693.0,1746.1 694.7,1746.1 696.4,1746.1 698.2,1746.1 699.9,1746.1 701.6,1746.1 703.4,1746.1 705.1,1746.1 706.8,1746.1 708.6,1746.1 710.3,1746.1 712.0,1746.1 713.8,1746.1" fill="none" stroke="#178A60" stroke-width="3.6" stroke-linejoin="round"/>
<polyline points="108.3,1734.1 110.0,1734.1 111.7,1734.1 113.5,1734.0 115.2,1734.0 116.9,1734.0 118.7,1734.0 120.4,1733.9 122.1,1733.9 123.9,1733.8 125.6,1733.8 127.3,1733.7 129.1,1733.6 130.8,1733.6 132.6,1733.5 134.3,1733.4 136.0,1733.3 137.8,1733.1 139.5,1733.0 141.2,1732.9 143.0,1732.7 144.7,1732.5 146.4,1732.4 148.2,1732.2 149.9,1731.9 151.6,1731.7 153.4,1731.5 155.1,1731.2 156.8,1731.0 158.6,1730.7 160.3,1730.4 162.0,1730.1 163.8,1729.7 165.5,1729.4 167.3,1729.1 169.0,1728.7 170.7,1728.4 172.5,1728.0 174.2,1727.7 175.9,1727.3 177.7,1727.0 179.4,1726.6 181.1,1726.3 182.9,1725.9 184.6,1725.6 186.3,1725.3 188.1,1725.0 189.8,1724.7 191.5,1724.5 193.3,1724.2 195.0,1724.0 196.7,1723.8 198.5,1723.7 200.2,1723.6 202.0,1723.5 203.7,1723.4 205.4,1723.4 207.2,1723.4 208.9,1723.4 210.6,1723.5 212.4,1723.6 214.1,1723.8 215.8,1723.9 217.6,1724.1 219.3,1724.4 221.0,1724.6 222.8,1724.9 224.5,1725.3 226.2,1725.6 228.0,1726.0 229.7,1726.3 231.4,1726.7 233.2,1727.1 234.9,1727.6 236.7,1728.0 238.4,1728.4 240.1,1728.9 241.9,1729.3 243.6,1729.7 245.3,1730.2 247.1,1730.6 248.8,1731.0 250.5,1731.5 252.3,1731.9 254.0,1732.3 255.7,1732.7 257.5,1733.1 259.2,1733.4 260.9,1733.8 262.7,1734.1 264.4,1734.5 266.1,1734.8 267.9,1735.1 269.6,1735.3 271.4,1735.6 273.1,1735.9 274.8,1736.1 276.6,1736.3 278.3,1736.6 280.0,1736.8 281.8,1737.0 283.5,1737.1 285.2,1737.3 287.0,1737.5 288.7,1737.6 290.4,1737.8 292.2,1737.9 293.9,1738.1 295.6,1738.2 297.4,1738.3 299.1,1738.4 300.8,1738.5 302.6,1738.6 304.3,1738.7 306.1,1738.8 307.8,1738.9 309.5,1739.0 311.3,1739.1 313.0,1739.2 314.7,1739.3 316.5,1739.4 318.2,1739.5 319.9,1739.6 321.7,1739.6 323.4,1739.7 325.1,1739.8 326.9,1739.9 328.6,1740.0 330.3,1740.0 332.1,1740.1 333.8,1740.2 335.5,1740.3 337.3,1740.4 339.0,1740.4 340.8,1740.5 342.5,1740.6 344.2,1740.7 346.0,1740.7 347.7,1740.8 349.4,1740.9 351.2,1741.0 352.9,1741.0 354.6,1741.1 356.4,1741.2 358.1,1741.3 359.8,1741.3 361.6,1741.4 363.3,1741.5 365.0,1741.6 366.8,1741.6 368.5,1741.7 370.2,1741.8 372.0,1741.9 373.7,1741.9 375.5,1742.0 377.2,1742.1 378.9,1742.1 380.7,1742.2 382.4,1742.3 384.1,1742.3 385.9,1742.4 387.6,1742.5 389.3,1742.5 391.1,1742.6 392.8,1742.7 394.5,1742.7 396.3,1742.8 398.0,1742.9 399.7,1742.9 401.5,1743.0 403.2,1743.0 404.9,1743.1 406.7,1743.2 408.4,1743.2 410.2,1743.3 411.9,1743.3 413.6,1743.4 415.4,1743.5 417.1,1743.5 418.8,1743.6 420.6,1743.6 422.3,1743.7 424.0,1743.7 425.8,1743.8 427.5,1743.8 429.2,1743.9 431.0,1743.9 432.7,1744.0 434.4,1744.0 436.2,1744.1 437.9,1744.1 439.6,1744.2 441.4,1744.2 443.1,1744.3 444.9,1744.3 446.6,1744.4 448.3,1744.4 450.1,1744.4 451.8,1744.5 453.5,1744.5 455.3,1744.6 457.0,1744.6 458.7,1744.6 460.5,1744.7 462.2,1744.7 463.9,1744.8 465.7,1744.8 467.4,1744.8 469.1,1744.9 470.9,1744.9 472.6,1744.9 474.3,1745.0 476.1,1745.0 477.8,1745.0 479.6,1745.1 481.3,1745.1 483.0,1745.1 484.8,1745.1 486.5,1745.2 488.2,1745.2 490.0,1745.2 491.7,1745.3 493.4,1745.3 495.2,1745.3 496.9,1745.3 498.6,1745.4 500.4,1745.4 502.1,1745.4 503.8,1745.4 505.6,1745.4 507.3,1745.5 509.0,1745.5 510.8,1745.5 512.5,1745.5 514.3,1745.5 516.0,1745.6 517.7,1745.6 519.5,1745.6 521.2,1745.6 522.9,1745.6 524.7,1745.6 526.4,1745.7 528.1,1745.7 529.9,1745.7 531.6,1745.7 533.3,1745.7 535.1,1745.7 536.8,1745.7 538.5,1745.8 540.3,1745.8 542.0,1745.8 543.7,1745.8 545.5,1745.8 547.2,1745.8 549.0,1745.8 550.7,1745.8 552.4,1745.9 554.2,1745.9 555.9,1745.9 557.6,1745.9 559.4,1745.9 561.1,1745.9 562.8,1745.9 564.6,1745.9 566.3,1745.9 568.0,1745.9 569.8,1745.9 571.5,1745.9 573.2,1745.9 575.0,1746.0 576.7,1746.0 578.4,1746.0 580.2,1746.0 581.9,1746.0 583.7,1746.0 585.4,1746.0 587.1,1746.0 588.9,1746.0 590.6,1746.0 592.3,1746.0 594.1,1746.0 595.8,1746.0 597.5,1746.0 599.3,1746.0 601.0,1746.0 602.7,1746.0 604.5,1746.0 606.2,1746.0 607.9,1746.0 609.7,1746.0 611.4,1746.1 613.1,1746.1 614.9,1746.1 616.6,1746.1 618.4,1746.1 620.1,1746.1 621.8,1746.1 623.6,1746.1 625.3,1746.1 627.0,1746.1 628.8,1746.1 630.5,1746.1 632.2,1746.1 634.0,1746.1 635.7,1746.1 637.4,1746.1 639.2,1746.1 640.9,1746.1 642.6,1746.1 644.4,1746.1 646.1,1746.1 647.8,1746.1 649.6,1746.1 651.3,1746.1 653.1,1746.1 654.8,1746.1 656.5,1746.1 658.3,1746.1 660.0,1746.1 661.7,1746.1 663.5,1746.1 665.2,1746.1 666.9,1746.1 668.7,1746.1 670.4,1746.1 672.1,1746.1 673.9,1746.1 675.6,1746.1 677.3,1746.1 679.1,1746.1 680.8,1746.1 682.5,1746.1 684.3,1746.1 686.0,1746.1 687.8,1746.1 689.5,1746.1 691.2,1746.1 693.0,1746.1 694.7,1746.1 696.4,1746.1 698.2,1746.1 699.9,1746.1 701.6,1746.1 703.4,1746.1 705.1,1746.1 706.8,1746.1 708.6,1746.1 710.3,1746.1 712.0,1746.1 713.8,1746.1" fill="none" stroke="#A8801C" stroke-width="3.6" stroke-linejoin="round"/>
</g>
<rect x="112.6" y="1282.3" width="607.90" height="491.70" fill="none" stroke="#000" stroke-width="2.5"/>
<line x1="102.60" y1="1657.10" x2="112.60" y2="1657.10" stroke="#000" stroke-width="2.5" />
<text x="76.96" y="1671.60" font-size="32.5" text-anchor="start" >2</text>
<line x1="102.60" y1="1469.70" x2="112.60" y2="1469.70" stroke="#000" stroke-width="2.5" />
<text x="76.28" y="1484.20" font-size="32.5" text-anchor="start" >4</text>
<line x1="102.60" y1="1282.30" x2="112.60" y2="1282.30" stroke="#000" stroke-width="2.5" />
<text x="76.75" y="1296.80" font-size="32.5" text-anchor="start" >6</text>
<line x1="107.60" y1="1750.80" x2="112.60" y2="1750.80" stroke="#000" stroke-width="2.5" />
<line x1="107.60" y1="1563.40" x2="112.60" y2="1563.40" stroke="#000" stroke-width="2.5" />
<line x1="107.60" y1="1376.00" x2="112.60" y2="1376.00" stroke="#000" stroke-width="2.5" />
<line x1="112.60" y1="1774.00" x2="112.60" y2="1784.00" stroke="#000" stroke-width="2.5" />
<text x="96.81" y="1815.50" font-size="32.5" text-anchor="start" >534</text>
<line x1="286.10" y1="1774.00" x2="286.10" y2="1784.00" stroke="#000" stroke-width="2.5" />
<text x="270.65" y="1815.50" font-size="32.5" text-anchor="start" >532</text>
<line x1="459.60" y1="1774.00" x2="459.60" y2="1784.00" stroke="#000" stroke-width="2.5" />
<text x="443.97" y="1815.50" font-size="32.5" text-anchor="start" >530</text>
<line x1="633.10" y1="1774.00" x2="633.10" y2="1784.00" stroke="#000" stroke-width="2.5" />
<text x="617.54" y="1815.50" font-size="32.5" text-anchor="start" >528</text>
<line x1="199.35" y1="1774.00" x2="199.35" y2="1779.00" stroke="#000" stroke-width="2.5" />
<line x1="372.85" y1="1774.00" x2="372.85" y2="1779.00" stroke="#000" stroke-width="2.5" />
<line x1="546.35" y1="1774.00" x2="546.35" y2="1779.00" stroke="#000" stroke-width="2.5" />
<line x1="719.85" y1="1774.00" x2="719.85" y2="1779.00" stroke="#000" stroke-width="2.5" />
<text x="28.00" y="1663.00" font-size="32.5" text-anchor="start" transform="rotate(-90 28 1663)" xml:space="preserve">Intensity x 10<tspan font-size="21" dy="-11.5">4</tspan><tspan dy="11.5">  (a.u.)</tspan></text>
<text x="252.81" y="1861.00" font-size="32.8" text-anchor="start" >Binding energy (eV)</text>
<text x="16.40" y="1286.00" font-size="32" font-weight="bold" text-anchor="start" >c</text>
<text x="276.7" y="1334.3" font-size="33">WO<tspan font-size="21" dy="7.5">3</tspan><tspan font-size="33" dy="-7.5" dx="4">{001} - CH</tspan><tspan font-size="21" dy="7.5">4</tspan></text>
<text x="512.33" y="1415.00" font-size="32.5">Lattice-O</text>
<text x="135.35" y="1646.00" font-size="32.5">C=O</text>
<text x="173.54" y="1590.00" font-size="32.5">Adsorbed O<tspan font-size="20" dy="11">2</tspan></text>
<text x="302.46" y="1645.00" font-size="32.5">OH</text>
<line x1="505.00" y1="1410.00" x2="478.72" y2="1447.02" stroke="#000" stroke-width="4.6" />
<polygon points="468.30,1461.70 473.76,1441.05 485.99,1449.73" fill="#000"/>
<line x1="169.00" y1="1654.00" x2="193.85" y2="1702.95" stroke="#000" stroke-width="4.6" />
<polygon points="202.00,1719.00 186.26,1704.56 199.63,1697.77" fill="#000"/>
<line x1="249.00" y1="1603.00" x2="275.71" y2="1689.80" stroke="#000" stroke-width="4.6" />
<polygon points="281.00,1707.00 267.95,1690.09 282.29,1685.68" fill="#000"/>
<line x1="330.00" y1="1655.00" x2="353.98" y2="1696.42" stroke="#000" stroke-width="4.6" />
<polygon points="363.00,1712.00 346.49,1698.45 359.47,1690.93" fill="#000"/>
<clipPath id="clipD"><rect x="888.85" y="1282.05" width="606.9999999999999" height="489.10000000000014"/></clipPath>
<g clip-path="url(#clipD)">
<linearGradient id="gD0" x1="0" y1="0" x2="0" y2="1"><stop offset="0" stop-color="#A9DBF8"/><stop offset="1" stop-color="#ffffff" stop-opacity="0.9"/></linearGradient>
<polygon points="883.3,1730.7 885.0,1730.7 886.7,1730.7 888.5,1730.7 890.2,1730.8 891.9,1730.8 893.7,1730.8 895.4,1730.8 897.2,1730.8 898.9,1730.8 900.6,1730.8 902.4,1730.8 904.1,1730.8 905.8,1730.8 907.6,1730.8 909.3,1730.9 911.1,1730.9 912.8,1730.9 914.5,1730.9 916.3,1730.9 918.0,1730.9 919.8,1730.9 921.5,1730.9 923.2,1731.0 925.0,1731.0 926.7,1731.0 928.4,1731.0 930.2,1731.0 931.9,1731.0 933.7,1731.0 935.4,1731.0 937.1,1731.1 938.9,1731.1 940.6,1731.1 942.3,1731.1 944.1,1731.1 945.8,1731.1 947.6,1731.2 949.3,1731.2 951.0,1731.2 952.8,1731.2 954.5,1731.2 956.3,1731.2 958.0,1731.3 959.7,1731.3 961.5,1731.3 963.2,1731.3 964.9,1731.3 966.7,1731.3 968.4,1731.4 970.2,1731.4 971.9,1731.4 973.6,1731.4 975.4,1731.4 977.1,1731.5 978.8,1731.5 980.6,1731.5 982.3,1731.5 984.1,1731.5 985.8,1731.5 987.5,1731.6 989.3,1731.6 991.0,1731.6 992.7,1731.6 994.5,1731.6 996.2,1731.7 998.0,1731.7 999.7,1731.7 1001.4,1731.7 1003.2,1731.7 1004.9,1731.7 1006.7,1731.8 1008.4,1731.8 1010.1,1731.8 1011.9,1731.8 1013.6,1731.8 1015.3,1731.8 1017.1,1731.8 1018.8,1731.8 1020.6,1731.8 1022.3,1731.8 1024.0,1731.8 1025.8,1731.8 1027.5,1731.8 1029.2,1731.8 1031.0,1731.8 1032.7,1731.8 1034.5,1731.8 1036.2,1731.8 1037.9,1731.8 1039.7,1731.7 1041.4,1731.7 1043.2,1731.7 1044.9,1731.6 1046.6,1731.6 1048.4,1731.5 1050.1,1731.4 1051.8,1731.4 1053.6,1731.3 1055.3,1731.2 1057.1,1731.1 1058.8,1731.0 1060.5,1730.8 1062.3,1730.7 1064.0,1730.5 1065.7,1730.3 1067.5,1730.1 1069.2,1729.9 1071.0,1729.7 1072.7,1729.4 1074.4,1729.1 1076.2,1728.8 1077.9,1728.4 1079.6,1728.1 1081.4,1727.6 1083.1,1727.2 1084.9,1726.7 1086.6,1726.2 1088.3,1725.6 1090.1,1725.0 1091.8,1724.4 1093.6,1723.7 1095.3,1722.9 1097.0,1722.1 1098.8,1721.3 1100.5,1720.3 1102.2,1719.4 1104.0,1718.3 1105.7,1717.2 1107.5,1716.0 1109.2,1714.7 1110.9,1713.4 1112.7,1712.0 1114.4,1710.5 1116.1,1708.9 1117.9,1707.2 1119.6,1705.4 1121.4,1703.5 1123.1,1701.6 1124.8,1699.5 1126.6,1697.4 1128.3,1695.1 1130.1,1692.7 1131.8,1690.3 1133.5,1687.7 1135.3,1685.0 1137.0,1682.3 1138.7,1679.4 1140.5,1676.4 1142.2,1673.3 1144.0,1670.1 1145.7,1666.7 1147.4,1663.3 1149.2,1659.8 1150.9,1656.2 1152.6,1652.5 1154.4,1648.7 1156.1,1644.8 1157.9,1640.9 1159.6,1636.8 1161.3,1632.7 1163.1,1628.5 1164.8,1624.3 1166.5,1620.0 1168.3,1615.7 1170.0,1611.3 1171.8,1606.9 1173.5,1602.4 1175.2,1598.0 1177.0,1593.6 1178.7,1589.1 1180.5,1584.7 1182.2,1580.3 1183.9,1575.9 1185.7,1571.6 1187.4,1567.4 1189.1,1563.2 1190.9,1559.1 1192.6,1555.1 1194.4,1551.2 1196.1,1547.4 1197.8,1543.7 1199.6,1540.2 1201.3,1536.8 1203.0,1533.6 1204.8,1530.6 1206.5,1527.7 1208.3,1525.0 1210.0,1522.6 1211.7,1520.3 1213.5,1518.2 1215.2,1516.4 1217.0,1514.8 1218.7,1513.5 1220.4,1512.4 1222.2,1511.5 1223.9,1510.9 1225.6,1510.5 1227.4,1510.4 1229.1,1510.6 1230.9,1511.0 1232.6,1511.6 1234.3,1512.5 1236.1,1513.7 1237.8,1515.1 1239.5,1516.7 1241.3,1518.6 1243.0,1520.7 1244.8,1523.0 1246.5,1525.5 1248.2,1528.2 1250.0,1531.2 1251.7,1534.2 1253.4,1537.5 1255.2,1540.9 1256.9,1544.5 1258.7,1548.2 1260.4,1552.0 1262.1,1556.0 1263.9,1560.0 1265.6,1564.2 1267.4,1568.4 1269.1,1572.7 1270.8,1577.1 1272.6,1581.5 1274.3,1585.9 1276.0,1590.4 1277.8,1594.9 1279.5,1599.4 1281.3,1603.8 1283.0,1608.3 1284.7,1612.8 1286.5,1617.2 1288.2,1621.6 1289.9,1625.9 1291.7,1630.2 1293.4,1634.4 1295.2,1638.6 1296.9,1642.7 1298.6,1646.7 1300.4,1650.6 1302.1,1654.5 1303.9,1658.2 1305.6,1661.9 1307.3,1665.4 1309.1,1668.9 1310.8,1672.2 1312.5,1675.5 1314.3,1678.7 1316.0,1681.7 1317.8,1684.6 1319.5,1687.5 1321.2,1690.2 1323.0,1692.8 1324.7,1695.3 1326.4,1697.7 1328.2,1700.1 1329.9,1702.3 1331.7,1704.4 1333.4,1706.4 1335.1,1708.3 1336.9,1710.1 1338.6,1711.8 1340.3,1713.5 1342.1,1715.0 1343.8,1716.5 1345.6,1717.9 1347.3,1719.2 1349.0,1720.5 1350.8,1721.6 1352.5,1722.7 1354.3,1723.8 1356.0,1724.7 1357.7,1725.6 1359.5,1726.5 1361.2,1727.3 1362.9,1728.1 1364.7,1728.8 1366.4,1729.4 1368.2,1730.0 1369.9,1730.6 1371.6,1731.1 1373.4,1731.6 1375.1,1732.1 1376.8,1732.5 1378.6,1732.9 1380.3,1733.3 1382.1,1733.6 1383.8,1733.9 1385.5,1734.2 1387.3,1734.5 1389.0,1734.7 1390.8,1734.9 1392.5,1735.2 1394.2,1735.4 1396.0,1735.5 1397.7,1735.7 1399.4,1735.9 1401.2,1736.0 1402.9,1736.1 1404.7,1736.3 1406.4,1736.4 1408.1,1736.5 1409.9,1736.6 1411.6,1736.7 1413.3,1736.8 1415.1,1736.8 1416.8,1736.9 1418.6,1737.0 1420.3,1737.0 1422.0,1737.1 1423.8,1737.1 1425.5,1737.2 1427.2,1737.2 1429.0,1737.3 1430.7,1737.3 1432.5,1737.4 1434.2,1737.4 1435.9,1737.4 1437.7,1737.5 1439.4,1737.5 1441.2,1737.5 1442.9,1737.6 1444.6,1737.6 1446.4,1737.6 1448.1,1737.6 1449.8,1737.7 1451.6,1737.7 1453.3,1737.7 1455.1,1737.7 1456.8,1737.8 1458.5,1737.8 1460.3,1737.8 1462.0,1737.8 1463.7,1737.8 1465.5,1737.9 1467.2,1737.9 1469.0,1737.9 1470.7,1737.9 1472.4,1737.9 1474.2,1737.9 1475.9,1738.0 1477.7,1738.0 1479.4,1738.0 1481.1,1738.0 1482.9,1738.0 1484.6,1738.0 1486.3,1738.0 1488.1,1738.0 1489.8,1738.1 1491.6,1738.1 1493.3,1738.1 1495.0,1738.1 1496.8,1738.1 1496.8,1739.0 1495.0,1739.0 1493.3,1739.0 1491.6,1739.0 1489.8,1739.0 1488.1,1739.0 1486.3,1739.0 1484.6,1739.0 1482.9,1739.0 1481.1,1739.0 1479.4,1739.0 1477.7,1739.0 1475.9,1739.0 1474.2,1739.0 1472.4,1739.0 1470.7,1739.0 1469.0,1739.0 1467.2,1739.0 1465.5,1739.0 1463.7,1739.0 1462.0,1739.0 1460.3,1739.0 1458.5,1739.0 1456.8,1739.0 1455.1,1739.0 1453.3,1739.0 1451.6,1739.0 1449.8,1739.0 1448.1,1739.0 1446.4,1739.0 1444.6,1739.0 1442.9,1739.0 1441.2,1739.0 1439.4,1739.0 1437.7,1739.0 1435.9,1739.0 1434.2,1739.0 1432.5,1739.0 1430.7,1739.0 1429.0,1739.0 1427.2,1739.0 1425.5,1739.0 1423.8,1739.0 1422.0,1739.0 1420.3,1739.0 1418.6,1739.0 1416.8,1739.0 1415.1,1739.0 1413.3,1739.0 1411.6,1739.0 1409.9,1739.0 1408.1,1739.0 1406.4,1739.0 1404.7,1739.0 1402.9,1739.0 1401.2,1739.0 1399.4,1739.0 1397.7,1739.0 1396.0,1739.0 1394.2,1739.0 1392.5,1739.0 1390.8,1739.0 1389.0,1739.0 1387.3,1739.0 1385.5,1739.0 1383.8,1739.0 1382.1,1739.0 1380.3,1739.0 1378.6,1739.0 1376.8,1739.0 1375.1,1739.0 1373.4,1739.0 1371.6,1739.0 1369.9,1739.0 1368.2,1739.0 1366.4,1739.0 1364.7,1738.9 1362.9,1738.9 1361.2,1738.9 1359.5,1738.9 1357.7,1738.9 1356.0,1738.9 1354.3,1738.9 1352.5,1738.9 1350.8,1738.9 1349.0,1738.9 1347.3,1738.9 1345.6,1738.9 1343.8,1738.9 1342.1,1738.9 1340.3,1738.9 1338.6,1738.9 1336.9,1738.9 1335.1,1738.9 1333.4,1738.9 1331.7,1738.9 1329.9,1738.9 1328.2,1738.9 1326.4,1738.9 1324.7,1738.8 1323.0,1738.8 1321.2,1738.8 1319.5,1738.8 1317.8,1738.8 1316.0,1738.8 1314.3,1738.8 1312.5,1738.8 1310.8,1738.8 1309.1,1738.8 1307.3,1738.8 1305.6,1738.8 1303.9,1738.8 1302.1,1738.7 1300.4,1738.7 1298.6,1738.7 1296.9,1738.7 1295.2,1738.7 1293.4,1738.7 1291.7,1738.7 1289.9,1738.7 1288.2,1738.7 1286.5,1738.7 1284.7,1738.6 1283.0,1738.6 1281.3,1738.6 1279.5,1738.6 1277.8,1738.6 1276.0,1738.6 1274.3,1738.6 1272.6,1738.6 1270.8,1738.5 1269.1,1738.5 1267.4,1738.5 1265.6,1738.5 1263.9,1738.5 1262.1,1738.5 1260.4,1738.5 1258.7,1738.4 1256.9,1738.4 1255.2,1738.4 1253.4,1738.4 1251.7,1738.4 1250.0,1738.4 1248.2,1738.3 1246.5,1738.3 1244.8,1738.3 1243.0,1738.3 1241.3,1738.3 1239.5,1738.2 1237.8,1738.2 1236.1,1738.2 1234.3,1738.2 1232.6,1738.2 1230.9,1738.1 1229.1,1738.1 1227.4,1738.1 1225.6,1738.1 1223.9,1738.1 1222.2,1738.0 1220.4,1738.0 1218.7,1738.0 1217.0,1738.0 1215.2,1737.9 1213.5,1737.9 1211.7,1737.9 1210.0,1737.9 1208.3,1737.8 1206.5,1737.8 1204.8,1737.8 1203.0,1737.8 1201.3,1737.7 1199.6,1737.7 1197.8,1737.7 1196.1,1737.6 1194.4,1737.6 1192.6,1737.6 1190.9,1737.5 1189.1,1737.5 1187.4,1737.5 1185.7,1737.5 1183.9,1737.4 1182.2,1737.4 1180.5,1737.4 1178.7,1737.3 1177.0,1737.3 1175.2,1737.3 1173.5,1737.2 1171.8,1737.2 1170.0,1737.2 1168.3,1737.1 1166.5,1737.1 1164.8,1737.0 1163.1,1737.0 1161.3,1737.0 1159.6,1736.9 1157.9,1736.9 1156.1,1736.9 1154.4,1736.8 1152.6,1736.8 1150.9,1736.7 1149.2,1736.7 1147.4,1736.7 1145.7,1736.6 1144.0,1736.6 1142.2,1736.6 1140.5,1736.5 1138.7,1736.5 1137.0,1736.4 1135.3,1736.4 1133.5,1736.3 1131.8,1736.3 1130.1,1736.3 1128.3,1736.2 1126.6,1736.2 1124.8,1736.1 1123.1,1736.1 1121.4,1736.0 1119.6,1736.0 1117.9,1736.0 1116.1,1735.9 1114.4,1735.9 1112.7,1735.8 1110.9,1735.8 1109.2,1735.7 1107.5,1735.7 1105.7,1735.6 1104.0,1735.6 1102.2,1735.6 1100.5,1735.5 1098.8,1735.5 1097.0,1735.4 1095.3,1735.4 1093.6,1735.3 1091.8,1735.3 1090.1,1735.2 1088.3,1735.2 1086.6,1735.1 1084.9,1735.1 1083.1,1735.1 1081.4,1735.0 1079.6,1735.0 1077.9,1734.9 1076.2,1734.9 1074.4,1734.8 1072.7,1734.8 1071.0,1734.7 1069.2,1734.7 1067.5,1734.6 1065.7,1734.6 1064.0,1734.5 1062.3,1734.5 1060.5,1734.5 1058.8,1734.4 1057.1,1734.4 1055.3,1734.3 1053.6,1734.3 1051.8,1734.2 1050.1,1734.2 1048.4,1734.1 1046.6,1734.1 1044.9,1734.0 1043.2,1734.0 1041.4,1734.0 1039.7,1733.9 1037.9,1733.9 1036.2,1733.8 1034.5,1733.8 1032.7,1733.7 1031.0,1733.7 1029.2,1733.7 1027.5,1733.6 1025.8,1733.6 1024.0,1733.5 1022.3,1733.5 1020.6,1733.4 1018.8,1733.4 1017.1,1733.4 1015.3,1733.3 1013.6,1733.3 1011.9,1733.2 1010.1,1733.2 1008.4,1733.2 1006.7,1733.1 1004.9,1733.1 1003.2,1733.0 1001.4,1733.0 999.7,1733.0 998.0,1732.9 996.2,1732.9 994.5,1732.9 992.7,1732.8 991.0,1732.8 989.3,1732.8 987.5,1732.7 985.8,1732.7 984.1,1732.6 982.3,1732.6 980.6,1732.6 978.8,1732.5 977.1,1732.5 975.4,1732.5 973.6,1732.4 971.9,1732.4 970.2,1732.4 968.4,1732.4 966.7,1732.3 964.9,1732.3 963.2,1732.3 961.5,1732.2 959.7,1732.2 958.0,1732.2 956.3,1732.1 954.5,1732.1 952.8,1732.1 951.0,1732.1 949.3,1732.0 947.6,1732.0 945.8,1732.0 944.1,1732.0 942.3,1731.9 940.6,1731.9 938.9,1731.9 937.1,1731.9 935.4,1731.8 933.7,1731.8 931.9,1731.8 930.2,1731.8 928.4,1731.7 926.7,1731.7 925.0,1731.7 923.2,1731.7 921.5,1731.7 919.8,1731.6 918.0,1731.6 916.3,1731.6 914.5,1731.6 912.8,1731.6 911.1,1731.5 909.3,1731.5 907.6,1731.5 905.8,1731.5 904.1,1731.5 902.4,1731.5 900.6,1731.4 898.9,1731.4 897.2,1731.4 895.4,1731.4 893.7,1731.4 891.9,1731.4 890.2,1731.4 888.5,1731.3 886.7,1731.3 885.0,1731.3 883.3,1731.3" fill="url(#gD0)"/>
<linearGradient id="gD1" x1="0" y1="0" x2="0" y2="1"><stop offset="0" stop-color="#DE9CF6"/><stop offset="1" stop-color="#ffffff" stop-opacity="0.9"/></linearGradient>
<polygon points="883.3,1731.3 885.0,1731.3 886.7,1731.3 888.5,1731.3 890.2,1731.4 891.9,1731.4 893.7,1731.4 895.4,1731.4 897.2,1731.4 898.9,1731.4 900.6,1731.4 902.4,1731.5 904.1,1731.5 905.8,1731.5 907.6,1731.5 909.3,1731.5 911.1,1731.5 912.8,1731.6 914.5,1731.6 916.3,1731.6 918.0,1731.6 919.8,1731.6 921.5,1731.7 923.2,1731.7 925.0,1731.7 926.7,1731.7 928.4,1731.7 930.2,1731.8 931.9,1731.8 933.7,1731.8 935.4,1731.8 937.1,1731.9 938.9,1731.9 940.6,1731.9 942.3,1731.9 944.1,1732.0 945.8,1732.0 947.6,1732.0 949.3,1732.0 951.0,1732.1 952.8,1732.1 954.5,1732.1 956.3,1732.1 958.0,1732.2 959.7,1732.2 961.5,1732.2 963.2,1732.3 964.9,1732.3 966.7,1732.3 968.4,1732.3 970.2,1732.4 971.9,1732.4 973.6,1732.4 975.4,1732.5 977.1,1732.5 978.8,1732.5 980.6,1732.6 982.3,1732.6 984.1,1732.6 985.8,1732.7 987.5,1732.7 989.3,1732.7 991.0,1732.8 992.7,1732.8 994.5,1732.8 996.2,1732.9 998.0,1732.9 999.7,1732.9 1001.4,1732.9 1003.2,1733.0 1004.9,1733.0 1006.7,1733.0 1008.4,1733.0 1010.1,1733.1 1011.9,1733.1 1013.6,1733.1 1015.3,1733.1 1017.1,1733.1 1018.8,1733.1 1020.6,1733.1 1022.3,1733.1 1024.0,1733.1 1025.8,1733.1 1027.5,1733.1 1029.2,1733.1 1031.0,1733.1 1032.7,1733.0 1034.5,1733.0 1036.2,1732.9 1037.9,1732.9 1039.7,1732.8 1041.4,1732.7 1043.2,1732.6 1044.9,1732.5 1046.6,1732.4 1048.4,1732.3 1050.1,1732.1 1051.8,1732.0 1053.6,1731.8 1055.3,1731.6 1057.1,1731.4 1058.8,1731.2 1060.5,1730.9 1062.3,1730.7 1064.0,1730.4 1065.7,1730.1 1067.5,1729.8 1069.2,1729.5 1071.0,1729.1 1072.7,1728.8 1074.4,1728.4 1076.2,1728.0 1077.9,1727.5 1079.6,1727.1 1081.4,1726.7 1083.1,1726.2 1084.9,1725.7 1086.6,1725.2 1088.3,1724.7 1090.1,1724.2 1091.8,1723.7 1093.6,1723.2 1095.3,1722.7 1097.0,1722.2 1098.8,1721.7 1100.5,1721.2 1102.2,1720.7 1104.0,1720.2 1105.7,1719.7 1107.5,1719.2 1109.2,1718.8 1110.9,1718.3 1112.7,1717.9 1114.4,1717.5 1116.1,1717.2 1117.9,1716.9 1119.6,1716.6 1121.4,1716.3 1123.1,1716.1 1124.8,1715.9 1126.6,1715.7 1128.3,1715.6 1130.1,1715.5 1131.8,1715.5 1133.5,1715.5 1135.3,1715.5 1137.0,1715.6 1138.7,1715.7 1140.5,1715.9 1142.2,1716.1 1144.0,1716.3 1145.7,1716.6 1147.4,1716.9 1149.2,1717.3 1150.9,1717.6 1152.6,1718.1 1154.4,1718.5 1156.1,1719.0 1157.9,1719.5 1159.6,1720.0 1161.3,1720.5 1163.1,1721.0 1164.8,1721.6 1166.5,1722.2 1168.3,1722.8 1170.0,1723.4 1171.8,1724.0 1173.5,1724.6 1175.2,1725.2 1177.0,1725.7 1178.7,1726.3 1180.5,1726.9 1182.2,1727.5 1183.9,1728.1 1185.7,1728.6 1187.4,1729.1 1189.1,1729.7 1190.9,1730.2 1192.6,1730.7 1194.4,1731.2 1196.1,1731.6 1197.8,1732.1 1199.6,1732.5 1201.3,1732.9 1203.0,1733.3 1204.8,1733.6 1206.5,1734.0 1208.3,1734.3 1210.0,1734.6 1211.7,1734.9 1213.5,1735.2 1215.2,1735.5 1217.0,1735.7 1218.7,1735.9 1220.4,1736.2 1222.2,1736.3 1223.9,1736.5 1225.6,1736.7 1227.4,1736.9 1229.1,1737.0 1230.9,1737.1 1232.6,1737.3 1234.3,1737.4 1236.1,1737.5 1237.8,1737.6 1239.5,1737.7 1241.3,1737.8 1243.0,1737.8 1244.8,1737.9 1246.5,1738.0 1248.2,1738.0 1250.0,1738.1 1251.7,1738.1 1253.4,1738.2 1255.2,1738.2 1256.9,1738.3 1258.7,1738.3 1260.4,1738.3 1262.1,1738.4 1263.9,1738.4 1265.6,1738.4 1267.4,1738.5 1269.1,1738.5 1270.8,1738.5 1272.6,1738.5 1274.3,1738.5 1276.0,1738.6 1277.8,1738.6 1279.5,1738.6 1281.3,1738.6 1283.0,1738.6 1284.7,1738.6 1286.5,1738.6 1288.2,1738.7 1289.9,1738.7 1291.7,1738.7 1293.4,1738.7 1295.2,1738.7 1296.9,1738.7 1298.6,1738.7 1300.4,1738.7 1302.1,1738.7 1303.9,1738.8 1305.6,1738.8 1307.3,1738.8 1309.1,1738.8 1310.8,1738.8 1312.5,1738.8 1314.3,1738.8 1316.0,1738.8 1317.8,1738.8 1319.5,1738.8 1321.2,1738.8 1323.0,1738.8 1324.7,1738.8 1326.4,1738.9 1328.2,1738.9 1329.9,1738.9 1331.7,1738.9 1333.4,1738.9 1335.1,1738.9 1336.9,1738.9 1338.6,1738.9 1340.3,1738.9 1342.1,1738.9 1343.8,1738.9 1345.6,1738.9 1347.3,1738.9 1349.0,1738.9 1350.8,1738.9 1352.5,1738.9 1354.3,1738.9 1356.0,1738.9 1357.7,1738.9 1359.5,1738.9 1361.2,1738.9 1362.9,1738.9 1364.7,1738.9 1366.4,1739.0 1368.2,1739.0 1369.9,1739.0 1371.6,1739.0 1373.4,1739.0 1375.1,1739.0 1376.8,1739.0 1378.6,1739.0 1380.3,1739.0 1382.1,1739.0 1383.8,1739.0 1385.5,1739.0 1387.3,1739.0 1389.0,1739.0 1390.8,1739.0 1392.5,1739.0 1394.2,1739.0 1396.0,1739.0 1397.7,1739.0 1399.4,1739.0 1401.2,1739.0 1402.9,1739.0 1404.7,1739.0 1406.4,1739.0 1408.1,1739.0 1409.9,1739.0 1411.6,1739.0 1413.3,1739.0 1415.1,1739.0 1416.8,1739.0 1418.6,1739.0 1420.3,1739.0 1422.0,1739.0 1423.8,1739.0 1425.5,1739.0 1427.2,1739.0 1429.0,1739.0 1430.7,1739.0 1432.5,1739.0 1434.2,1739.0 1435.9,1739.0 1437.7,1739.0 1439.4,1739.0 1441.2,1739.0 1442.9,1739.0 1444.6,1739.0 1446.4,1739.0 1448.1,1739.0 1449.8,1739.0 1451.6,1739.0 1453.3,1739.0 1455.1,1739.0 1456.8,1739.0 1458.5,1739.0 1460.3,1739.0 1462.0,1739.0 1463.7,1739.0 1465.5,1739.0 1467.2,1739.0 1469.0,1739.0 1470.7,1739.0 1472.4,1739.0 1474.2,1739.0 1475.9,1739.0 1477.7,1739.0 1479.4,1739.0 1481.1,1739.0 1482.9,1739.0 1484.6,1739.0 1486.3,1739.0 1488.1,1739.0 1489.8,1739.0 1491.6,1739.0 1493.3,1739.0 1495.0,1739.0 1496.8,1739.0 1496.8,1739.0 1495.0,1739.0 1493.3,1739.0 1491.6,1739.0 1489.8,1739.0 1488.1,1739.0 1486.3,1739.0 1484.6,1739.0 1482.9,1739.0 1481.1,1739.0 1479.4,1739.0 1477.7,1739.0 1475.9,1739.0 1474.2,1739.0 1472.4,1739.0 1470.7,1739.0 1469.0,1739.0 1467.2,1739.0 1465.5,1739.0 1463.7,1739.0 1462.0,1739.0 1460.3,1739.0 1458.5,1739.0 1456.8,1739.0 1455.1,1739.0 1453.3,1739.0 1451.6,1739.0 1449.8,1739.0 1448.1,1739.0 1446.4,1739.0 1444.6,1739.0 1442.9,1739.0 1441.2,1739.0 1439.4,1739.0 1437.7,1739.0 1435.9,1739.0 1434.2,1739.0 1432.5,1739.0 1430.7,1739.0 1429.0,1739.0 1427.2,1739.0 1425.5,1739.0 1423.8,1739.0 1422.0,1739.0 1420.3,1739.0 1418.6,1739.0 1416.8,1739.0 1415.1,1739.0 1413.3,1739.0 1411.6,1739.0 1409.9,1739.0 1408.1,1739.0 1406.4,1739.0 1404.7,1739.0 1402.9,1739.0 1401.2,1739.0 1399.4,1739.0 1397.7,1739.0 1396.0,1739.0 1394.2,1739.0 1392.5,1739.0 1390.8,1739.0 1389.0,1739.0 1387.3,1739.0 1385.5,1739.0 1383.8,1739.0 1382.1,1739.0 1380.3,1739.0 1378.6,1739.0 1376.8,1739.0 1375.1,1739.0 1373.4,1739.0 1371.6,1739.0 1369.9,1739.0 1368.2,1739.0 1366.4,1739.0 1364.7,1738.9 1362.9,1738.9 1361.2,1738.9 1359.5,1738.9 1357.7,1738.9 1356.0,1738.9 1354.3,1738.9 1352.5,1738.9 1350.8,1738.9 1349.0,1738.9 1347.3,1738.9 1345.6,1738.9 1343.8,1738.9 1342.1,1738.9 1340.3,1738.9 1338.6,1738.9 1336.9,1738.9 1335.1,1738.9 1333.4,1738.9 1331.7,1738.9 1329.9,1738.9 1328.2,1738.9 1326.4,1738.9 1324.7,1738.8 1323.0,1738.8 1321.2,1738.8 1319.5,1738.8 1317.8,1738.8 1316.0,1738.8 1314.3,1738.8 1312.5,1738.8 1310.8,1738.8 1309.1,1738.8 1307.3,1738.8 1305.6,1738.8 1303.9,1738.8 1302.1,1738.7 1300.4,1738.7 1298.6,1738.7 1296.9,1738.7 1295.2,1738.7 1293.4,1738.7 1291.7,1738.7 1289.9,1738.7 1288.2,1738.7 1286.5,1738.7 1284.7,1738.6 1283.0,1738.6 1281.3,1738.6 1279.5,1738.6 1277.8,1738.6 1276.0,1738.6 1274.3,1738.6 1272.6,1738.6 1270.8,1738.5 1269.1,1738.5 1267.4,1738.5 1265.6,1738.5 1263.9,1738.5 1262.1,1738.5 1260.4,1738.5 1258.7,1738.4 1256.9,1738.4 1255.2,1738.4 1253.4,1738.4 1251.7,1738.4 1250.0,1738.4 1248.2,1738.3 1246.5,1738.3 1244.8,1738.3 1243.0,1738.3 1241.3,1738.3 1239.5,1738.2 1237.8,1738.2 1236.1,1738.2 1234.3,1738.2 1232.6,1738.2 1230.9,1738.1 1229.1,1738.1 1227.4,1738.1 1225.6,1738.1 1223.9,1738.1 1222.2,1738.0 1220.4,1738.0 1218.7,1738.0 1217.0,1738.0 1215.2,1737.9 1213.5,1737.9 1211.7,1737.9 1210.0,1737.9 1208.3,1737.8 1206.5,1737.8 1204.8,1737.8 1203.0,1737.8 1201.3,1737.7 1199.6,1737.7 1197.8,1737.7 1196.1,1737.6 1194.4,1737.6 1192.6,1737.6 1190.9,1737.5 1189.1,1737.5 1187.4,1737.5 1185.7,1737.5 1183.9,1737.4 1182.2,1737.4 1180.5,1737.4 1178.7,1737.3 1177.0,1737.3 1175.2,1737.3 1173.5,1737.2 1171.8,1737.2 1170.0,1737.2 1168.3,1737.1 1166.5,1737.1 1164.8,1737.0 1163.1,1737.0 1161.3,1737.0 1159.6,1736.9 1157.9,1736.9 1156.1,1736.9 1154.4,1736.8 1152.6,1736.8 1150.9,1736.7 1149.2,1736.7 1147.4,1736.7 1145.7,1736.6 1144.0,1736.6 1142.2,1736.6 1140.5,1736.5 1138.7,1736.5 1137.0,1736.4 1135.3,1736.4 1133.5,1736.3 1131.8,1736.3 1130.1,1736.3 1128.3,1736.2 1126.6,1736.2 1124.8,1736.1 1123.1,1736.1 1121.4,1736.0 1119.6,1736.0 1117.9,1736.0 1116.1,1735.9 1114.4,1735.9 1112.7,1735.8 1110.9,1735.8 1109.2,1735.7 1107.5,1735.7 1105.7,1735.6 1104.0,1735.6 1102.2,1735.6 1100.5,1735.5 1098.8,1735.5 1097.0,1735.4 1095.3,1735.4 1093.6,1735.3 1091.8,1735.3 1090.1,1735.2 1088.3,1735.2 1086.6,1735.1 1084.9,1735.1 1083.1,1735.1 1081.4,1735.0 1079.6,1735.0 1077.9,1734.9 1076.2,1734.9 1074.4,1734.8 1072.7,1734.8 1071.0,1734.7 1069.2,1734.7 1067.5,1734.6 1065.7,1734.6 1064.0,1734.5 1062.3,1734.5 1060.5,1734.5 1058.8,1734.4 1057.1,1734.4 1055.3,1734.3 1053.6,1734.3 1051.8,1734.2 1050.1,1734.2 1048.4,1734.1 1046.6,1734.1 1044.9,1734.0 1043.2,1734.0 1041.4,1734.0 1039.7,1733.9 1037.9,1733.9 1036.2,1733.8 1034.5,1733.8 1032.7,1733.7 1031.0,1733.7 1029.2,1733.7 1027.5,1733.6 1025.8,1733.6 1024.0,1733.5 1022.3,1733.5 1020.6,1733.4 1018.8,1733.4 1017.1,1733.4 1015.3,1733.3 1013.6,1733.3 1011.9,1733.2 1010.1,1733.2 1008.4,1733.2 1006.7,1733.1 1004.9,1733.1 1003.2,1733.0 1001.4,1733.0 999.7,1733.0 998.0,1732.9 996.2,1732.9 994.5,1732.9 992.7,1732.8 991.0,1732.8 989.3,1732.8 987.5,1732.7 985.8,1732.7 984.1,1732.6 982.3,1732.6 980.6,1732.6 978.8,1732.5 977.1,1732.5 975.4,1732.5 973.6,1732.4 971.9,1732.4 970.2,1732.4 968.4,1732.4 966.7,1732.3 964.9,1732.3 963.2,1732.3 961.5,1732.2 959.7,1732.2 958.0,1732.2 956.3,1732.1 954.5,1732.1 952.8,1732.1 951.0,1732.1 949.3,1732.0 947.6,1732.0 945.8,1732.0 944.1,1732.0 942.3,1731.9 940.6,1731.9 938.9,1731.9 937.1,1731.9 935.4,1731.8 933.7,1731.8 931.9,1731.8 930.2,1731.8 928.4,1731.7 926.7,1731.7 925.0,1731.7 923.2,1731.7 921.5,1731.7 919.8,1731.6 918.0,1731.6 916.3,1731.6 914.5,1731.6 912.8,1731.6 911.1,1731.5 909.3,1731.5 907.6,1731.5 905.8,1731.5 904.1,1731.5 902.4,1731.5 900.6,1731.4 898.9,1731.4 897.2,1731.4 895.4,1731.4 893.7,1731.4 891.9,1731.4 890.2,1731.4 888.5,1731.3 886.7,1731.3 885.0,1731.3 883.3,1731.3" fill="url(#gD1)"/>
<linearGradient id="gD2" x1="0" y1="0" x2="0" y2="1"><stop offset="0" stop-color="#A2F5A2"/><stop offset="1" stop-color="#ffffff" stop-opacity="0.9"/></linearGradient>
<polygon points="883.3,1731.2 885.0,1731.2 886.7,1731.3 888.5,1731.3 890.2,1731.3 891.9,1731.3 893.7,1731.3 895.4,1731.3 897.2,1731.3 898.9,1731.3 900.6,1731.3 902.4,1731.3 904.1,1731.2 905.8,1731.2 907.6,1731.2 909.3,1731.2 911.1,1731.2 912.8,1731.2 914.5,1731.1 916.3,1731.1 918.0,1731.1 919.8,1731.0 921.5,1731.0 923.2,1731.0 925.0,1730.9 926.7,1730.8 928.4,1730.8 930.2,1730.7 931.9,1730.6 933.7,1730.5 935.4,1730.4 937.1,1730.3 938.9,1730.2 940.6,1730.1 942.3,1730.0 944.1,1729.8 945.8,1729.7 947.6,1729.5 949.3,1729.3 951.0,1729.1 952.8,1728.9 954.5,1728.7 956.3,1728.5 958.0,1728.2 959.7,1727.9 961.5,1727.7 963.2,1727.4 964.9,1727.1 966.7,1726.7 968.4,1726.4 970.2,1726.0 971.9,1725.7 973.6,1725.3 975.4,1724.9 977.1,1724.5 978.8,1724.0 980.6,1723.6 982.3,1723.1 984.1,1722.6 985.8,1722.2 987.5,1721.6 989.3,1721.1 991.0,1720.6 992.7,1720.1 994.5,1719.5 996.2,1719.0 998.0,1718.4 999.7,1717.8 1001.4,1717.3 1003.2,1716.7 1004.9,1716.1 1006.7,1715.6 1008.4,1715.0 1010.1,1714.4 1011.9,1713.9 1013.6,1713.3 1015.3,1712.8 1017.1,1712.2 1018.8,1711.7 1020.6,1711.2 1022.3,1710.7 1024.0,1710.2 1025.8,1709.8 1027.5,1709.4 1029.2,1708.9 1031.0,1708.6 1032.7,1708.2 1034.5,1707.9 1036.2,1707.6 1037.9,1707.3 1039.7,1707.1 1041.4,1706.9 1043.2,1706.7 1044.9,1706.6 1046.6,1706.5 1048.4,1706.4 1050.1,1706.4 1051.8,1706.4 1053.6,1706.4 1055.3,1706.5 1057.1,1706.6 1058.8,1706.8 1060.5,1707.0 1062.3,1707.2 1064.0,1707.5 1065.7,1707.8 1067.5,1708.1 1069.2,1708.4 1071.0,1708.8 1072.7,1709.2 1074.4,1709.7 1076.2,1710.2 1077.9,1710.7 1079.6,1711.2 1081.4,1711.7 1083.1,1712.3 1084.9,1712.9 1086.6,1713.4 1088.3,1714.1 1090.1,1714.7 1091.8,1715.3 1093.6,1715.9 1095.3,1716.6 1097.0,1717.2 1098.8,1717.9 1100.5,1718.6 1102.2,1719.2 1104.0,1719.9 1105.7,1720.5 1107.5,1721.2 1109.2,1721.8 1110.9,1722.4 1112.7,1723.1 1114.4,1723.7 1116.1,1724.3 1117.9,1724.9 1119.6,1725.5 1121.4,1726.0 1123.1,1726.6 1124.8,1727.1 1126.6,1727.7 1128.3,1728.2 1130.1,1728.7 1131.8,1729.1 1133.5,1729.6 1135.3,1730.1 1137.0,1730.5 1138.7,1730.9 1140.5,1731.3 1142.2,1731.7 1144.0,1732.0 1145.7,1732.4 1147.4,1732.7 1149.2,1733.0 1150.9,1733.3 1152.6,1733.6 1154.4,1733.9 1156.1,1734.1 1157.9,1734.4 1159.6,1734.6 1161.3,1734.8 1163.1,1735.0 1164.8,1735.2 1166.5,1735.4 1168.3,1735.6 1170.0,1735.8 1171.8,1735.9 1173.5,1736.1 1175.2,1736.2 1177.0,1736.3 1178.7,1736.4 1180.5,1736.6 1182.2,1736.7 1183.9,1736.8 1185.7,1736.9 1187.4,1736.9 1189.1,1737.0 1190.9,1737.1 1192.6,1737.2 1194.4,1737.3 1196.1,1737.3 1197.8,1737.4 1199.6,1737.4 1201.3,1737.5 1203.0,1737.5 1204.8,1737.6 1206.5,1737.6 1208.3,1737.7 1210.0,1737.7 1211.7,1737.8 1213.5,1737.8 1215.2,1737.8 1217.0,1737.9 1218.7,1737.9 1220.4,1737.9 1222.2,1738.0 1223.9,1738.0 1225.6,1738.0 1227.4,1738.1 1229.1,1738.1 1230.9,1738.1 1232.6,1738.1 1234.3,1738.2 1236.1,1738.2 1237.8,1738.2 1239.5,1738.2 1241.3,1738.3 1243.0,1738.3 1244.8,1738.3 1246.5,1738.3 1248.2,1738.3 1250.0,1738.4 1251.7,1738.4 1253.4,1738.4 1255.2,1738.4 1256.9,1738.4 1258.7,1738.4 1260.4,1738.5 1262.1,1738.5 1263.9,1738.5 1265.6,1738.5 1267.4,1738.5 1269.1,1738.5 1270.8,1738.5 1272.6,1738.6 1274.3,1738.6 1276.0,1738.6 1277.8,1738.6 1279.5,1738.6 1281.3,1738.6 1283.0,1738.6 1284.7,1738.6 1286.5,1738.7 1288.2,1738.7 1289.9,1738.7 1291.7,1738.7 1293.4,1738.7 1295.2,1738.7 1296.9,1738.7 1298.6,1738.7 1300.4,1738.7 1302.1,1738.7 1303.9,1738.8 1305.6,1738.8 1307.3,1738.8 1309.1,1738.8 1310.8,1738.8 1312.5,1738.8 1314.3,1738.8 1316.0,1738.8 1317.8,1738.8 1319.5,1738.8 1321.2,1738.8 1323.0,1738.8 1324.7,1738.8 1326.4,1738.9 1328.2,1738.9 1329.9,1738.9 1331.7,1738.9 1333.4,1738.9 1335.1,1738.9 1336.9,1738.9 1338.6,1738.9 1340.3,1738.9 1342.1,1738.9 1343.8,1738.9 1345.6,1738.9 1347.3,1738.9 1349.0,1738.9 1350.8,1738.9 1352.5,1738.9 1354.3,1738.9 1356.0,1738.9 1357.7,1738.9 1359.5,1738.9 1361.2,1738.9 1362.9,1738.9 1364.7,1738.9 1366.4,1739.0 1368.2,1739.0 1369.9,1739.0 1371.6,1739.0 1373.4,1739.0 1375.1,1739.0 1376.8,1739.0 1378.6,1739.0 1380.3,1739.0 1382.1,1739.0 1383.8,1739.0 1385.5,1739.0 1387.3,1739.0 1389.0,1739.0 1390.8,1739.0 1392.5,1739.0 1394.2,1739.0 1396.0,1739.0 1397.7,1739.0 1399.4,1739.0 1401.2,1739.0 1402.9,1739.0 1404.7,1739.0 1406.4,1739.0 1408.1,1739.0 1409.9,1739.0 1411.6,1739.0 1413.3,1739.0 1415.1,1739.0 1416.8,1739.0 1418.6,1739.0 1420.3,1739.0 1422.0,1739.0 1423.8,1739.0 1425.5,1739.0 1427.2,1739.0 1429.0,1739.0 1430.7,1739.0 1432.5,1739.0 1434.2,1739.0 1435.9,1739.0 1437.7,1739.0 1439.4,1739.0 1441.2,1739.0 1442.9,1739.0 1444.6,1739.0 1446.4,1739.0 1448.1,1739.0 1449.8,1739.0 1451.6,1739.0 1453.3,1739.0 1455.1,1739.0 1456.8,1739.0 1458.5,1739.0 1460.3,1739.0 1462.0,1739.0 1463.7,1739.0 1465.5,1739.0 1467.2,1739.0 1469.0,1739.0 1470.7,1739.0 1472.4,1739.0 1474.2,1739.0 1475.9,1739.0 1477.7,1739.0 1479.4,1739.0 1481.1,1739.0 1482.9,1739.0 1484.6,1739.0 1486.3,1739.0 1488.1,1739.0 1489.8,1739.0 1491.6,1739.0 1493.3,1739.0 1495.0,1739.0 1496.8,1739.0 1496.8,1739.0 1495.0,1739.0 1493.3,1739.0 1491.6,1739.0 1489.8,1739.0 1488.1,1739.0 1486.3,1739.0 1484.6,1739.0 1482.9,1739.0 1481.1,1739.0 1479.4,1739.0 1477.7,1739.0 1475.9,1739.0 1474.2,1739.0 1472.4,1739.0 1470.7,1739.0 1469.0,1739.0 1467.2,1739.0 1465.5,1739.0 1463.7,1739.0 1462.0,1739.0 1460.3,1739.0 1458.5,1739.0 1456.8,1739.0 1455.1,1739.0 1453.3,1739.0 1451.6,1739.0 1449.8,1739.0 1448.1,1739.0 1446.4,1739.0 1444.6,1739.0 1442.9,1739.0 1441.2,1739.0 1439.4,1739.0 1437.7,1739.0 1435.9,1739.0 1434.2,1739.0 1432.5,1739.0 1430.7,1739.0 1429.0,1739.0 1427.2,1739.0 1425.5,1739.0 1423.8,1739.0 1422.0,1739.0 1420.3,1739.0 1418.6,1739.0 1416.8,1739.0 1415.1,1739.0 1413.3,1739.0 1411.6,1739.0 1409.9,1739.0 1408.1,1739.0 1406.4,1739.0 1404.7,1739.0 1402.9,1739.0 1401.2,1739.0 1399.4,1739.0 1397.7,1739.0 1396.0,1739.0 1394.2,1739.0 1392.5,1739.0 1390.8,1739.0 1389.0,1739.0 1387.3,1739.0 1385.5,1739.0 1383.8,1739.0 1382.1,1739.0 1380.3,1739.0 1378.6,1739.0 1376.8,1739.0 1375.1,1739.0 1373.4,1739.0 1371.6,1739.0 1369.9,1739.0 1368.2,1739.0 1366.4,1739.0 1364.7,1738.9 1362.9,1738.9 1361.2,1738.9 1359.5,1738.9 1357.7,1738.9 1356.0,1738.9 1354.3,1738.9 1352.5,1738.9 1350.8,1738.9 1349.0,1738.9 1347.3,1738.9 1345.6,1738.9 1343.8,1738.9 1342.1,1738.9 1340.3,1738.9 1338.6,1738.9 1336.9,1738.9 1335.1,1738.9 1333.4,1738.9 1331.7,1738.9 1329.9,1738.9 1328.2,1738.9 1326.4,1738.9 1324.7,1738.8 1323.0,1738.8 1321.2,1738.8 1319.5,1738.8 1317.8,1738.8 1316.0,1738.8 1314.3,1738.8 1312.5,1738.8 1310.8,1738.8 1309.1,1738.8 1307.3,1738.8 1305.6,1738.8 1303.9,1738.8 1302.1,1738.7 1300.4,1738.7 1298.6,1738.7 1296.9,1738.7 1295.2,1738.7 1293.4,1738.7 1291.7,1738.7 1289.9,1738.7 1288.2,1738.7 1286.5,1738.7 1284.7,1738.6 1283.0,1738.6 1281.3,1738.6 1279.5,1738.6 1277.8,1738.6 1276.0,1738.6 1274.3,1738.6 1272.6,1738.6 1270.8,1738.5 1269.1,1738.5 1267.4,1738.5 1265.6,1738.5 1263.9,1738.5 1262.1,1738.5 1260.4,1738.5 1258.7,1738.4 1256.9,1738.4 1255.2,1738.4 1253.4,1738.4 1251.7,1738.4 1250.0,1738.4 1248.2,1738.3 1246.5,1738.3 1244.8,1738.3 1243.0,1738.3 1241.3,1738.3 1239.5,1738.2 1237.8,1738.2 1236.1,1738.2 1234.3,1738.2 1232.6,1738.2 1230.9,1738.1 1229.1,1738.1 1227.4,1738.1 1225.6,1738.1 1223.9,1738.1 1222.2,1738.0 1220.4,1738.0 1218.7,1738.0 1217.0,1738.0 1215.2,1737.9 1213.5,1737.9 1211.7,1737.9 1210.0,1737.9 1208.3,1737.8 1206.5,1737.8 1204.8,1737.8 1203.0,1737.8 1201.3,1737.7 1199.6,1737.7 1197.8,1737.7 1196.1,1737.6 1194.4,1737.6 1192.6,1737.6 1190.9,1737.5 1189.1,1737.5 1187.4,1737.5 1185.7,1737.5 1183.9,1737.4 1182.2,1737.4 1180.5,1737.4 1178.7,1737.3 1177.0,1737.3 1175.2,1737.3 1173.5,1737.2 1171.8,1737.2 1170.0,1737.2 1168.3,1737.1 1166.5,1737.1 1164.8,1737.0 1163.1,1737.0 1161.3,1737.0 1159.6,1736.9 1157.9,1736.9 1156.1,1736.9 1154.4,1736.8 1152.6,1736.8 1150.9,1736.7 1149.2,1736.7 1147.4,1736.7 1145.7,1736.6 1144.0,1736.6 1142.2,1736.6 1140.5,1736.5 1138.7,1736.5 1137.0,1736.4 1135.3,1736.4 1133.5,1736.3 1131.8,1736.3 1130.1,1736.3 1128.3,1736.2 1126.6,1736.2 1124.8,1736.1 1123.1,1736.1 1121.4,1736.0 1119.6,1736.0 1117.9,1736.0 1116.1,1735.9 1114.4,1735.9 1112.7,1735.8 1110.9,1735.8 1109.2,1735.7 1107.5,1735.7 1105.7,1735.6 1104.0,1735.6 1102.2,1735.6 1100.5,1735.5 1098.8,1735.5 1097.0,1735.4 1095.3,1735.4 1093.6,1735.3 1091.8,1735.3 1090.1,1735.2 1088.3,1735.2 1086.6,1735.1 1084.9,1735.1 1083.1,1735.1 1081.4,1735.0 1079.6,1735.0 1077.9,1734.9 1076.2,1734.9 1074.4,1734.8 1072.7,1734.8 1071.0,1734.7 1069.2,1734.7 1067.5,1734.6 1065.7,1734.6 1064.0,1734.5 1062.3,1734.5 1060.5,1734.5 1058.8,1734.4 1057.1,1734.4 1055.3,1734.3 1053.6,1734.3 1051.8,1734.2 1050.1,1734.2 1048.4,1734.1 1046.6,1734.1 1044.9,1734.0 1043.2,1734.0 1041.4,1734.0 1039.7,1733.9 1037.9,1733.9 1036.2,1733.8 1034.5,1733.8 1032.7,1733.7 1031.0,1733.7 1029.2,1733.7 1027.5,1733.6 1025.8,1733.6 1024.0,1733.5 1022.3,1733.5 1020.6,1733.4 1018.8,1733.4 1017.1,1733.4 1015.3,1733.3 1013.6,1733.3 1011.9,1733.2 1010.1,1733.2 1008.4,1733.2 1006.7,1733.1 1004.9,1733.1 1003.2,1733.0 1001.4,1733.0 999.7,1733.0 998.0,1732.9 996.2,1732.9 994.5,1732.9 992.7,1732.8 991.0,1732.8 989.3,1732.8 987.5,1732.7 985.8,1732.7 984.1,1732.6 982.3,1732.6 980.6,1732.6 978.8,1732.5 977.1,1732.5 975.4,1732.5 973.6,1732.4 971.9,1732.4 970.2,1732.4 968.4,1732.4 966.7,1732.3 964.9,1732.3 963.2,1732.3 961.5,1732.2 959.7,1732.2 958.0,1732.2 956.3,1732.1 954.5,1732.1 952.8,1732.1 951.0,1732.1 949.3,1732.0 947.6,1732.0 945.8,1732.0 944.1,1732.0 942.3,1731.9 940.6,1731.9 938.9,1731.9 937.1,1731.9 935.4,1731.8 933.7,1731.8 931.9,1731.8 930.2,1731.8 928.4,1731.7 926.7,1731.7 925.0,1731.7 923.2,1731.7 921.5,1731.7 919.8,1731.6 918.0,1731.6 916.3,1731.6 914.5,1731.6 912.8,1731.6 911.1,1731.5 909.3,1731.5 907.6,1731.5 905.8,1731.5 904.1,1731.5 902.4,1731.5 900.6,1731.4 898.9,1731.4 897.2,1731.4 895.4,1731.4 893.7,1731.4 891.9,1731.4 890.2,1731.4 888.5,1731.3 886.7,1731.3 885.0,1731.3 883.3,1731.3" fill="url(#gD2)"/>
<path d="M883.26,1729.97 L888.47,1729.70 L893.68,1728.80 L898.90,1729.90 L904.11,1729.76 L909.33,1729.51 L914.54,1730.41 L919.75,1729.48 L924.97,1729.02 L930.18,1728.40 L935.40,1729.83 L940.61,1728.94 L945.82,1729.00 L951.04,1726.66 L956.25,1726.25 L961.47,1727.03 L966.68,1723.76 L971.89,1722.69 L977.11,1722.20 L982.32,1720.90 L987.54,1720.50 L992.75,1719.21 L997.96,1716.21 L1003.18,1715.57 L1008.39,1713.42 L1013.61,1711.47 L1018.82,1710.21 L1024.03,1707.44 L1029.25,1705.90 L1034.46,1703.45 L1039.67,1702.92 L1044.89,1701.46 L1050.10,1700.77 L1055.32,1699.46 L1060.53,1699.12 L1065.75,1698.73 L1070.96,1696.10 L1076.17,1695.14 L1081.39,1694.37 L1086.60,1693.28 L1091.82,1692.50 L1097.03,1690.57 L1102.24,1687.82 L1107.46,1685.24 L1112.67,1679.84 L1117.89,1676.44 L1123.10,1670.39 L1128.31,1665.89 L1133.53,1658.15 L1138.74,1651.35 L1143.96,1645.63 L1149.17,1636.57 L1154.38,1625.60 L1159.60,1616.77 L1164.81,1605.03 L1170.03,1595.52 L1175.24,1585.06 L1180.45,1572.32 L1185.67,1560.69 L1190.88,1551.04 L1196.10,1541.25 L1201.31,1531.36 L1206.52,1521.77 L1211.74,1515.77 L1216.95,1512.62 L1222.17,1509.56 L1227.38,1509.31 L1232.59,1510.98 L1237.81,1512.90 L1243.02,1520.21 L1248.24,1526.97 L1253.45,1536.60 L1258.66,1548.00 L1263.88,1558.56 L1269.09,1572.74 L1274.31,1584.70 L1279.52,1599.46 L1284.73,1612.13 L1289.95,1625.79 L1295.16,1638.33 L1300.38,1648.64 L1305.59,1660.30 L1310.80,1671.91 L1316.02,1679.94 L1321.23,1690.09 L1326.45,1697.19 L1331.66,1702.68 L1336.87,1708.94 L1342.09,1715.20 L1347.30,1717.20 L1352.52,1722.62 L1357.73,1725.42 L1362.94,1726.57 L1368.16,1729.62 L1373.37,1731.29 L1378.59,1733.11 L1383.80,1734.09 L1389.01,1733.69 L1394.23,1735.17 L1399.44,1734.79 L1404.66,1735.76 L1409.87,1735.88 L1415.08,1734.88 L1420.30,1736.25 L1425.51,1736.20 L1430.72,1735.61 L1435.94,1737.41 L1441.15,1737.57 L1446.37,1735.80 L1451.58,1736.10 L1456.80,1737.56 L1462.01,1737.76 L1467.22,1736.46 L1472.44,1736.02 L1477.65,1737.89 L1482.87,1736.08 L1488.08,1736.29 L1493.29,1737.01" fill="none" stroke="#000" stroke-width="4.2" stroke-linejoin="round" stroke-linecap="round" />
<polyline points="883.3,1729.4 885.0,1729.4 886.7,1729.4 888.5,1729.4 890.2,1729.4 891.9,1729.4 893.7,1729.4 895.4,1729.4 897.2,1729.4 898.9,1729.4 900.6,1729.4 902.4,1729.4 904.1,1729.4 905.8,1729.4 907.6,1729.3 909.3,1729.3 911.1,1729.3 912.8,1729.3 914.5,1729.2 916.3,1729.2 918.0,1729.1 919.8,1729.1 921.5,1729.1 923.2,1729.0 925.0,1728.9 926.7,1728.9 928.4,1728.8 930.2,1728.7 931.9,1728.6 933.7,1728.5 935.4,1728.4 937.1,1728.3 938.9,1728.2 940.6,1728.0 942.3,1727.9 944.1,1727.7 945.8,1727.6 947.6,1727.4 949.3,1727.2 951.0,1727.0 952.8,1726.8 954.5,1726.6 956.3,1726.3 958.0,1726.1 959.7,1725.8 961.5,1725.5 963.2,1725.2 964.9,1724.9 966.7,1724.5 968.4,1724.2 970.2,1723.8 971.9,1723.4 973.6,1723.0 975.4,1722.6 977.1,1722.2 978.8,1721.7 980.6,1721.3 982.3,1720.8 984.1,1720.3 985.8,1719.8 987.5,1719.3 989.3,1718.7 991.0,1718.2 992.7,1717.6 994.5,1717.0 996.2,1716.5 998.0,1715.9 999.7,1715.3 1001.4,1714.7 1003.2,1714.1 1004.9,1713.5 1006.7,1712.9 1008.4,1712.2 1010.1,1711.6 1011.9,1711.0 1013.6,1710.4 1015.3,1709.8 1017.1,1709.2 1018.8,1708.6 1020.6,1708.1 1022.3,1707.5 1024.0,1706.9 1025.8,1706.4 1027.5,1705.9 1029.2,1705.3 1031.0,1704.8 1032.7,1704.4 1034.5,1703.9 1036.2,1703.4 1037.9,1703.0 1039.7,1702.6 1041.4,1702.2 1043.2,1701.8 1044.9,1701.4 1046.6,1701.0 1048.4,1700.7 1050.1,1700.4 1051.8,1700.0 1053.6,1699.7 1055.3,1699.4 1057.1,1699.2 1058.8,1698.9 1060.5,1698.6 1062.3,1698.3 1064.0,1698.1 1065.7,1697.8 1067.5,1697.5 1069.2,1697.2 1071.0,1696.9 1072.7,1696.6 1074.4,1696.3 1076.2,1695.9 1077.9,1695.6 1079.6,1695.2 1081.4,1694.8 1083.1,1694.4 1084.9,1693.9 1086.6,1693.4 1088.3,1692.8 1090.1,1692.3 1091.8,1691.6 1093.6,1691.0 1095.3,1690.3 1097.0,1689.5 1098.8,1688.7 1100.5,1687.8 1102.2,1686.9 1104.0,1685.9 1105.7,1684.9 1107.5,1683.8 1109.2,1682.6 1110.9,1681.4 1112.7,1680.1 1114.4,1678.7 1116.1,1677.3 1117.9,1675.8 1119.6,1674.2 1121.4,1672.6 1123.1,1670.8 1124.8,1669.0 1126.6,1667.2 1128.3,1665.2 1130.1,1663.2 1131.8,1661.1 1133.5,1658.9 1135.3,1656.6 1137.0,1654.2 1138.7,1651.8 1140.5,1649.3 1142.2,1646.7 1144.0,1644.0 1145.7,1641.2 1147.4,1638.4 1149.2,1635.4 1150.9,1632.4 1152.6,1629.4 1154.4,1626.2 1156.1,1623.0 1157.9,1619.7 1159.6,1616.3 1161.3,1612.9 1163.1,1609.4 1164.8,1605.8 1166.5,1602.2 1168.3,1598.5 1170.0,1594.9 1171.8,1591.1 1173.5,1587.4 1175.2,1583.6 1177.0,1579.8 1178.7,1576.0 1180.5,1572.2 1182.2,1568.4 1183.9,1564.7 1185.7,1561.0 1187.4,1557.3 1189.1,1553.6 1190.9,1550.1 1192.6,1546.6 1194.4,1543.1 1196.1,1539.8 1197.8,1536.6 1199.6,1533.5 1201.3,1530.5 1203.0,1527.7 1204.8,1525.0 1206.5,1522.5 1208.3,1520.1 1210.0,1518.0 1211.7,1516.0 1213.5,1514.2 1215.2,1512.6 1217.0,1511.3 1218.7,1510.1 1220.4,1509.2 1222.2,1508.5 1223.9,1508.1 1225.6,1507.9 1227.4,1507.9 1229.1,1508.2 1230.9,1508.7 1232.6,1509.5 1234.3,1510.5 1236.1,1511.7 1237.8,1513.2 1239.5,1514.9 1241.3,1516.9 1243.0,1519.0 1244.8,1521.4 1246.5,1523.9 1248.2,1526.7 1250.0,1529.7 1251.7,1532.8 1253.4,1536.1 1255.2,1539.5 1256.9,1543.1 1258.7,1546.8 1260.4,1550.7 1262.1,1554.7 1263.9,1558.7 1265.6,1562.9 1267.4,1567.1 1269.1,1571.4 1270.8,1575.8 1272.6,1580.2 1274.3,1584.6 1276.0,1589.1 1277.8,1593.6 1279.5,1598.1 1281.3,1602.6 1283.0,1607.1 1284.7,1611.5 1286.5,1616.0 1288.2,1620.3 1289.9,1624.7 1291.7,1629.0 1293.4,1633.2 1295.2,1637.4 1296.9,1641.4 1298.6,1645.5 1300.4,1649.4 1302.1,1653.2 1303.9,1657.0 1305.6,1660.6 1307.3,1664.2 1309.1,1667.7 1310.8,1671.0 1312.5,1674.3 1314.3,1677.4 1316.0,1680.5 1317.8,1683.4 1319.5,1686.2 1321.2,1689.0 1323.0,1691.6 1324.7,1694.1 1326.4,1696.5 1328.2,1698.8 1329.9,1701.0 1331.7,1703.1 1333.4,1705.1 1335.1,1707.1 1336.9,1708.9 1338.6,1710.6 1340.3,1712.3 1342.1,1713.8 1343.8,1715.3 1345.6,1716.7 1347.3,1718.0 1349.0,1719.2 1350.8,1720.4 1352.5,1721.5 1354.3,1722.5 1356.0,1723.5 1357.7,1724.4 1359.5,1725.3 1361.2,1726.1 1362.9,1726.8 1364.7,1727.5 1366.4,1728.2 1368.2,1728.8 1369.9,1729.4 1371.6,1729.9 1373.4,1730.4 1375.1,1730.8 1376.8,1731.3 1378.6,1731.7 1380.3,1732.0 1382.1,1732.4 1383.8,1732.7 1385.5,1733.0 1387.3,1733.2 1389.0,1733.5 1390.8,1733.7 1392.5,1733.9 1394.2,1734.1 1396.0,1734.3 1397.7,1734.5 1399.4,1734.6 1401.2,1734.8 1402.9,1734.9 1404.7,1735.0 1406.4,1735.1 1408.1,1735.3 1409.9,1735.4 1411.6,1735.4 1413.3,1735.5 1415.1,1735.6 1416.8,1735.7 1418.6,1735.7 1420.3,1735.8 1422.0,1735.9 1423.8,1735.9 1425.5,1736.0 1427.2,1736.0 1429.0,1736.1 1430.7,1736.1 1432.5,1736.1 1434.2,1736.2 1435.9,1736.2 1437.7,1736.3 1439.4,1736.3 1441.2,1736.3 1442.9,1736.3 1444.6,1736.4 1446.4,1736.4 1448.1,1736.4 1449.8,1736.4 1451.6,1736.5 1453.3,1736.5 1455.1,1736.5 1456.8,1736.5 1458.5,1736.6 1460.3,1736.6 1462.0,1736.6 1463.7,1736.6 1465.5,1736.6 1467.2,1736.6 1469.0,1736.7 1470.7,1736.7 1472.4,1736.7 1474.2,1736.7 1475.9,1736.7 1477.7,1736.7 1479.4,1736.8 1481.1,1736.8 1482.9,1736.8 1484.6,1736.8 1486.3,1736.8 1488.1,1736.8 1489.8,1736.8 1491.6,1736.8 1493.3,1736.9 1495.0,1736.9 1496.8,1736.9" fill="none" stroke="#FF0000" stroke-width="5" stroke-linejoin="round"/>
<polyline points="883.3,1731.3 885.0,1731.3 886.7,1731.3 888.5,1731.3 890.2,1731.4 891.9,1731.4 893.7,1731.4 895.4,1731.4 897.2,1731.4 898.9,1731.4 900.6,1731.4 902.4,1731.5 904.1,1731.5 905.8,1731.5 907.6,1731.5 909.3,1731.5 911.1,1731.5 912.8,1731.6 914.5,1731.6 916.3,1731.6 918.0,1731.6 919.8,1731.6 921.5,1731.7 923.2,1731.7 925.0,1731.7 926.7,1731.7 928.4,1731.7 930.2,1731.8 931.9,1731.8 933.7,1731.8 935.4,1731.8 937.1,1731.9 938.9,1731.9 940.6,1731.9 942.3,1731.9 944.1,1732.0 945.8,1732.0 947.6,1732.0 949.3,1732.0 951.0,1732.1 952.8,1732.1 954.5,1732.1 956.3,1732.1 958.0,1732.2 959.7,1732.2 961.5,1732.2 963.2,1732.3 964.9,1732.3 966.7,1732.3 968.4,1732.4 970.2,1732.4 971.9,1732.4 973.6,1732.4 975.4,1732.5 977.1,1732.5 978.8,1732.5 980.6,1732.6 982.3,1732.6 984.1,1732.6 985.8,1732.7 987.5,1732.7 989.3,1732.8 991.0,1732.8 992.7,1732.8 994.5,1732.9 996.2,1732.9 998.0,1732.9 999.7,1733.0 1001.4,1733.0 1003.2,1733.0 1004.9,1733.1 1006.7,1733.1 1008.4,1733.2 1010.1,1733.2 1011.9,1733.2 1013.6,1733.3 1015.3,1733.3 1017.1,1733.4 1018.8,1733.4 1020.6,1733.4 1022.3,1733.5 1024.0,1733.5 1025.8,1733.6 1027.5,1733.6 1029.2,1733.7 1031.0,1733.7 1032.7,1733.7 1034.5,1733.8 1036.2,1733.8 1037.9,1733.9 1039.7,1733.9 1041.4,1734.0 1043.2,1734.0 1044.9,1734.0 1046.6,1734.1 1048.4,1734.1 1050.1,1734.2 1051.8,1734.2 1053.6,1734.3 1055.3,1734.3 1057.1,1734.4 1058.8,1734.4 1060.5,1734.5 1062.3,1734.5 1064.0,1734.5 1065.7,1734.6 1067.5,1734.6 1069.2,1734.7 1071.0,1734.7 1072.7,1734.8 1074.4,1734.8 1076.2,1734.9 1077.9,1734.9 1079.6,1735.0 1081.4,1735.0 1083.1,1735.1 1084.9,1735.1 1086.6,1735.1 1088.3,1735.2 1090.1,1735.2 1091.8,1735.3 1093.6,1735.3 1095.3,1735.4 1097.0,1735.4 1098.8,1735.5 1100.5,1735.5 1102.2,1735.6 1104.0,1735.6 1105.7,1735.6 1107.5,1735.7 1109.2,1735.7 1110.9,1735.8 1112.7,1735.8 1114.4,1735.9 1116.1,1735.9 1117.9,1736.0 1119.6,1736.0 1121.4,1736.0 1123.1,1736.1 1124.8,1736.1 1126.6,1736.2 1128.3,1736.2 1130.1,1736.3 1131.8,1736.3 1133.5,1736.3 1135.3,1736.4 1137.0,1736.4 1138.7,1736.5 1140.5,1736.5 1142.2,1736.6 1144.0,1736.6 1145.7,1736.6 1147.4,1736.7 1149.2,1736.7 1150.9,1736.7 1152.6,1736.8 1154.4,1736.8 1156.1,1736.9 1157.9,1736.9 1159.6,1736.9 1161.3,1737.0 1163.1,1737.0 1164.8,1737.0 1166.5,1737.1 1168.3,1737.1 1170.0,1737.2 1171.8,1737.2 1173.5,1737.2 1175.2,1737.3 1177.0,1737.3 1178.7,1737.3 1180.5,1737.4 1182.2,1737.4 1183.9,1737.4 1185.7,1737.5 1187.4,1737.5 1189.1,1737.5 1190.9,1737.5 1192.6,1737.6 1194.4,1737.6 1196.1,1737.6 1197.8,1737.7 1199.6,1737.7 1201.3,1737.7 1203.0,1737.8 1204.8,1737.8 1206.5,1737.8 1208.3,1737.8 1210.0,1737.9 1211.7,1737.9 1213.5,1737.9 1215.2,1737.9 1217.0,1738.0 1218.7,1738.0 1220.4,1738.0 1222.2,1738.0 1223.9,1738.1 1225.6,1738.1 1227.4,1738.1 1229.1,1738.1 1230.9,1738.1 1232.6,1738.2 1234.3,1738.2 1236.1,1738.2 1237.8,1738.2 1239.5,1738.2 1241.3,1738.3 1243.0,1738.3 1244.8,1738.3 1246.5,1738.3 1248.2,1738.3 1250.0,1738.4 1251.7,1738.4 1253.4,1738.4 1255.2,1738.4 1256.9,1738.4 1258.7,1738.4 1260.4,1738.5 1262.1,1738.5 1263.9,1738.5 1265.6,1738.5 1267.4,1738.5 1269.1,1738.5 1270.8,1738.5 1272.6,1738.6 1274.3,1738.6 1276.0,1738.6 1277.8,1738.6 1279.5,1738.6 1281.3,1738.6 1283.0,1738.6 1284.7,1738.6 1286.5,1738.7 1288.2,1738.7 1289.9,1738.7 1291.7,1738.7 1293.4,1738.7 1295.2,1738.7 1296.9,1738.7 1298.6,1738.7 1300.4,1738.7 1302.1,1738.7 1303.9,1738.8 1305.6,1738.8 1307.3,1738.8 1309.1,1738.8 1310.8,1738.8 1312.5,1738.8 1314.3,1738.8 1316.0,1738.8 1317.8,1738.8 1319.5,1738.8 1321.2,1738.8 1323.0,1738.8 1324.7,1738.8 1326.4,1738.9 1328.2,1738.9 1329.9,1738.9 1331.7,1738.9 1333.4,1738.9 1335.1,1738.9 1336.9,1738.9 1338.6,1738.9 1340.3,1738.9 1342.1,1738.9 1343.8,1738.9 1345.6,1738.9 1347.3,1738.9 1349.0,1738.9 1350.8,1738.9 1352.5,1738.9 1354.3,1738.9 1356.0,1738.9 1357.7,1738.9 1359.5,1738.9 1361.2,1738.9 1362.9,1738.9 1364.7,1738.9 1366.4,1739.0 1368.2,1739.0 1369.9,1739.0 1371.6,1739.0 1373.4,1739.0 1375.1,1739.0 1376.8,1739.0 1378.6,1739.0 1380.3,1739.0 1382.1,1739.0 1383.8,1739.0 1385.5,1739.0 1387.3,1739.0 1389.0,1739.0 1390.8,1739.0 1392.5,1739.0 1394.2,1739.0 1396.0,1739.0 1397.7,1739.0 1399.4,1739.0 1401.2,1739.0 1402.9,1739.0 1404.7,1739.0 1406.4,1739.0 1408.1,1739.0 1409.9,1739.0 1411.6,1739.0 1413.3,1739.0 1415.1,1739.0 1416.8,1739.0 1418.6,1739.0 1420.3,1739.0 1422.0,1739.0 1423.8,1739.0 1425.5,1739.0 1427.2,1739.0 1429.0,1739.0 1430.7,1739.0 1432.5,1739.0 1434.2,1739.0 1435.9,1739.0 1437.7,1739.0 1439.4,1739.0 1441.2,1739.0 1442.9,1739.0 1444.6,1739.0 1446.4,1739.0 1448.1,1739.0 1449.8,1739.0 1451.6,1739.0 1453.3,1739.0 1455.1,1739.0 1456.8,1739.0 1458.5,1739.0 1460.3,1739.0 1462.0,1739.0 1463.7,1739.0 1465.5,1739.0 1467.2,1739.0 1469.0,1739.0 1470.7,1739.0 1472.4,1739.0 1474.2,1739.0 1475.9,1739.0 1477.7,1739.0 1479.4,1739.0 1481.1,1739.0 1482.9,1739.0 1484.6,1739.0 1486.3,1739.0 1488.1,1739.0 1489.8,1739.0 1491.6,1739.0 1493.3,1739.0 1495.0,1739.0 1496.8,1739.0" fill="none" stroke="#5A1580" stroke-width="3"/>
<polyline points="883.3,1730.7 885.0,1730.7 886.7,1730.7 888.5,1730.7 890.2,1730.8 891.9,1730.8 893.7,1730.8 895.4,1730.8 897.2,1730.8 898.9,1730.8 900.6,1730.8 902.4,1730.8 904.1,1730.8 905.8,1730.8 907.6,1730.8 909.3,1730.9 911.1,1730.9 912.8,1730.9 914.5,1730.9 916.3,1730.9 918.0,1730.9 919.8,1730.9 921.5,1730.9 923.2,1731.0 925.0,1731.0 926.7,1731.0 928.4,1731.0 930.2,1731.0 931.9,1731.0 933.7,1731.0 935.4,1731.0 937.1,1731.1 938.9,1731.1 940.6,1731.1 942.3,1731.1 944.1,1731.1 945.8,1731.1 947.6,1731.2 949.3,1731.2 951.0,1731.2 952.8,1731.2 954.5,1731.2 956.3,1731.2 958.0,1731.3 959.7,1731.3 961.5,1731.3 963.2,1731.3 964.9,1731.3 966.7,1731.3 968.4,1731.4 970.2,1731.4 971.9,1731.4 973.6,1731.4 975.4,1731.4 977.1,1731.5 978.8,1731.5 980.6,1731.5 982.3,1731.5 984.1,1731.5 985.8,1731.5 987.5,1731.6 989.3,1731.6 991.0,1731.6 992.7,1731.6 994.5,1731.6 996.2,1731.7 998.0,1731.7 999.7,1731.7 1001.4,1731.7 1003.2,1731.7 1004.9,1731.7 1006.7,1731.8 1008.4,1731.8 1010.1,1731.8 1011.9,1731.8 1013.6,1731.8 1015.3,1731.8 1017.1,1731.8 1018.8,1731.8 1020.6,1731.8 1022.3,1731.8 1024.0,1731.8 1025.8,1731.8 1027.5,1731.8 1029.2,1731.8 1031.0,1731.8 1032.7,1731.8 1034.5,1731.8 1036.2,1731.8 1037.9,1731.8 1039.7,1731.7 1041.4,1731.7 1043.2,1731.7 1044.9,1731.6 1046.6,1731.6 1048.4,1731.5 1050.1,1731.4 1051.8,1731.4 1053.6,1731.3 1055.3,1731.2 1057.1,1731.1 1058.8,1731.0 1060.5,1730.8 1062.3,1730.7 1064.0,1730.5 1065.7,1730.3 1067.5,1730.1 1069.2,1729.9 1071.0,1729.7 1072.7,1729.4 1074.4,1729.1 1076.2,1728.8 1077.9,1728.4 1079.6,1728.1 1081.4,1727.6 1083.1,1727.2 1084.9,1726.7 1086.6,1726.2 1088.3,1725.6 1090.1,1725.0 1091.8,1724.4 1093.6,1723.7 1095.3,1722.9 1097.0,1722.1 1098.8,1721.3 1100.5,1720.3 1102.2,1719.4 1104.0,1718.3 1105.7,1717.2 1107.5,1716.0 1109.2,1714.7 1110.9,1713.4 1112.7,1712.0 1114.4,1710.5 1116.1,1708.9 1117.9,1707.2 1119.6,1705.4 1121.4,1703.5 1123.1,1701.6 1124.8,1699.5 1126.6,1697.4 1128.3,1695.1 1130.1,1692.7 1131.8,1690.3 1133.5,1687.7 1135.3,1685.0 1137.0,1682.3 1138.7,1679.4 1140.5,1676.4 1142.2,1673.3 1144.0,1670.1 1145.7,1666.7 1147.4,1663.3 1149.2,1659.8 1150.9,1656.2 1152.6,1652.5 1154.4,1648.7 1156.1,1644.8 1157.9,1640.9 1159.6,1636.8 1161.3,1632.7 1163.1,1628.5 1164.8,1624.3 1166.5,1620.0 1168.3,1615.7 1170.0,1611.3 1171.8,1606.9 1173.5,1602.4 1175.2,1598.0 1177.0,1593.6 1178.7,1589.1 1180.5,1584.7 1182.2,1580.3 1183.9,1575.9 1185.7,1571.6 1187.4,1567.4 1189.1,1563.2 1190.9,1559.1 1192.6,1555.1 1194.4,1551.2 1196.1,1547.4 1197.8,1543.7 1199.6,1540.2 1201.3,1536.8 1203.0,1533.6 1204.8,1530.6 1206.5,1527.7 1208.3,1525.0 1210.0,1522.6 1211.7,1520.3 1213.5,1518.2 1215.2,1516.4 1217.0,1514.8 1218.7,1513.5 1220.4,1512.4 1222.2,1511.5 1223.9,1510.9 1225.6,1510.5 1227.4,1510.4 1229.1,1510.6 1230.9,1511.0 1232.6,1511.6 1234.3,1512.5 1236.1,1513.7 1237.8,1515.1 1239.5,1516.7 1241.3,1518.6 1243.0,1520.7 1244.8,1523.0 1246.5,1525.5 1248.2,1528.2 1250.0,1531.2 1251.7,1534.2 1253.4,1537.5 1255.2,1540.9 1256.9,1544.5 1258.7,1548.2 1260.4,1552.0 1262.1,1556.0 1263.9,1560.0 1265.6,1564.2 1267.4,1568.4 1269.1,1572.7 1270.8,1577.1 1272.6,1581.5 1274.3,1585.9 1276.0,1590.4 1277.8,1594.9 1279.5,1599.4 1281.3,1603.8 1283.0,1608.3 1284.7,1612.8 1286.5,1617.2 1288.2,1621.6 1289.9,1625.9 1291.7,1630.2 1293.4,1634.4 1295.2,1638.6 1296.9,1642.7 1298.6,1646.7 1300.4,1650.6 1302.1,1654.5 1303.9,1658.2 1305.6,1661.9 1307.3,1665.4 1309.1,1668.9 1310.8,1672.2 1312.5,1675.5 1314.3,1678.7 1316.0,1681.7 1317.8,1684.6 1319.5,1687.5 1321.2,1690.2 1323.0,1692.8 1324.7,1695.3 1326.4,1697.7 1328.2,1700.1 1329.9,1702.3 1331.7,1704.4 1333.4,1706.4 1335.1,1708.3 1336.9,1710.1 1338.6,1711.8 1340.3,1713.5 1342.1,1715.0 1343.8,1716.5 1345.6,1717.9 1347.3,1719.2 1349.0,1720.5 1350.8,1721.6 1352.5,1722.7 1354.3,1723.8 1356.0,1724.7 1357.7,1725.6 1359.5,1726.5 1361.2,1727.3 1362.9,1728.1 1364.7,1728.8 1366.4,1729.4 1368.2,1730.0 1369.9,1730.6 1371.6,1731.1 1373.4,1731.6 1375.1,1732.1 1376.8,1732.5 1378.6,1732.9 1380.3,1733.3 1382.1,1733.6 1383.8,1733.9 1385.5,1734.2 1387.3,1734.5 1389.0,1734.7 1390.8,1734.9 1392.5,1735.2 1394.2,1735.4 1396.0,1735.5 1397.7,1735.7 1399.4,1735.9 1401.2,1736.0 1402.9,1736.1 1404.7,1736.3 1406.4,1736.4 1408.1,1736.5 1409.9,1736.6 1411.6,1736.7 1413.3,1736.8 1415.1,1736.8 1416.8,1736.9 1418.6,1737.0 1420.3,1737.0 1422.0,1737.1 1423.8,1737.1 1425.5,1737.2 1427.2,1737.2 1429.0,1737.3 1430.7,1737.3 1432.5,1737.4 1434.2,1737.4 1435.9,1737.4 1437.7,1737.5 1439.4,1737.5 1441.2,1737.5 1442.9,1737.6 1444.6,1737.6 1446.4,1737.6 1448.1,1737.6 1449.8,1737.7 1451.6,1737.7 1453.3,1737.7 1455.1,1737.7 1456.8,1737.8 1458.5,1737.8 1460.3,1737.8 1462.0,1737.8 1463.7,1737.8 1465.5,1737.9 1467.2,1737.9 1469.0,1737.9 1470.7,1737.9 1472.4,1737.9 1474.2,1737.9 1475.9,1738.0 1477.7,1738.0 1479.4,1738.0 1481.1,1738.0 1482.9,1738.0 1484.6,1738.0 1486.3,1738.0 1488.1,1738.0 1489.8,1738.1 1491.6,1738.1 1493.3,1738.1 1495.0,1738.1 1496.8,1738.1" fill="none" stroke="#2E4BF0" stroke-width="3.6" stroke-linejoin="round"/>
<polyline points="883.3,1731.2 885.0,1731.2 886.7,1731.3 888.5,1731.3 890.2,1731.3 891.9,1731.3 893.7,1731.3 895.4,1731.3 897.2,1731.3 898.9,1731.3 900.6,1731.3 902.4,1731.3 904.1,1731.2 905.8,1731.2 907.6,1731.2 909.3,1731.2 911.1,1731.2 912.8,1731.2 914.5,1731.1 916.3,1731.1 918.0,1731.1 919.8,1731.0 921.5,1731.0 923.2,1731.0 925.0,1730.9 926.7,1730.8 928.4,1730.8 930.2,1730.7 931.9,1730.6 933.7,1730.5 935.4,1730.4 937.1,1730.3 938.9,1730.2 940.6,1730.1 942.3,1730.0 944.1,1729.8 945.8,1729.7 947.6,1729.5 949.3,1729.3 951.0,1729.1 952.8,1728.9 954.5,1728.7 956.3,1728.5 958.0,1728.2 959.7,1727.9 961.5,1727.7 963.2,1727.4 964.9,1727.1 966.7,1726.7 968.4,1726.4 970.2,1726.0 971.9,1725.7 973.6,1725.3 975.4,1724.9 977.1,1724.5 978.8,1724.0 980.6,1723.6 982.3,1723.1 984.1,1722.6 985.8,1722.2 987.5,1721.6 989.3,1721.1 991.0,1720.6 992.7,1720.1 994.5,1719.5 996.2,1719.0 998.0,1718.4 999.7,1717.8 1001.4,1717.3 1003.2,1716.7 1004.9,1716.1 1006.7,1715.6 1008.4,1715.0 1010.1,1714.4 1011.9,1713.9 1013.6,1713.3 1015.3,1712.8 1017.1,1712.2 1018.8,1711.7 1020.6,1711.2 1022.3,1710.7 1024.0,1710.2 1025.8,1709.8 1027.5,1709.4 1029.2,1708.9 1031.0,1708.6 1032.7,1708.2 1034.5,1707.9 1036.2,1707.6 1037.9,1707.3 1039.7,1707.1 1041.4,1706.9 1043.2,1706.7 1044.9,1706.6 1046.6,1706.5 1048.4,1706.4 1050.1,1706.4 1051.8,1706.4 1053.6,1706.4 1055.3,1706.5 1057.1,1706.6 1058.8,1706.8 1060.5,1707.0 1062.3,1707.2 1064.0,1707.5 1065.7,1707.8 1067.5,1708.1 1069.2,1708.4 1071.0,1708.8 1072.7,1709.2 1074.4,1709.7 1076.2,1710.2 1077.9,1710.7 1079.6,1711.2 1081.4,1711.7 1083.1,1712.3 1084.9,1712.9 1086.6,1713.4 1088.3,1714.1 1090.1,1714.7 1091.8,1715.3 1093.6,1715.9 1095.3,1716.6 1097.0,1717.2 1098.8,1717.9 1100.5,1718.6 1102.2,1719.2 1104.0,1719.9 1105.7,1720.5 1107.5,1721.2 1109.2,1721.8 1110.9,1722.4 1112.7,1723.1 1114.4,1723.7 1116.1,1724.3 1117.9,1724.9 1119.6,1725.5 1121.4,1726.0 1123.1,1726.6 1124.8,1727.1 1126.6,1727.7 1128.3,1728.2 1130.1,1728.7 1131.8,1729.1 1133.5,1729.6 1135.3,1730.1 1137.0,1730.5 1138.7,1730.9 1140.5,1731.3 1142.2,1731.7 1144.0,1732.0 1145.7,1732.4 1147.4,1732.7 1149.2,1733.0 1150.9,1733.3 1152.6,1733.6 1154.4,1733.9 1156.1,1734.1 1157.9,1734.4 1159.6,1734.6 1161.3,1734.8 1163.1,1735.0 1164.8,1735.2 1166.5,1735.4 1168.3,1735.6 1170.0,1735.8 1171.8,1735.9 1173.5,1736.1 1175.2,1736.2 1177.0,1736.3 1178.7,1736.4 1180.5,1736.6 1182.2,1736.7 1183.9,1736.8 1185.7,1736.9 1187.4,1736.9 1189.1,1737.0 1190.9,1737.1 1192.6,1737.2 1194.4,1737.3 1196.1,1737.3 1197.8,1737.4 1199.6,1737.4 1201.3,1737.5 1203.0,1737.5 1204.8,1737.6 1206.5,1737.6 1208.3,1737.7 1210.0,1737.7 1211.7,1737.8 1213.5,1737.8 1215.2,1737.8 1217.0,1737.9 1218.7,1737.9 1220.4,1737.9 1222.2,1738.0 1223.9,1738.0 1225.6,1738.0 1227.4,1738.1 1229.1,1738.1 1230.9,1738.1 1232.6,1738.1 1234.3,1738.2 1236.1,1738.2 1237.8,1738.2 1239.5,1738.2 1241.3,1738.3 1243.0,1738.3 1244.8,1738.3 1246.5,1738.3 1248.2,1738.3 1250.0,1738.4 1251.7,1738.4 1253.4,1738.4 1255.2,1738.4 1256.9,1738.4 1258.7,1738.4 1260.4,1738.5 1262.1,1738.5 1263.9,1738.5 1265.6,1738.5 1267.4,1738.5 1269.1,1738.5 1270.8,1738.5 1272.6,1738.6 1274.3,1738.6 1276.0,1738.6 1277.8,1738.6 1279.5,1738.6 1281.3,1738.6 1283.0,1738.6 1284.7,1738.6 1286.5,1738.7 1288.2,1738.7 1289.9,1738.7 1291.7,1738.7 1293.4,1738.7 1295.2,1738.7 1296.9,1738.7 1298.6,1738.7 1300.4,1738.7 1302.1,1738.7 1303.9,1738.8 1305.6,1738.8 1307.3,1738.8 1309.1,1738.8 1310.8,1738.8 1312.5,1738.8 1314.3,1738.8 1316.0,1738.8 1317.8,1738.8 1319.5,1738.8 1321.2,1738.8 1323.0,1738.8 1324.7,1738.8 1326.4,1738.9 1328.2,1738.9 1329.9,1738.9 1331.7,1738.9 1333.4,1738.9 1335.1,1738.9 1336.9,1738.9 1338.6,1738.9 1340.3,1738.9 1342.1,1738.9 1343.8,1738.9 1345.6,1738.9 1347.3,1738.9 1349.0,1738.9 1350.8,1738.9 1352.5,1738.9 1354.3,1738.9 1356.0,1738.9 1357.7,1738.9 1359.5,1738.9 1361.2,1738.9 1362.9,1738.9 1364.7,1738.9 1366.4,1739.0 1368.2,1739.0 1369.9,1739.0 1371.6,1739.0 1373.4,1739.0 1375.1,1739.0 1376.8,1739.0 1378.6,1739.0 1380.3,1739.0 1382.1,1739.0 1383.8,1739.0 1385.5,1739.0 1387.3,1739.0 1389.0,1739.0 1390.8,1739.0 1392.5,1739.0 1394.2,1739.0 1396.0,1739.0 1397.7,1739.0 1399.4,1739.0 1401.2,1739.0 1402.9,1739.0 1404.7,1739.0 1406.4,1739.0 1408.1,1739.0 1409.9,1739.0 1411.6,1739.0 1413.3,1739.0 1415.1,1739.0 1416.8,1739.0 1418.6,1739.0 1420.3,1739.0 1422.0,1739.0 1423.8,1739.0 1425.5,1739.0 1427.2,1739.0 1429.0,1739.0 1430.7,1739.0 1432.5,1739.0 1434.2,1739.0 1435.9,1739.0 1437.7,1739.0 1439.4,1739.0 1441.2,1739.0 1442.9,1739.0 1444.6,1739.0 1446.4,1739.0 1448.1,1739.0 1449.8,1739.0 1451.6,1739.0 1453.3,1739.0 1455.1,1739.0 1456.8,1739.0 1458.5,1739.0 1460.3,1739.0 1462.0,1739.0 1463.7,1739.0 1465.5,1739.0 1467.2,1739.0 1469.0,1739.0 1470.7,1739.0 1472.4,1739.0 1474.2,1739.0 1475.9,1739.0 1477.7,1739.0 1479.4,1739.0 1481.1,1739.0 1482.9,1739.0 1484.6,1739.0 1486.3,1739.0 1488.1,1739.0 1489.8,1739.0 1491.6,1739.0 1493.3,1739.0 1495.0,1739.0 1496.8,1739.0" fill="none" stroke="#178A60" stroke-width="3.6" stroke-linejoin="round"/>
<polyline points="883.3,1731.3 885.0,1731.3 886.7,1731.3 888.5,1731.3 890.2,1731.4 891.9,1731.4 893.7,1731.4 895.4,1731.4 897.2,1731.4 898.9,1731.4 900.6,1731.4 902.4,1731.5 904.1,1731.5 905.8,1731.5 907.6,1731.5 909.3,1731.5 911.1,1731.5 912.8,1731.6 914.5,1731.6 916.3,1731.6 918.0,1731.6 919.8,1731.6 921.5,1731.7 923.2,1731.7 925.0,1731.7 926.7,1731.7 928.4,1731.7 930.2,1731.8 931.9,1731.8 933.7,1731.8 935.4,1731.8 937.1,1731.9 938.9,1731.9 940.6,1731.9 942.3,1731.9 944.1,1732.0 945.8,1732.0 947.6,1732.0 949.3,1732.0 951.0,1732.1 952.8,1732.1 954.5,1732.1 956.3,1732.1 958.0,1732.2 959.7,1732.2 961.5,1732.2 963.2,1732.3 964.9,1732.3 966.7,1732.3 968.4,1732.3 970.2,1732.4 971.9,1732.4 973.6,1732.4 975.4,1732.5 977.1,1732.5 978.8,1732.5 980.6,1732.6 982.3,1732.6 984.1,1732.6 985.8,1732.7 987.5,1732.7 989.3,1732.7 991.0,1732.8 992.7,1732.8 994.5,1732.8 996.2,1732.9 998.0,1732.9 999.7,1732.9 1001.4,1732.9 1003.2,1733.0 1004.9,1733.0 1006.7,1733.0 1008.4,1733.0 1010.1,1733.1 1011.9,1733.1 1013.6,1733.1 1015.3,1733.1 1017.1,1733.1 1018.8,1733.1 1020.6,1733.1 1022.3,1733.1 1024.0,1733.1 1025.8,1733.1 1027.5,1733.1 1029.2,1733.1 1031.0,1733.1 1032.7,1733.0 1034.5,1733.0 1036.2,1732.9 1037.9,1732.9 1039.7,1732.8 1041.4,1732.7 1043.2,1732.6 1044.9,1732.5 1046.6,1732.4 1048.4,1732.3 1050.1,1732.1 1051.8,1732.0 1053.6,1731.8 1055.3,1731.6 1057.1,1731.4 1058.8,1731.2 1060.5,1730.9 1062.3,1730.7 1064.0,1730.4 1065.7,1730.1 1067.5,1729.8 1069.2,1729.5 1071.0,1729.1 1072.7,1728.8 1074.4,1728.4 1076.2,1728.0 1077.9,1727.5 1079.6,1727.1 1081.4,1726.7 1083.1,1726.2 1084.9,1725.7 1086.6,1725.2 1088.3,1724.7 1090.1,1724.2 1091.8,1723.7 1093.6,1723.2 1095.3,1722.7 1097.0,1722.2 1098.8,1721.7 1100.5,1721.2 1102.2,1720.7 1104.0,1720.2 1105.7,1719.7 1107.5,1719.2 1109.2,1718.8 1110.9,1718.3 1112.7,1717.9 1114.4,1717.5 1116.1,1717.2 1117.9,1716.9 1119.6,1716.6 1121.4,1716.3 1123.1,1716.1 1124.8,1715.9 1126.6,1715.7 1128.3,1715.6 1130.1,1715.5 1131.8,1715.5 1133.5,1715.5 1135.3,1715.5 1137.0,1715.6 1138.7,1715.7 1140.5,1715.9 1142.2,1716.1 1144.0,1716.3 1145.7,1716.6 1147.4,1716.9 1149.2,1717.3 1150.9,1717.6 1152.6,1718.1 1154.4,1718.5 1156.1,1719.0 1157.9,1719.5 1159.6,1720.0 1161.3,1720.5 1163.1,1721.0 1164.8,1721.6 1166.5,1722.2 1168.3,1722.8 1170.0,1723.4 1171.8,1724.0 1173.5,1724.6 1175.2,1725.2 1177.0,1725.7 1178.7,1726.3 1180.5,1726.9 1182.2,1727.5 1183.9,1728.1 1185.7,1728.6 1187.4,1729.1 1189.1,1729.7 1190.9,1730.2 1192.6,1730.7 1194.4,1731.2 1196.1,1731.6 1197.8,1732.1 1199.6,1732.5 1201.3,1732.9 1203.0,1733.3 1204.8,1733.6 1206.5,1734.0 1208.3,1734.3 1210.0,1734.6 1211.7,1734.9 1213.5,1735.2 1215.2,1735.5 1217.0,1735.7 1218.7,1735.9 1220.4,1736.2 1222.2,1736.3 1223.9,1736.5 1225.6,1736.7 1227.4,1736.9 1229.1,1737.0 1230.9,1737.1 1232.6,1737.3 1234.3,1737.4 1236.1,1737.5 1237.8,1737.6 1239.5,1737.7 1241.3,1737.8 1243.0,1737.8 1244.8,1737.9 1246.5,1738.0 1248.2,1738.0 1250.0,1738.1 1251.7,1738.1 1253.4,1738.2 1255.2,1738.2 1256.9,1738.3 1258.7,1738.3 1260.4,1738.3 1262.1,1738.4 1263.9,1738.4 1265.6,1738.4 1267.4,1738.5 1269.1,1738.5 1270.8,1738.5 1272.6,1738.5 1274.3,1738.5 1276.0,1738.6 1277.8,1738.6 1279.5,1738.6 1281.3,1738.6 1283.0,1738.6 1284.7,1738.6 1286.5,1738.6 1288.2,1738.7 1289.9,1738.7 1291.7,1738.7 1293.4,1738.7 1295.2,1738.7 1296.9,1738.7 1298.6,1738.7 1300.4,1738.7 1302.1,1738.7 1303.9,1738.8 1305.6,1738.8 1307.3,1738.8 1309.1,1738.8 1310.8,1738.8 1312.5,1738.8 1314.3,1738.8 1316.0,1738.8 1317.8,1738.8 1319.5,1738.8 1321.2,1738.8 1323.0,1738.8 1324.7,1738.8 1326.4,1738.9 1328.2,1738.9 1329.9,1738.9 1331.7,1738.9 1333.4,1738.9 1335.1,1738.9 1336.9,1738.9 1338.6,1738.9 1340.3,1738.9 1342.1,1738.9 1343.8,1738.9 1345.6,1738.9 1347.3,1738.9 1349.0,1738.9 1350.8,1738.9 1352.5,1738.9 1354.3,1738.9 1356.0,1738.9 1357.7,1738.9 1359.5,1738.9 1361.2,1738.9 1362.9,1738.9 1364.7,1738.9 1366.4,1739.0 1368.2,1739.0 1369.9,1739.0 1371.6,1739.0 1373.4,1739.0 1375.1,1739.0 1376.8,1739.0 1378.6,1739.0 1380.3,1739.0 1382.1,1739.0 1383.8,1739.0 1385.5,1739.0 1387.3,1739.0 1389.0,1739.0 1390.8,1739.0 1392.5,1739.0 1394.2,1739.0 1396.0,1739.0 1397.7,1739.0 1399.4,1739.0 1401.2,1739.0 1402.9,1739.0 1404.7,1739.0 1406.4,1739.0 1408.1,1739.0 1409.9,1739.0 1411.6,1739.0 1413.3,1739.0 1415.1,1739.0 1416.8,1739.0 1418.6,1739.0 1420.3,1739.0 1422.0,1739.0 1423.8,1739.0 1425.5,1739.0 1427.2,1739.0 1429.0,1739.0 1430.7,1739.0 1432.5,1739.0 1434.2,1739.0 1435.9,1739.0 1437.7,1739.0 1439.4,1739.0 1441.2,1739.0 1442.9,1739.0 1444.6,1739.0 1446.4,1739.0 1448.1,1739.0 1449.8,1739.0 1451.6,1739.0 1453.3,1739.0 1455.1,1739.0 1456.8,1739.0 1458.5,1739.0 1460.3,1739.0 1462.0,1739.0 1463.7,1739.0 1465.5,1739.0 1467.2,1739.0 1469.0,1739.0 1470.7,1739.0 1472.4,1739.0 1474.2,1739.0 1475.9,1739.0 1477.7,1739.0 1479.4,1739.0 1481.1,1739.0 1482.9,1739.0 1484.6,1739.0 1486.3,1739.0 1488.1,1739.0 1489.8,1739.0 1491.6,1739.0 1493.3,1739.0 1495.0,1739.0 1496.8,1739.0" fill="none" stroke="#CC44FF" stroke-width="3.6" stroke-linejoin="round"/>
</g>
<rect x="887.6" y="1280.8" width="609.50" height="491.60" fill="none" stroke="#000" stroke-width="2.5"/>
<line x1="877.60" y1="1690.30" x2="887.60" y2="1690.30" stroke="#000" stroke-width="2.5" />
<text x="853.16" y="1699.80" font-size="32.5" text-anchor="start" >2</text>
<line x1="877.60" y1="1526.50" x2="887.60" y2="1526.50" stroke="#000" stroke-width="2.5" />
<text x="852.48" y="1536.00" font-size="32.5" text-anchor="start" >4</text>
<line x1="877.60" y1="1362.70" x2="887.60" y2="1362.70" stroke="#000" stroke-width="2.5" />
<text x="852.95" y="1372.20" font-size="32.5" text-anchor="start" >6</text>
<line x1="882.60" y1="1608.40" x2="887.60" y2="1608.40" stroke="#000" stroke-width="2.5" />
<line x1="882.60" y1="1444.60" x2="887.60" y2="1444.60" stroke="#000" stroke-width="2.5" />
<line x1="887.60" y1="1772.40" x2="887.60" y2="1782.40" stroke="#000" stroke-width="2.5" />
<text x="860.31" y="1812.00" font-size="32.5" text-anchor="start" >534</text>
<line x1="1061.40" y1="1772.40" x2="1061.40" y2="1782.40" stroke="#000" stroke-width="2.5" />
<text x="1034.45" y="1812.00" font-size="32.5" text-anchor="start" >532</text>
<line x1="1235.20" y1="1772.40" x2="1235.20" y2="1782.40" stroke="#000" stroke-width="2.5" />
<text x="1208.07" y="1812.00" font-size="32.5" text-anchor="start" >530</text>
<line x1="1409.00" y1="1772.40" x2="1409.00" y2="1782.40" stroke="#000" stroke-width="2.5" />
<text x="1381.94" y="1812.00" font-size="32.5" text-anchor="start" >528</text>
<line x1="974.50" y1="1772.40" x2="974.50" y2="1777.40" stroke="#000" stroke-width="2.5" />
<line x1="1148.30" y1="1772.40" x2="1148.30" y2="1777.40" stroke="#000" stroke-width="2.5" />
<line x1="1322.10" y1="1772.40" x2="1322.10" y2="1777.40" stroke="#000" stroke-width="2.5" />
<line x1="1495.90" y1="1772.40" x2="1495.90" y2="1777.40" stroke="#000" stroke-width="2.5" />
<text x="813.10" y="1663.00" font-size="32.5" text-anchor="start" transform="rotate(-90 813.1 1663)" xml:space="preserve">Intensity x 10<tspan font-size="21" dy="-11.5">4</tspan><tspan dy="11.5">  (a.u.)</tspan></text>
<text x="1050.21" y="1860.80" font-size="32.8" text-anchor="start" >Binding energy (eV)</text>
<text x="794.60" y="1286.20" font-size="32" font-weight="bold" text-anchor="start" >d</text>
<text x="1073.3" y="1332.1" font-size="33">WO<tspan font-size="21" dy="7.5">3</tspan><tspan font-size="33" dy="-7.5" dx="4">{110} - CH</tspan><tspan font-size="21" dy="7.5">4</tspan></text>
<text x="1237.33" y="1429.20" font-size="32.5">Lattice-O</text>
<text x="1089.16" y="1547.30" font-size="32.5">OH</text>
<text x="929.84" y="1602.40" font-size="32.5">Adsorbed</text>
<text x="937.16" y="1640.00" font-size="32.5">O<tspan font-size="19" dy="11">2</tspan></text>
<line x1="1282.10" y1="1446.00" x2="1249.22" y2="1483.21" stroke="#000" stroke-width="4.6" />
<polygon points="1237.30,1496.70 1244.92,1476.75 1256.16,1486.68" fill="#000"/>
<line x1="1113.30" y1="1571.30" x2="1129.52" y2="1688.17" stroke="#000" stroke-width="4.6" />
<polygon points="1132.00,1706.00 1121.82,1687.22 1136.68,1685.16" fill="#000"/>
<line x1="1023.50" y1="1626.50" x2="1035.95" y2="1680.46" stroke="#000" stroke-width="4.6" />
<polygon points="1040.00,1698.00 1028.19,1680.20 1042.81,1676.83" fill="#000"/>
</svg></body></html>
